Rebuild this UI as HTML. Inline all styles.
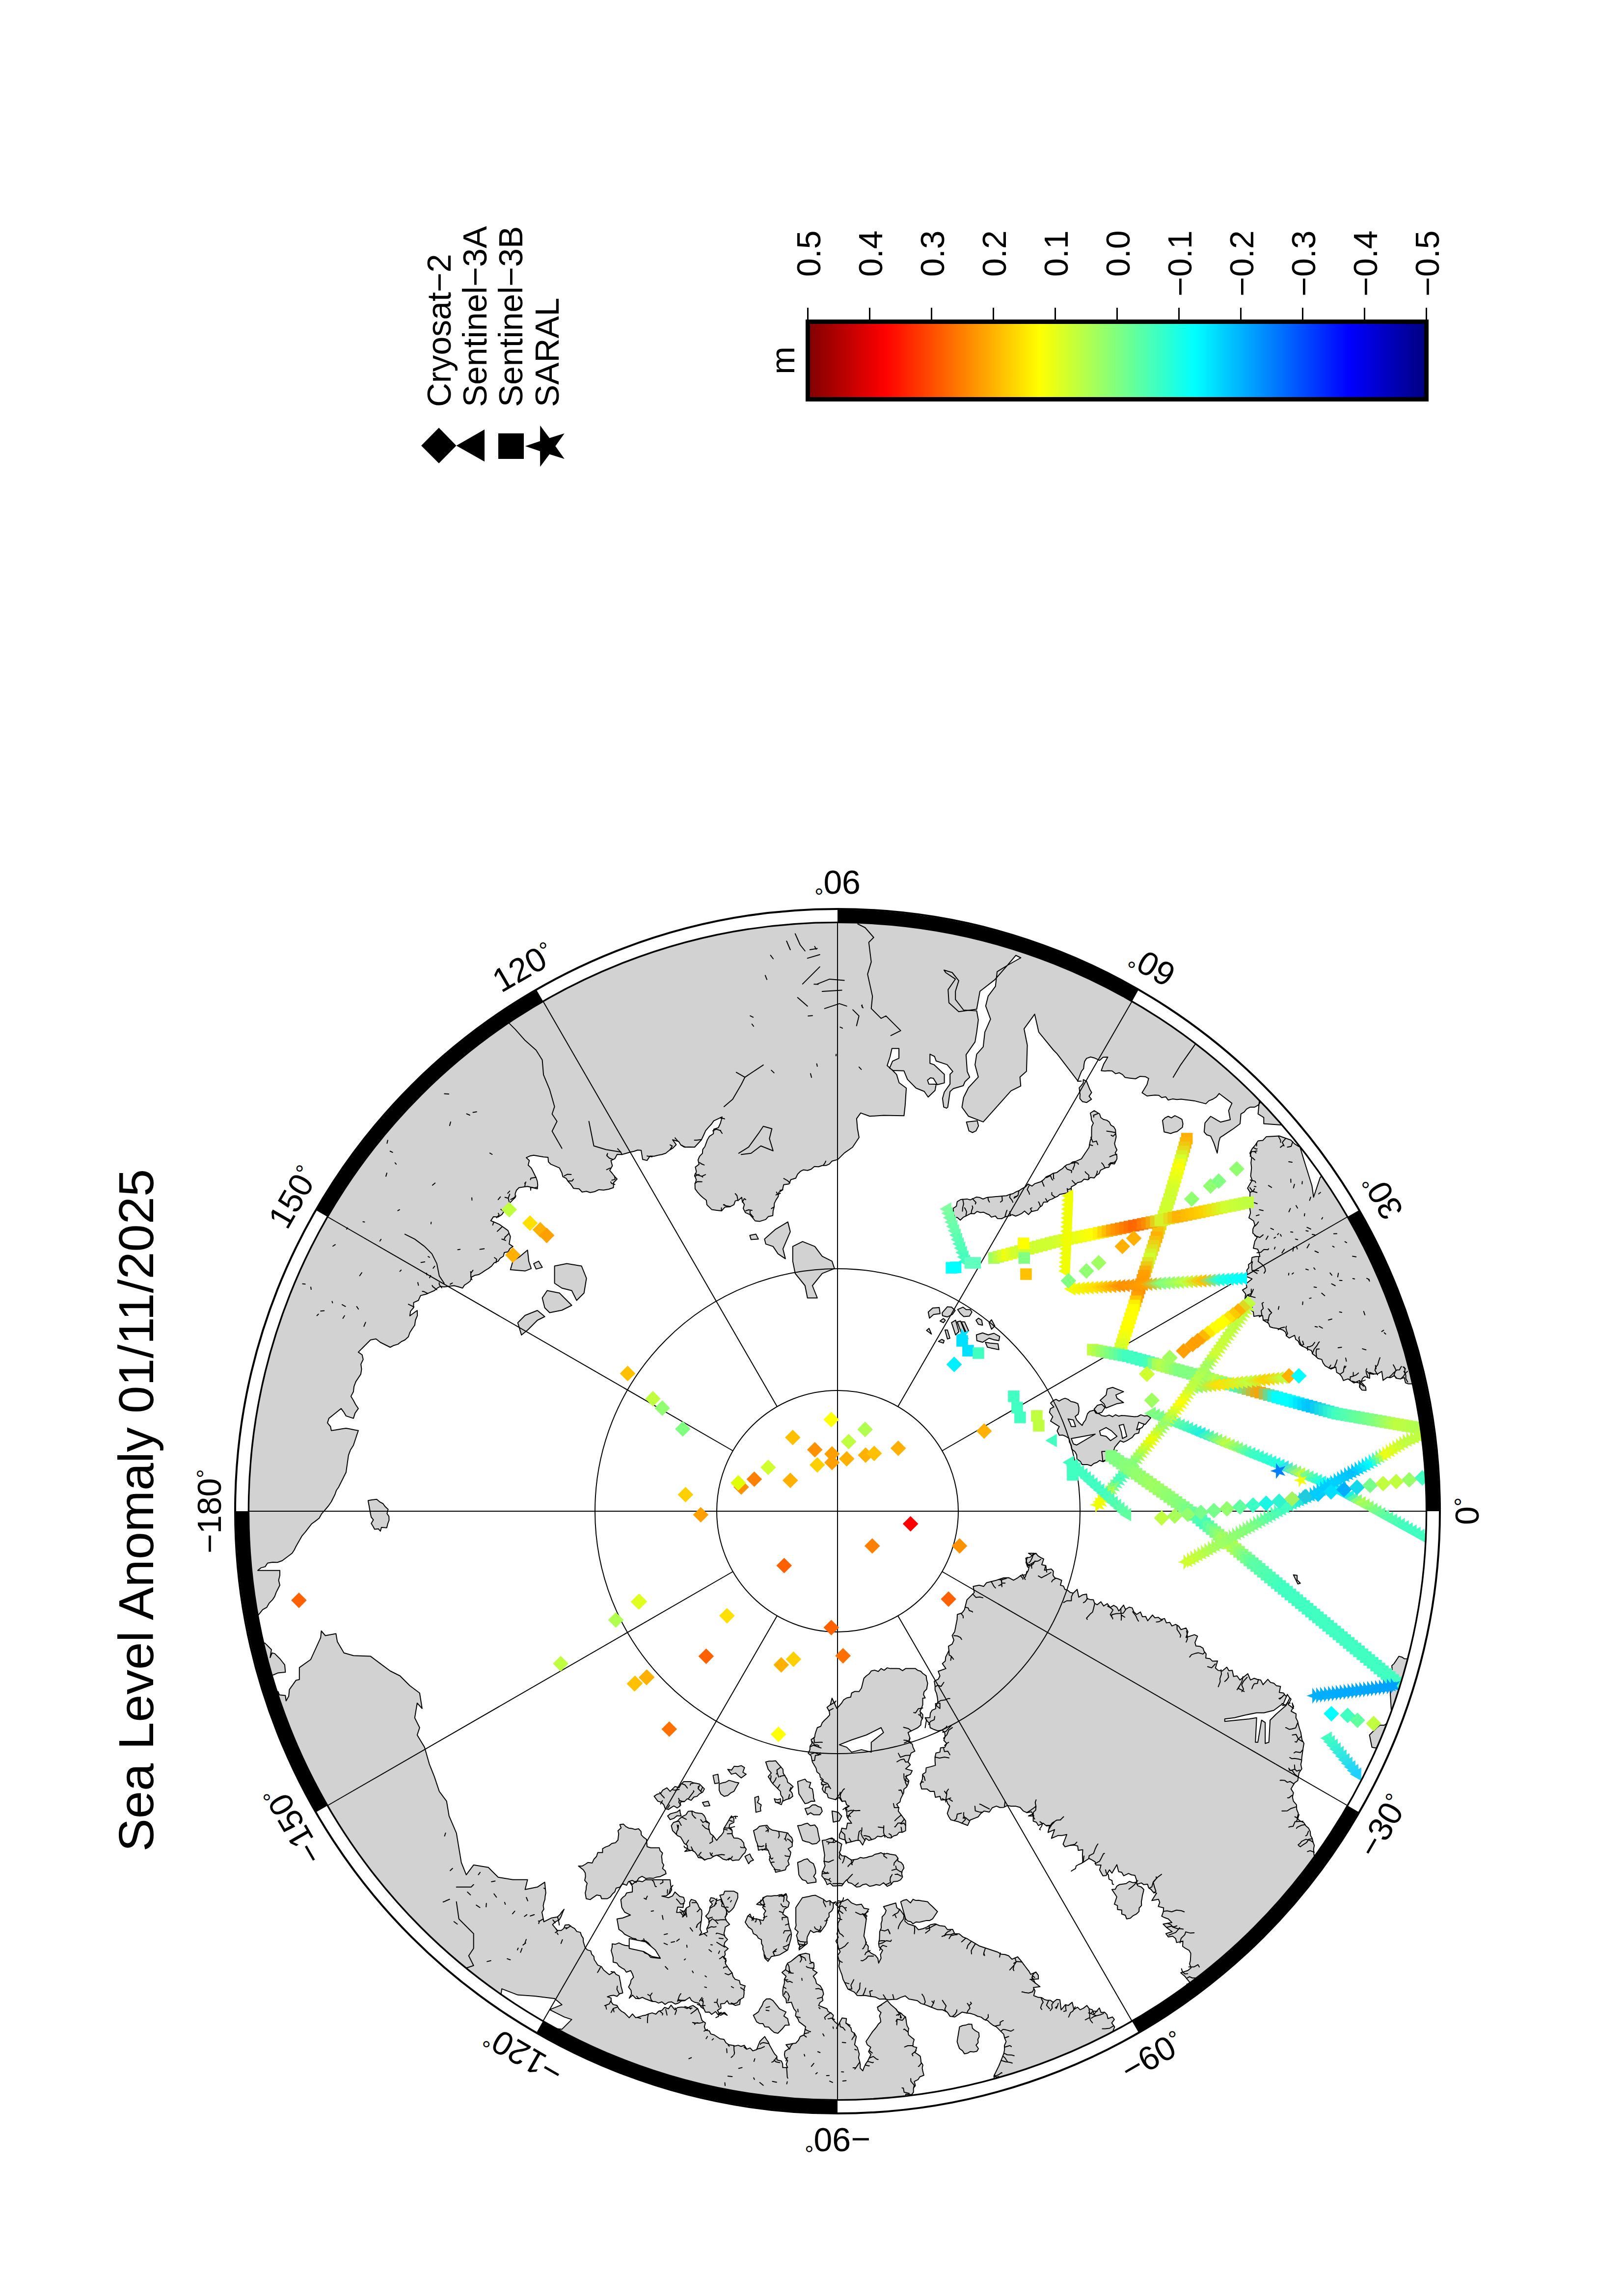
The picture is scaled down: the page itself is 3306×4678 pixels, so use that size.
<!DOCTYPE html>
<html><head><meta charset="utf-8"><style>html,body{margin:0;padding:0;background:#fff;width:3306px;height:4678px;overflow:hidden;position:relative}</style></head>
<body>
<svg width="3306" height="4678" viewBox="0 0 3306 4678" style="position:absolute;left:0;top:0"><rect width="100%" height="100%" fill="#fff"/><defs><clipPath id="mc"><circle cx="1706.0" cy="3079.0" r="1199.6"/></clipPath></defs><g clip-path="url(#mc)"><path d="M407.0,3313.4 L525.0,3292.1 L535.0,3279.6 L543.5,3274.8 L548.3,3266.3 L555.0,3259.6 L559.6,3252.6 L562.5,3244.6 L566.2,3237.2 L570.0,3229.7 L567.6,3219.7 L570.0,3209.7 L570.0,3199.7 L560.0,3199.7 L550.0,3199.7 L541.6,3199.7 L533.3,3199.7 L525.0,3199.7 L531.4,3194.4 L540.1,3192.1 L545.0,3184.7 L555.0,3183.1 L565.3,3183.3 L575.0,3179.7 L581.6,3174.7 L588.3,3169.7 L594.9,3164.7 L599.4,3158.0 L602.9,3150.7 L606.9,3143.7 L610.9,3136.7 L614.9,3129.7 L621.8,3121.6 L628.3,3113.1 L634.9,3104.7 L642.6,3099.1 L650.1,3093.3 L654.9,3084.7 L661.9,3076.6 L668.8,3068.5 L674.9,3059.8 L678.6,3052.3 L682.4,3044.8 L685.1,3036.7 L689.9,3029.8 L693.6,3022.3 L697.4,3014.8 L701.1,3007.3 L704.9,2999.8 L706.1,2991.1 L707.4,2982.3 L708.6,2973.6 L709.9,2964.8 L713.8,2954.3 L719.9,2944.8 L723.2,2934.8 L726.5,2924.8 L729.9,2914.8 L721.5,2913.2 L713.2,2911.5 L704.9,2909.9 L694.9,2911.4 L684.9,2913.2 L674.9,2914.8 L673.2,2906.5 L667.0,2899.1 L669.9,2889.9 L678.2,2883.2 L686.5,2876.5 L694.9,2869.9 L700.2,2877.1 L704.9,2884.9 L719.9,2889.9 L723.3,2879.1 L729.9,2869.9 L724.4,2861.8 L719.9,2853.2 L714.9,2844.9 L719.9,2835.5 L721.1,2824.8 L724.9,2814.9 L729.9,2807.4 L734.9,2799.9 L736.5,2789.9 L735.2,2779.4 L739.8,2769.9 L737.7,2760.5 L729.9,2754.9 L739.8,2745.0 L747.3,2737.5 L754.8,2730.0 L765.9,2728.0 L774.8,2735.0 L784.8,2740.0 L794.8,2745.0 L802.3,2741.2 L810.5,2738.9 L817.3,2733.7 L824.8,2730.0 L831.8,2723.8 L834.8,2715.0 L839.7,2707.4 L844.8,2700.0 L846.2,2690.0 L850.2,2680.3 L849.8,2670.0 L834.8,2681.0 L836.2,2671.7 L842.3,2664.5 L842.6,2653.9 L852.3,2649.5 L856.7,2639.6 L867.3,2637.0 L876.0,2633.3 L884.8,2629.5 L890.6,2624.7 L896.8,2621.0 L904.7,2622.0 L914.7,2620.8 L924.7,2619.5 L933.6,2621.8 L942.2,2624.5 L946.1,2618.4 L952.2,2614.5 L957.8,2610.2 L960.5,2602.0 L966.9,2598.6 L974.7,2597.1 L981.5,2593.1 L988.0,2588.7 L994.7,2584.6 L1001.4,2579.6 L1006.7,2572.9 L1014.7,2569.6 L1018.8,2563.7 L1025.3,2559.5 L1027.2,2552.1 L1034.8,2550.5 L1038.8,2543.8 L1044.7,2539.6 L1037.2,2534.6 L1038.4,2527.1 L1039.7,2519.6 L1034.7,2507.1 L1028.8,2502.9 L1023.0,2498.8 L1017.2,2494.6 L1008.5,2490.7 L999.7,2487.1 L1005.1,2479.1 L1014.7,2479.6 L1022.3,2474.7 L1027.2,2467.1 L1035.8,2462.1 L1037.2,2452.1 L1043.4,2445.9 L1049.7,2439.6 L1049.5,2432.0 L1051.9,2425.3 L1057.2,2419.7 L1065.9,2418.4 L1074.6,2417.2 L1084.6,2419.7 L1094.6,2422.2 L1095.3,2414.5 L1094.6,2407.0 L1092.1,2399.7 L1088.8,2393.0 L1085.5,2386.3 L1082.1,2379.7 L1075.9,2374.1 L1078.2,2364.4 L1072.1,2358.7 L1079.3,2355.3 L1087.1,2353.7 L1097.1,2355.5 L1107.1,2357.2 L1116.3,2358.0 L1117.1,2367.2 L1122.1,2372.2 L1130.9,2375.9 L1139.6,2379.7 L1144.6,2389.7 L1146.4,2397.3 L1153.3,2400.9 L1157.1,2407.0 L1162.1,2412.2 L1168.5,2421.3 L1179.6,2422.2 L1185.7,2428.8 L1194.6,2427.2 L1202.1,2429.7 L1211.2,2428.0 L1219.9,2423.9 L1229.5,2424.7 L1239.8,2423.0 L1249.5,2419.7 L1249.9,2409.5 L1257.0,2402.2 L1251.7,2396.6 L1247.0,2390.5 L1242.0,2384.7 L1247.4,2375.2 L1244.5,2364.7 L1252.2,2360.9 L1257.1,2351.9 L1267.0,2352.2 L1275.8,2349.7 L1284.5,2347.2 L1291.6,2345.8 L1298.6,2343.2 L1306.0,2343.7 L1309.0,2362.2 L1318.0,2364.4 L1324.0,2355.4 L1332.5,2355.7 L1340.3,2353.7 L1348.3,2352.3 L1356.0,2349.7 L1363.1,2343.9 L1371.0,2338.9 L1377.4,2332.2 L1370.0,2322.2 L1382.4,2325.7 L1386.8,2332.8 L1393.9,2337.2 L1404.4,2337.0 L1414.9,2337.2 L1421.9,2329.7 L1428.9,2322.2 L1433.2,2313.0 L1437.4,2303.7 L1442.9,2297.1 L1448.9,2290.8 L1453.9,2283.7 L1462.4,2279.7 L1470.9,2275.7 L1467.4,2288.7 L1463.2,2297.6 L1453.9,2300.7 L1453.1,2310.0 L1445.2,2315.1 L1440.9,2322.2 L1438.4,2329.1 L1435.9,2336.0 L1431.4,2342.1 L1430.9,2349.7 L1424.9,2356.1 L1421.9,2363.4 L1423.9,2372.2 L1416.4,2377.9 L1418.6,2387.4 L1414.9,2394.7 L1418.3,2403.7 L1415.6,2413.0 L1415.9,2422.2 L1420.5,2428.7 L1425.9,2434.7 L1432.0,2440.3 L1438.8,2445.5 L1439.9,2454.6 L1444.9,2459.6 L1449.9,2464.6 L1459.9,2465.9 L1469.9,2467.1 L1476.5,2459.6 L1486.5,2458.8 L1494.9,2454.6 L1497.7,2446.9 L1505.5,2444.6 L1510.9,2439.6 L1511.9,2447.1 L1516.3,2454.2 L1513.9,2462.1 L1518.4,2470.7 L1527.4,2474.6 L1532.9,2480.8 L1538.2,2487.5 L1547.3,2488.6 L1559.8,2484.6 L1564.8,2478.8 L1574.2,2476.7 L1574.8,2467.1 L1576.8,2459.6 L1577.3,2451.7 L1580.8,2444.6 L1585.2,2438.0 L1586.4,2429.3 L1593.8,2424.7 L1596.3,2413.8 L1607.3,2412.2 L1610.9,2403.5 L1620.9,2400.5 L1624.8,2392.2 L1630.3,2386.7 L1636.7,2383.4 L1644.8,2384.7 L1652.3,2382.2 L1658.8,2376.7 L1667.3,2377.2 L1674.8,2374.7 L1682.7,2374.6 L1689.5,2371.7 L1694.8,2365.7 L1706.7,2362.4 L1720.0,2349.1 L1736.6,2337.5 L1749.9,2317.5 L1746.6,2299.2 L1744.9,2279.2 L1753.2,2267.6 L1771.5,2274.3 L1799.8,2272.6 L1841.4,2273.3 L1843.7,2252.6 L1846.1,2217.0 L1831.4,2206.0 L1826.4,2189.4 L1819.1,2181.8 L1807.1,2171.1 L1813.1,2152.8 L1816.8,2136.2 L1831.1,2136.2 L1831.1,2156.1 L1818.1,2162.1 L1812.1,2176.1 L1819.1,2181.1 L1841.4,2181.8 L1848.4,2199.1 L1866.0,2217.0 L1882.7,2223.7 L1890.6,2235.3 L1904.6,2221.7 L1907.0,2209.0 L1892.0,2208.7 L1889.3,2200.7 L1895.3,2196.1 L1901.3,2197.1 L1909.3,2210.0 L1923.6,2206.4 L1923.6,2189.1 L1902.3,2169.1 L1894.3,2166.5 L1894.3,2147.8 L1903.6,2152.5 L1907.0,2161.8 L1929.2,2169.1 L1940.9,2183.1 L1935.2,2188.7 L1935.2,2208.7 L1923.6,2225.0 L1919.9,2238.0 L1922.3,2255.6 L1928.2,2257.9 L1930.6,2255.6 L1935.2,2224.0 L1941.9,2218.0 L1962.2,2212.0 L1965.5,2204.0 L1975.2,2194.7 L1970.2,2183.1 L1967.8,2149.1 L1986.1,2122.9 L1989.5,2102.9 L1992.8,2077.9 L1989.5,2059.6 L1962.8,2058.0 L1946.2,2036.4 L1946.2,2019.7 L1952.9,1998.1 L1939.6,1981.5 L1922.9,1976.5 L1926.2,1981.5 L1946.2,1994.8 L1931.2,2016.4 L1932.9,2043.0 L1952.9,2061.3 L1989.5,2056.3 L1996.1,2019.7 L2026.1,1996.4 L2049.4,1969.8 L2069.3,1946.5 L2079.3,1951.5 L2052.7,1966.5 L2031.1,1979.8 L2027.7,2009.7 L2012.8,2029.7 L2007.8,2049.7 L2017.7,2076.3 L2006.1,2102.9 L2002.8,2132.8 L1989.5,2147.8 L1986.1,2169.4 L1992.8,2194.4 L1972.8,2216.0 L1962.8,2236.0 L1959.5,2256.0 L1972.8,2274.3 L2002.8,2285.9 L2059.3,2222.7 L2079.3,2212.7 L2077.6,2194.4 L2090.9,2182.8 L2092.6,2129.5 L2086.0,2096.2 L2107.6,2066.3 L2115.9,2102.9 L2145.8,2139.5 L2152.5,2146.2 L2195.7,2202.7 L2202.4,2202.7 L2195.0,2203.0 L2197.6,2196.4 L2200.2,2189.7 L2202.8,2183.0 L2207.3,2177.1 L2208.0,2169.7 L2209.3,2162.6 L2213.3,2156.4 L2221.5,2153.5 L2229.9,2155.8 L2239.9,2160.4 L2247.0,2154.1 L2256.5,2153.8 L2252.4,2160.9 L2248.2,2168.1 L2245.7,2174.7 L2243.2,2181.4 L2250.5,2182.3 L2258.0,2181.6 L2265.4,2181.9 L2272.2,2187.6 L2279.8,2185.7 L2286.5,2189.3 L2291.8,2195.3 L2299.8,2196.4 L2313.1,2198.0 L2322.4,2192.9 L2333.0,2193.7 L2339.7,2197.4 L2336.4,2209.7 L2331.4,2218.0 L2326.4,2226.3 L2336.4,2233.0 L2344.7,2232.1 L2353.0,2231.3 L2360.5,2231.7 L2366.3,2236.3 L2374.5,2234.7 L2379.6,2241.3 L2388.4,2239.1 L2397.4,2240.2 L2406.2,2239.6 L2415.1,2240.7 L2424.0,2241.8 L2432.9,2242.9 L2440.6,2244.9 L2448.4,2246.9 L2456.2,2248.9 L2462.3,2242.9 L2470.6,2239.5 L2477.8,2234.8 L2483.4,2228.0 L2489.9,2233.0 L2496.4,2237.9 L2502.9,2242.9 L2509.4,2247.9 L2505.9,2255.4 L2502.7,2262.9 L2504.4,2272.1 L2506.1,2281.2 L2496.1,2283.7 L2486.1,2286.2 L2479.4,2282.3 L2472.8,2278.4 L2466.1,2274.5 L2460.3,2281.2 L2454.5,2287.9 L2453.7,2297.0 L2452.8,2306.2 L2457.8,2312.0 L2466.2,2314.9 L2469.6,2322.1 L2472.8,2329.4 L2475.0,2336.1 L2477.2,2342.8 L2479.4,2349.4 L2480.6,2341.6 L2481.7,2333.9 L2482.8,2326.1 L2485.4,2317.7 L2492.8,2312.8 L2499.4,2308.4 L2506.1,2303.9 L2512.7,2299.5 L2519.4,2294.5 L2526.0,2289.5 L2526.9,2279.5 L2527.7,2269.6 L2534.4,2265.6 L2539.3,2259.6 L2546.7,2255.7 L2555.3,2255.8 L2562.6,2251.9 L2567.6,2245.6 L2654.8,2161.3 L2654.8,2161.3 L2605.5,2112.9 L2553.7,2067.1 L2499.5,2024.2 L2443.2,1984.1 L2384.9,1947.0 L2324.8,1913.0 L2262.9,1882.2 L2199.5,1854.7 L2134.7,1830.6 L2068.8,1809.8 L2001.9,1792.6 L1934.2,1778.9 L1865.8,1768.7 L1797.0,1762.1 L1728.0,1759.2 L1658.9,1759.8 L1589.9,1764.1 L1521.2,1772.0 L1453.1,1783.5 L1385.6,1798.5 L1319.0,1817.0 L1253.5,1839.0 L1189.3,1864.4 L1126.4,1893.1 L1065.1,1925.0 L1005.6,1960.1 L948.0,1998.3 L892.5,2039.5 L839.2,2083.5 L788.3,2130.2 L739.9,2179.5 L694.1,2231.3 L651.2,2285.5 L611.1,2341.8 L574.0,2400.1 L540.0,2460.2 L509.2,2522.1 L481.7,2585.5 L457.6,2650.3 L436.8,2716.2 L419.6,2783.1 L405.9,2850.8 L395.7,2919.2 L389.1,2988.0 L386.2,3057.0 L386.8,3126.1 L391.1,3195.1 L399.0,3263.8 L407.0,3313.4ZM2741.5,2260.4 L2645.8,2336.1 L2636.8,2330.4 L2629.2,2322.8 L2621.4,2320.0 L2613.6,2317.2 L2605.9,2314.5 L2597.0,2315.0 L2588.1,2315.6 L2579.3,2316.1 L2572.5,2323.4 L2562.6,2324.5 L2557.1,2332.8 L2550.6,2340.5 L2546.0,2349.4 L2549.4,2359.1 L2548.2,2369.4 L2549.3,2379.4 L2548.5,2387.7 L2547.5,2396.0 L2550.6,2404.7 L2546.0,2412.6 L2541.2,2420.9 L2546.4,2429.3 L2546.0,2437.6 L2548.3,2445.9 L2546.0,2454.2 L2546.0,2462.5 L2547.2,2471.2 L2544.0,2481.2 L2553.5,2487.5 L2556.0,2495.8 L2552.1,2504.1 L2552.0,2512.4 L2560.9,2520.8 L2556.0,2529.1 L2553.0,2543.2 L2561.9,2545.2 L2564.5,2552.2 L2566.4,2559.9 L2557.9,2560.3 L2550.3,2561.9 L2548.9,2572.3 L2543.1,2576.5 L2543.6,2582.9 L2539.7,2588.1 L2540.5,2594.6 L2536.4,2599.8 L2550.4,2605.7 L2538.6,2615.3 L2539.7,2623.1 L2530.9,2628.4 L2537.2,2636.3 L2536.4,2643.0 L2535.0,2653.3 L2545.3,2651.9 L2549.7,2656.3 L2544.1,2666.1 L2553.0,2673.0 L2554.0,2682.0 L2563.6,2680.6 L2572.0,2680.7 L2573.0,2689.6 L2578.3,2692.9 L2583.9,2695.8 L2586.7,2703.2 L2592.8,2705.3 L2599.6,2706.2 L2606.8,2707.8 L2613.4,2710.0 L2618.6,2714.2 L2620.9,2722.2 L2626.2,2726.2 L2637.1,2720.7 L2639.3,2729.0 L2644.5,2732.5 L2647.5,2739.5 L2652.9,2742.8 L2659.1,2745.6 L2664.8,2749.1 L2671.2,2751.6 L2674.1,2758.9 L2679.5,2762.8 L2684.5,2767.8 L2692.4,2769.9 L2695.1,2777.1 L2699.4,2782.8 L2705.3,2786.1 L2711.1,2789.4 L2721.1,2785.4 L2722.7,2796.1 L2728.6,2799.4 L2733.1,2804.9 L2736.4,2812.7 L2746.0,2809.4 L2751.8,2813.5 L2757.7,2817.7 L2770.0,2812.7 L2769.3,2826.0 L2774.5,2832.3 L2782.6,2832.7 L2781.6,2825.8 L2777.2,2820.8 L2772.6,2816.0 L2775.4,2808.6 L2780.3,2804.6 L2789.9,2808.1 L2789.8,2796.2 L2799.3,2799.4 L2806.4,2799.1 L2814.7,2794.2 L2817.2,2812.4 L2825.9,2806.1 L2832.5,2806.9 L2839.8,2803.0 L2845.8,2808.6 L2852.5,2809.4 L2860.5,2806.8 L2862.9,2817.3 L2868.8,2819.6 L2875.8,2819.4 L2994.6,2793.0 L2994.6,2793.0 L2977.9,2725.9 L2957.7,2659.9 L2934.0,2594.9 L2907.0,2531.3 L2876.7,2469.2 L2843.2,2408.8 L2806.6,2350.2 L2766.9,2293.6 L2741.5,2260.4ZM2564.3,2252.3 L2562.6,2269.6 L2574.3,2276.9 L2574.3,2289.5 L2619.2,2292.8 L2619.2,2236.3 L2566.0,2236.3ZM2488.9,4141.8 L2417.3,4044.6 L2423.7,4039.1 L2418.3,4032.7 L2413.1,4026.2 L2405.2,4019.5 L2419.8,4014.7 L2426.2,4009.2 L2423.1,4001.3 L2424.8,3994.7 L2425.2,3987.3 L2425.6,3979.9 L2422.3,3973.9 L2414.8,3969.7 L2409.0,3965.5 L2409.6,3954.9 L2396.7,3957.9 L2394.8,3949.7 L2388.8,3945.0 L2379.8,3946.4 L2374.8,3939.7 L2387.6,3935.7 L2376.8,3927.7 L2369.3,3920.3 L2387.1,3917.1 L2379.8,3909.7 L2372.7,3907.3 L2366.4,3904.2 L2369.8,3894.7 L2370.2,3887.3 L2359.4,3884.4 L2362.3,3876.0 L2359.8,3869.8 L2346.2,3872.2 L2355.9,3857.1 L2348.6,3854.8 L2344.8,3849.8 L2339.8,3846.4 L2337.5,3839.1 L2329.9,3839.8 L2324.9,3836.4 L2315.7,3839.3 L2314.9,3829.8 L2311.8,3821.0 L2304.8,3820.0 L2298.7,3817.1 L2288.9,3821.8 L2284.9,3814.8 L2278.6,3813.5 L2275.0,3799.2 L2265.0,3816.5 L2259.9,3809.8 L2253.2,3821.2 L2246.6,3821.9 L2239.9,3809.8 L2242.7,3799.9 L2232.4,3799.8 L2230.7,3793.3 L2224.9,3789.8 L2218.3,3786.5 L2205.7,3794.9 L2204.9,3779.8 L2205.5,3768.8 L2196.4,3770.0 L2195.2,3761.2 L2188.5,3759.4 L2179.9,3759.8 L2169.4,3762.8 L2165.5,3757.4 L2173.0,3737.8 L2163.2,3739.8 L2155.0,3739.8 L2141.7,3745.6 L2148.2,3727.7 L2134.8,3733.6 L2138.2,3719.3 L2130.0,3719.0 L2125.0,3714.8 L2115.2,3719.4 L2111.1,3712.7 L2104.6,3710.6 L2104.7,3695.4 L2095.0,3699.9 L2106.0,3699.9 L2101.2,3691.4 L2091.7,3693.2 L2084.5,3689.9 L2077.8,3682.5 L2069.1,3680.1 L2059.5,3679.9 L2052.0,3678.7 L2044.5,3682.4 L2037.0,3682.8 L2029.5,3679.9 L2021.2,3683.2 L2015.1,3692.0 L2004.6,3689.9 L1997.9,3694.9 L1992.6,3701.7 L1984.6,3704.9 L1976.2,3708.2 L1971.0,3719.3 L1959.6,3714.8 L1952.3,3711.8 L1944.6,3709.9 L1936.7,3707.7 L1932.8,3701.7 L1929.6,3694.9 L1932.1,3687.4 L1934.6,3679.9 L1930.2,3674.3 L1927.7,3666.8 L1917.0,3667.4 L1914.6,3659.9 L1905.3,3661.9 L1903.0,3649.8 L1894.6,3649.9 L1888.0,3644.9 L1877.4,3645.1 L1874.6,3634.9 L1878.8,3625.3 L1879.6,3614.9 L1885.7,3611.0 L1886.6,3601.9 L1894.6,3599.9 L1905.3,3596.9 L1904.6,3588.2 L1904.6,3579.9 L1906.5,3571.8 L1914.6,3569.9 L1915.8,3561.2 L1924.6,3559.9 L1928.4,3552.3 L1922.6,3546.0 L1925.0,3538.5 L1924.7,3531.4 L1919.6,3525.0 L1910.6,3526.6 L1902.5,3523.8 L1894.6,3520.0 L1893.7,3512.1 L1888.6,3506.3 L1884.6,3500.0 L1894.2,3499.6 L1895.1,3490.4 L1898.9,3484.3 L1906.0,3481.3 L1905.6,3471.0 L1914.6,3470.0 L1914.6,3481.0 L1907.2,3475.2 L1910.4,3466.9 L1909.6,3459.5 L1908.0,3451.2 L1904.7,3443.2 L1904.6,3434.5 L1903.1,3425.4 L1911.3,3421.2 L1914.6,3414.5 L1911.1,3405.2 L1926.7,3399.6 L1919.6,3389.6 L1925.5,3384.2 L1926.3,3376.2 L1929.6,3369.6 L1932.9,3362.9 L1932.0,3354.1 L1939.6,3349.6 L1943.0,3341.6 L1939.5,3332.2 L1944.6,3324.6 L1946.3,3316.3 L1947.9,3307.9 L1949.6,3299.6 L1950.0,3289.5 L1959.6,3286.3 L1964.6,3279.6 L1967.1,3269.6 L1969.6,3259.6 L1974.6,3254.6 L1979.6,3249.6 L1984.6,3244.6 L1982.4,3232.3 L1994.6,3229.7 L2003.8,3232.2 L2009.6,3224.7 L2019.6,3222.2 L2029.5,3219.7 L2037.0,3217.2 L2044.5,3214.7 L2055.2,3214.6 L2064.5,3219.7 L2072.4,3215.2 L2079.5,3209.7 L2089.5,3208.4 L2094.5,3199.7 L2096.6,3190.6 L2091.2,3183.0 L2089.5,3174.7 L2099.4,3172.4 L2106.0,3164.7 L2095.0,3164.7 L2102.5,3169.5 L2110.0,3164.7 L2114.0,3169.7 L2119.7,3173.3 L2126.0,3176.5 L2122.0,3187.9 L2130.0,3189.7 L2127.5,3199.3 L2141.3,3196.8 L2145.7,3201.3 L2145.0,3209.7 L2148.6,3214.8 L2156.0,3217.0 L2162.6,3219.9 L2160.0,3229.7 L2166.3,3231.6 L2169.1,3238.3 L2175.3,3240.4 L2179.9,3244.6 L2186.2,3245.9 L2194.2,3238.3 L2197.5,3254.2 L2204.9,3249.6 L2213.3,3248.0 L2214.4,3257.1 L2220.4,3258.9 L2227.2,3259.6 L2229.6,3266.7 L2234.9,3269.6 L2242.5,3263.5 L2248.1,3272.1 L2255.5,3267.4 L2261.3,3275.2 L2268.6,3270.8 L2274.9,3274.6 L2279.0,3282.3 L2288.7,3270.4 L2292.5,3279.1 L2300.1,3274.5 L2306.1,3275.9 L2309.9,3284.6 L2315.2,3289.3 L2323.1,3284.3 L2327.0,3294.1 L2333.7,3293.5 L2337.8,3302.3 L2347.6,3290.5 L2352.6,3296.3 L2359.5,3295.3 L2364.8,3299.6 L2372.1,3297.7 L2375.9,3306.5 L2382.8,3305.6 L2387.1,3312.8 L2394.8,3309.6 L2401.1,3313.4 L2405.5,3320.2 L2415.9,3316.9 L2419.8,3324.6 L2415.9,3336.3 L2433.0,3330.6 L2439.3,3333.7 L2434.1,3346.6 L2436.0,3353.5 L2444.8,3354.6 L2450.5,3358.2 L2452.8,3364.6 L2456.8,3369.6 L2456.2,3378.2 L2464.8,3379.6 L2469.8,3384.6 L2480.1,3384.2 L2475.8,3398.5 L2481.1,3403.2 L2489.8,3404.5 L2499.0,3396.8 L2503.2,3404.1 L2510.2,3403.3 L2512.7,3415.8 L2519.7,3414.5 L2525.7,3422.9 L2533.7,3416.5 L2541.8,3410.1 L2547.1,3422.9 L2554.7,3419.5 L2561.2,3421.8 L2568.0,3422.9 L2572.7,3432.5 L2582.5,3421.6 L2588.0,3427.9 L2594.7,3429.5 L2599.8,3434.4 L2608.3,3436.0 L2605.9,3448.3 L2614.7,3449.5 L2618.0,3454.8 L2625.2,3457.6 L2629.9,3461.9 L2624.1,3473.0 L2629.6,3476.9 L2634.7,3481.0 L2632.2,3470.0 L2635.1,3477.2 L2629.9,3486.5 L2640.1,3491.9 L2639.7,3500.0 L2643.3,3507.1 L2645.0,3514.8 L2647.2,3522.5 L2649.7,3530.0 L2650.9,3537.5 L2652.2,3545.0 L2656.1,3552.0 L2654.7,3559.9 L2653.7,3566.9 L2652.7,3573.9 L2651.7,3580.9 L2651.3,3588.0 L2649.7,3594.9 L2651.7,3604.0 L2646.3,3611.6 L2644.7,3619.9 L2643.6,3627.7 L2637.2,3632.4 L2633.4,3638.6 L2629.7,3644.9 L2634.7,3652.5 L2632.7,3661.6 L2634.7,3669.9 L2640.9,3677.1 L2641.3,3686.5 L2644.7,3694.9 L2642.1,3704.9 L2648.0,3709.8 L2655.9,3713.6 L2659.7,3719.8 L2665.7,3725.1 L2668.9,3731.9 L2669.6,3739.8 L2673.1,3746.1 L2674.6,3753.2 L2677.1,3759.8 L2675.8,3767.3 L2676.1,3774.8 L2677.1,3782.3 L2775.1,3853.2 L2775.1,3853.2 L2733.1,3908.1 L2688.3,3960.8 L2640.8,4011.0 L2590.8,4058.6 L2538.3,4103.6 L2488.9,4141.8ZM2050.8,4353.2 L2029.5,4274.5 L2028.7,4267.0 L2027.9,4259.5 L2027.8,4251.9 L2023.5,4244.8 L2025.4,4237.0 L2024.6,4229.5 L2027.9,4222.9 L2031.2,4216.2 L2034.5,4209.5 L2037.9,4201.2 L2041.2,4192.9 L2044.5,4184.6 L2046.2,4176.2 L2046.0,4167.5 L2049.5,4159.6 L2046.3,4152.3 L2044.5,4144.6 L2039.5,4139.6 L2034.5,4134.6 L2029.5,4129.6 L2022.9,4126.5 L2017.1,4122.1 L2011.7,4116.8 L2004.6,4114.6 L1998.6,4109.9 L1991.2,4108.0 L1984.6,4104.6 L1976.4,4102.3 L1967.9,4101.3 L1959.6,4099.6 L1952.1,4104.6 L1944.6,4109.6 L1934.9,4107.9 L1929.6,4099.6 L1920.1,4095.0 L1909.6,4094.6 L1901.3,4091.3 L1893.0,4088.0 L1884.6,4084.6 L1876.0,4082.1 L1868.7,4076.2 L1859.7,4074.6 L1851.3,4073.0 L1843.9,4066.5 L1834.7,4069.6 L1826.8,4073.5 L1818.2,4073.8 L1809.7,4074.6 L1801.0,4072.8 L1791.9,4073.3 L1783.7,4069.1 L1776.0,4068.0 L1768.4,4066.8 L1760.7,4065.6 L1753.2,4066.1 L1746.0,4065.7 L1740.7,4059.1 L1734.0,4055.9 L1727.2,4052.6 L1723.9,4046.0 L1720.6,4039.3 L1717.2,4032.7 L1715.0,4023.6 L1711.6,4015.0 L1708.7,4006.2 L1710.0,3998.8 L1708.4,3991.5 L1706.2,3984.2 L1711.5,3976.7 L1708.0,3969.4 L1706.6,3962.1 L1702.7,3954.9 L1707.5,3947.4 L1704.8,3940.1 L1707.2,3932.7 L1706.5,3925.2 L1707.2,3917.7 L1711.5,3910.2 L1710.5,3902.7 L1707.2,3895.2 L1710.6,3887.7 L1702.4,3880.2 L1707.2,3872.8 L1716.4,3874.3 L1726.6,3869.5 L1734.7,3877.2 L1744.4,3881.2 L1754.7,3879.7 L1760.0,3888.1 L1769.7,3889.7 L1763.4,3898.8 L1764.7,3909.7 L1763.7,3916.7 L1762.7,3923.7 L1761.7,3930.7 L1760.7,3937.7 L1759.7,3944.7 L1762.7,3951.7 L1763.9,3959.5 L1768.7,3965.7 L1768.2,3974.2 L1774.7,3979.7 L1783.1,3983.8 L1788.2,3990.4 L1789.7,3999.7 L1794.7,3989.7 L1793.4,3982.2 L1797.9,3973.7 L1790.9,3967.2 L1789.7,3959.7 L1791.3,3951.8 L1791.7,3943.7 L1791.9,3935.6 L1795.1,3927.9 L1794.7,3919.7 L1796.8,3912.9 L1796.7,3905.7 L1802.5,3899.4 L1805.0,3892.6 L1799.7,3884.7 L1808.0,3882.2 L1816.3,3879.7 L1824.7,3877.2 L1826.7,3886.8 L1834.5,3892.4 L1839.7,3899.7 L1843.6,3906.1 L1843.4,3914.5 L1849.7,3919.7 L1857.2,3922.2 L1864.6,3924.8 L1870.6,3931.7 L1879.6,3929.7 L1888.0,3926.4 L1895.6,3921.4 L1904.6,3919.7 L1914.3,3923.5 L1924.6,3924.7 L1929.9,3931.5 L1940.6,3931.1 L1944.6,3939.7 L1954.1,3940.2 L1961.3,3946.4 L1969.6,3949.7 L1975.8,3953.5 L1982.1,3957.2 L1988.3,3960.9 L1994.6,3964.7 L2002.1,3967.2 L2009.6,3969.7 L2017.1,3972.2 L2024.6,3974.7 L2032.0,3977.2 L2039.0,3981.4 L2047.0,3982.2 L2054.5,3984.7 L2061.3,3991.9 L2072.9,3987.0 L2079.5,3994.7 L2084.5,4001.3 L2089.5,4008.0 L2094.5,4014.7 L2095.0,4014.7 L2099.4,4022.6 L2110.1,4017.9 L2115.0,4024.7 L2115.2,4032.0 L2099.7,4033.0 L2118.4,4047.8 L2105.0,4049.6 L2108.3,4056.3 L2105.7,4066.0 L2115.0,4069.6 L2121.6,4069.9 L2127.0,4073.6 L2133.0,4075.6 L2139.7,4075.5 L2145.0,4079.6 L2152.7,4073.7 L2159.0,4074.4 L2161.4,4095.1 L2170.0,4084.6 L2176.2,4085.9 L2184.0,4079.6 L2187.5,4094.2 L2194.9,4089.6 L2200.2,4094.9 L2206.9,4091.6 L2214.0,4086.1 L2219.0,4093.0 L2224.9,4094.6 L2228.6,4103.7 L2239.4,4091.2 L2242.9,4100.6 L2249.9,4099.7 L2254.9,4104.6 L2256.7,4112.7 L2266.1,4109.5 L2269.9,4114.6 L2264.6,4121.6 L2270.4,4129.8 L2267.4,4137.1 L2324.7,4245.0 L2324.7,4245.0 L2262.8,4275.8 L2199.4,4303.3 L2134.6,4327.5 L2068.7,4348.2 L2050.8,4353.2ZM449.7,3484.0 L566.4,3446.4 L569.1,3453.2 L581.3,3454.5 L582.7,3465.4 L588.1,3455.9 L589.5,3442.3 L603.0,3423.4 L609.8,3422.0 L609.8,3397.6 L632.8,3381.3 L653.2,3336.6 L654.5,3323.0 L662.7,3332.5 L684.3,3328.5 L687.1,3344.7 L700.6,3367.8 L720.0,3373.2 L754.8,3374.6 L774.8,3389.6 L794.8,3404.5 L814.8,3414.5 L834.8,3434.5 L854.8,3449.5 L859.8,3481.0 L849.8,3470.0 L844.8,3500.0 L854.8,3520.0 L849.8,3535.0 L864.8,3559.9 L874.8,3594.9 L884.8,3619.9 L894.8,3649.9 L909.7,3669.9 L914.7,3699.9 L929.7,3734.8 L934.7,3764.8 L939.7,3794.8 L949.7,3819.8 L964.7,3799.8 L994.7,3804.8 L1014.7,3824.8 L1044.7,3829.8 L1074.6,3829.8 L1069.6,3849.8 L1094.6,3844.8 L1109.6,3834.8 L1111.8,3856.8 L1110.5,3863.3 L1110.0,3870.0 L1107.8,3876.4 L1106.5,3882.9 L1107.8,3889.9 L1103.9,3896.0 L1105.2,3902.5 L1106.5,3909.0 L1107.8,3915.5 L1115.7,3911.6 L1123.5,3907.7 L1135.3,3905.7 L1140.5,3901.1 L1144.4,3895.3 L1149.0,3890.1 L1145.7,3897.3 L1143.0,3904.7 L1139.2,3911.6 L1131.5,3915.3 L1125.5,3921.4 L1130.4,3927.3 L1135.3,3933.2 L1143.1,3933.2 L1148.3,3929.3 L1151.2,3922.2 L1158.8,3921.4 L1164.3,3925.9 L1170.5,3929.3 L1174.9,3935.4 L1182.3,3937.1 L1184.3,3943.4 L1187.9,3949.1 L1188.2,3955.9 L1190.1,3962.2 L1192.1,3968.5 L1196.5,3972.9 L1203.3,3974.9 L1205.3,3981.7 L1209.7,3986.1 L1210.5,3992.8 L1214.2,3998.2 L1217.6,4003.7 L1225.0,4006.8 L1229.3,4013.5 L1235.2,4018.4 L1241.1,4023.3 L1250.9,4017.4 L1254.8,4022.7 L1261.4,4025.9 L1262.6,4033.1 L1264.1,4040.0 L1265.0,4047.0 L1267.0,4053.7 L1268.5,4060.5 L1262.3,4062.3 L1256.9,4067.5 L1249.7,4065.3 L1243.3,4066.3 L1237.2,4068.4 L1244.7,4070.9 L1245.0,4078.8 L1248.9,4084.1 L1256.7,4086.0 L1260.7,4092.9 L1266.1,4097.9 L1272.4,4101.7 L1281.7,4111.1 L1288.3,4103.4 L1295.0,4111.1 L1301.7,4109.1 L1308.3,4107.1 L1315.2,4105.7 L1321.6,4103.1 L1328.3,4101.1 L1336.0,4103.8 L1341.6,4097.8 L1348.2,4096.1 L1353.8,4090.0 L1361.5,4092.8 L1366.9,4085.4 L1374.5,4094.8 L1380.3,4090.3 L1386.5,4089.5 L1392.9,4089.6 L1399.6,4092.4 L1405.4,4088.4 L1411.5,4086.1 L1421.4,4092.8 L1423.7,4098.9 L1426.6,4104.7 L1428.1,4111.1 L1430.3,4117.2 L1436.9,4121.7 L1434.7,4129.4 L1437.2,4136.6 L1444.7,4137.7 L1447.9,4144.1 L1454.7,4146.0 L1460.7,4150.0 L1466.7,4154.0 L1474.6,4155.0 L1478.7,4162.0 L1484.6,4166.0 L1490.8,4166.9 L1496.9,4168.8 L1503.5,4167.1 L1509.4,4169.5 L1516.1,4167.2 L1521.2,4175.1 L1527.9,4172.6 L1533.5,4178.5 L1541.2,4176.0 L1544.5,4167.7 L1547.9,4159.3 L1552.9,4154.3 L1557.8,4149.4 L1561.2,4155.3 L1565.2,4160.9 L1567.8,4167.3 L1571.2,4173.3 L1574.5,4179.3 L1577.8,4184.8 L1582.5,4189.6 L1582.7,4197.0 L1591.6,4199.2 L1594.2,4205.2 L1594.4,4212.6 L1604.4,4212.6 L1601.4,4206.3 L1604.4,4198.4 L1599.3,4192.6 L1597.8,4186.0 L1598.9,4179.3 L1607.5,4173.9 L1601.1,4166.0 L1607.8,4164.9 L1614.4,4163.8 L1621.1,4162.7 L1626.4,4157.0 L1630.0,4149.5 L1637.7,4146.0 L1639.4,4137.7 L1641.0,4129.4 L1634.4,4124.4 L1627.7,4119.4 L1625.1,4112.8 L1620.4,4106.9 L1621.8,4098.6 L1617.1,4092.8 L1614.4,4086.1 L1612.1,4079.5 L1602.0,4080.8 L1601.1,4072.8 L1594.9,4065.7 L1594.4,4056.2 L1595.6,4048.4 L1597.8,4040.8 L1597.8,4032.9 L1601.3,4026.6 L1592.8,4018.8 L1600.3,4012.9 L1601.1,4006.3 L1604.5,3999.7 L1611.1,3996.3 L1616.6,3991.9 L1622.2,3987.4 L1627.7,3983.0 L1634.4,3981.3 L1641.0,3979.7 L1648.8,3981.6 L1649.3,3989.6 L1650.8,3996.9 L1657.7,3999.6 L1658.3,4006.3 L1655.6,4013.3 L1664.5,4019.1 L1656.6,4026.6 L1661.0,4032.9 L1663.3,4041.5 L1671.0,4046.2 L1675.5,4054.1 L1677.6,4062.8 L1674.9,4068.6 L1676.1,4076.0 L1670.1,4080.3 L1667.6,4086.1 L1676.0,4089.5 L1684.3,4092.8 L1687.2,4098.7 L1693.2,4101.7 L1697.6,4106.1 L1695.6,4113.7 L1700.8,4119.4 L1707.2,4124.9 L1704.2,4132.7 L1707.6,4126.1 L1710.9,4119.4 L1715.3,4111.5 L1724.2,4112.8 L1723.1,4121.3 L1728.1,4126.5 L1733.3,4131.5 L1734.7,4138.7 L1740.8,4143.3 L1744.2,4149.4 L1742.5,4157.7 L1740.8,4166.0 L1746.4,4171.6 L1748.2,4178.3 L1750.3,4184.9 L1748.8,4192.6 L1750.8,4199.3 L1752.3,4206.1 L1752.2,4213.6 L1757.5,4219.2 L1760.1,4212.2 L1763.2,4205.4 L1767.5,4199.3 L1770.8,4192.6 L1774.1,4186.0 L1769.2,4180.2 L1773.6,4171.0 L1766.6,4166.0 L1764.1,4159.3 L1768.6,4152.7 L1773.0,4146.0 L1777.4,4139.4 L1781.7,4134.5 L1785.8,4129.4 L1789.3,4123.9 L1794.1,4119.4 L1793.2,4113.3 L1791.5,4107.4 L1794.7,4100.4 L1788.8,4095.5 L1787.4,4089.5 L1794.1,4085.0 L1800.7,4080.6 L1807.4,4076.2 L1814.7,4084.6 L1819.7,4088.8 L1824.7,4092.9 L1828.6,4098.4 L1834.7,4101.3 L1839.3,4105.8 L1844.7,4109.6 L1845.7,4115.6 L1846.4,4121.6 L1847.7,4127.6 L1851.0,4133.2 L1849.7,4139.6 L1850.6,4145.9 L1856.3,4150.7 L1862.1,4155.4 L1860.0,4162.8 L1859.7,4169.6 L1867.3,4171.6 L1863.9,4182.0 L1869.5,4185.6 L1874.6,4189.6 L1875.6,4195.6 L1876.1,4201.6 L1879.9,4207.2 L1878.5,4213.6 L1879.6,4219.5 L1881.9,4228.2 L1873.6,4231.5 L1870.0,4237.2 L1862.4,4240.9 L1864.6,4249.5 L1860.7,4254.5 L1860.7,4262.8 L1856.8,4267.8 L1845.1,4266.7 L1844.7,4274.5 L1858.1,4390.2 L1858.1,4390.2 L1789.2,4396.4 L1720.2,4398.9 L1651.1,4397.9 L1582.1,4393.2 L1513.5,4384.9 L1445.5,4373.0 L1378.1,4357.6 L1311.6,4338.7 L1246.2,4316.3 L1182.1,4290.6 L1119.4,4261.5 L1058.3,4229.2 L999.0,4193.7 L941.6,4155.2 L886.4,4113.7 L833.3,4069.4 L782.7,4022.4 L734.6,3972.7 L689.2,3920.7 L646.5,3866.3 L606.7,3809.8 L570.0,3751.3 L536.4,3690.9 L506.0,3628.8 L478.8,3565.3 L455.1,3500.4 L449.7,3484.0ZM539.3,3347.4 L552.9,3361.0 L550.2,3377.3 L554.2,3367.8 L559.6,3369.1 L570.5,3380.0 L580.0,3392.2 L581.3,3407.1 L566.4,3408.4 L556.9,3412.5 L540.7,3415.2 L527.1,3354.2ZM2829.5,3404.5 L2835.9,3401.6 L2835.1,3393.8 L2839.5,3389.6 L2842.9,3384.6 L2846.2,3379.6 L2849.5,3374.6 L2855.4,3376.2 L2860.7,3379.7 L2867.0,3379.6 L2873.6,3378.3 L2880.6,3379.3 L2886.7,3375.8 L2894.1,3379.2 L2899.8,3373.3 L2906.4,3372.1 L2912.8,3370.2 L2919.5,3369.6 L2919.5,3375.8 L2919.5,3382.1 L2919.9,3388.3 L2919.5,3394.6 L2920.4,3400.8 L2920.9,3407.0 L2919.5,3413.3 L2920.2,3419.5 L2922.3,3425.8 L2922.8,3432.0 L2916.7,3438.3 L2919.5,3444.5 L2920.1,3450.8 L2923.1,3457.0 L2916.1,3463.3 L2915.5,3469.5 L2918.0,3475.8 L2918.7,3482.0 L2919.5,3488.2 L2919.5,3494.5 L2913.4,3494.5 L2907.4,3497.7 L2901.3,3494.0 L2895.2,3494.5 L2889.2,3494.5 L2883.1,3495.0 L2877.0,3494.5 L2871.0,3494.3 L2864.9,3495.9 L2858.8,3494.5 L2852.7,3497.6 L2846.7,3494.5 L2840.6,3494.5 L2834.5,3494.5ZM2789.6,3535.0 L2794.6,3530.0 L2799.6,3525.0 L2804.6,3520.0 L2811.2,3514.9 L2819.6,3515.0 L2824.6,3511.5 L2830.2,3508.7 L2836.8,3507.5 L2839.1,3500.1 L2846.0,3499.1 L2851.1,3495.8 L2854.5,3490.0 L2854.5,3496.4 L2854.5,3502.8 L2853.4,3509.3 L2854.5,3515.7 L2855.7,3522.1 L2851.2,3528.5 L2857.2,3535.0 L2854.5,3541.4 L2854.5,3547.8 L2854.5,3554.2 L2858.4,3560.7 L2852.8,3567.1 L2857.5,3573.5 L2854.5,3579.9 L2848.5,3577.9 L2842.2,3577.1 L2835.4,3577.3 L2831.7,3568.4 L2824.6,3569.9 L2817.4,3571.4 L2812.6,3565.9 L2807.6,3560.9 L2800.8,3561.2 L2794.6,3559.9ZM2634.7,3208.7 L2642.2,3209.7 L2642.1,3219.0 L2648.7,3225.7 L2643.7,3227.2ZM2198.3,2216.3 L2202.6,2211.6 L2206.5,2206.6 L2206.6,2199.7 L2213.3,2203.0 L2216.6,2211.3 L2219.9,2219.6 L2223.6,2225.9 L2218.4,2233.6 L2223.3,2239.6 L2213.3,2246.3 L2205.0,2244.6 L2199.5,2238.1 L2200.0,2229.6ZM2368.0,2282.9 L2373.1,2277.7 L2379.6,2274.5 L2386.1,2277.7 L2393.1,2273.2 L2399.6,2276.2 L2407.6,2280.6 L2409.6,2289.5 L2408.6,2296.7 L2402.9,2301.2 L2397.6,2305.6 L2390.9,2307.1 L2384.6,2309.5 L2378.0,2307.8 L2371.3,2306.2ZM2140.0,2858.8 L2144.8,2854.0 L2151.1,2851.1 L2157.2,2854.7 L2163.3,2851.1 L2169.4,2848.9 L2175.5,2851.1 L2181.4,2855.5 L2188.8,2857.0 L2195.4,2859.9 L2197.6,2867.5 L2197.6,2875.5 L2196.2,2881.4 L2190.1,2886.1 L2193.2,2893.2 L2198.5,2899.0 L2204.3,2904.3 L2207.2,2898.4 L2211.3,2893.0 L2213.2,2886.5 L2215.3,2880.3 L2219.8,2875.5 L2228.7,2873.2 L2232.2,2879.2 L2239.0,2880.6 L2244.2,2884.3 L2251.6,2885.6 L2259.3,2883.2 L2266.4,2886.5 L2272.2,2882.5 L2278.6,2885.4 L2284.6,2884.1 L2290.8,2884.3 L2297.4,2885.1 L2304.1,2885.8 L2310.8,2886.5 L2317.4,2886.0 L2323.8,2882.6 L2330.7,2884.9 L2337.4,2884.3 L2344.0,2888.8 L2338.5,2895.4 L2332.9,2902.1 L2324.1,2899.9 L2323.3,2906.7 L2321.1,2913.2 L2319.6,2919.8 L2311.4,2921.9 L2306.3,2928.7 L2300.8,2932.0 L2295.2,2935.3 L2288.6,2938.4 L2281.9,2935.3 L2276.4,2942.0 L2270.8,2948.7 L2268.6,2955.3 L2266.4,2962.0 L2266.1,2970.6 L2258.6,2971.9 L2253.1,2975.3 L2247.1,2978.2 L2239.9,2975.6 L2234.2,2979.7 L2228.1,2981.7 L2222.6,2986.5 L2215.4,2984.1 L2204.3,2984.1 L2200.6,2977.5 L2193.7,2972.6 L2193.2,2964.2 L2189.5,2957.5 L2182.9,2952.5 L2182.1,2944.2 L2178.4,2938.3 L2177.5,2930.6 L2171.0,2926.5 L2164.6,2923.8 L2157.7,2924.3 L2153.3,2915.4 L2157.7,2906.5 L2151.8,2902.8 L2145.9,2899.1 L2140.0,2895.4 L2144.4,2886.5 L2137.7,2877.7 L2139.6,2870.1 L2146.6,2866.6ZM2264.9,3849.8 L2271.8,3849.3 L2274.9,3843.1 L2279.9,3839.8 L2286.9,3838.8 L2293.9,3837.8 L2300.4,3833.2 L2307.9,3835.9 L2314.9,3834.8 L2317.5,3842.1 L2324.9,3844.8 L2329.9,3849.8 L2328.6,3856.0 L2327.0,3862.2 L2326.1,3868.5 L2324.9,3874.8 L2325.3,3882.2 L2320.5,3887.5 L2320.1,3894.6 L2314.9,3899.7 L2308.2,3903.1 L2302.5,3908.2 L2294.9,3909.7 L2292.3,3902.3 L2284.9,3899.7 L2285.1,3891.8 L2276.3,3890.5 L2276.3,3882.7 L2269.9,3879.7 L2272.4,3872.3 L2274.9,3864.8ZM749.8,3057.3 L758.5,3055.7 L767.3,3054.8 L773.2,3059.8 L780.1,3063.5 L784.8,3069.8 L790.6,3075.2 L788.3,3083.6 L792.3,3089.7 L792.5,3097.5 L789.8,3104.7 L787.8,3112.7 L777.0,3111.9 L774.8,3119.7 L770.8,3114.9 L763.1,3115.7 L759.8,3109.7 L756.2,3104.0 L760.6,3096.6 L756.1,3091.0 L754.8,3084.7ZM1968.6,2286.1 L1975.9,2285.2 L1983.2,2284.4 L1990.6,2283.5 L1993.2,2293.9 L1988.0,2304.2 L1980.9,2307.5 L1973.8,2304.2ZM1941.4,2462.1 L1948.2,2457.5 L1949.8,2448.4 L1956.9,2444.0 L1963.4,2443.4 L1969.9,2442.9 L1976.5,2444.7 L1982.8,2441.9 L1989.1,2438.9 L1995.7,2439.8 L2002.4,2443.0 L2008.7,2440.3 L2015.2,2439.3 L2021.6,2438.8 L2028.7,2438.1 L2035.9,2437.5 L2043.0,2436.8 L2050.1,2436.2 L2056.6,2433.6 L2063.4,2432.0 L2069.5,2428.4 L2076.0,2425.8 L2082.2,2421.6 L2088.9,2418.1 L2094.0,2412.5 L2102.2,2416.6 L2107.5,2411.9 L2113.8,2409.8 L2120.0,2407.7 L2126.0,2403.4 L2131.0,2397.7 L2138.1,2394.8 L2144.7,2390.8 L2152.5,2389.1 L2158.8,2384.4 L2164.0,2381.2 L2168.3,2376.6 L2173.3,2373.1 L2179.5,2371.5 L2184.7,2367.6 L2191.1,2366.3 L2197.0,2363.7 L2202.8,2361.1 L2206.7,2355.3 L2210.5,2349.5 L2214.4,2343.7 L2218.3,2337.9 L2219.6,2330.7 L2220.9,2323.6 L2223.6,2316.8 L2223.5,2309.4 L2223.6,2302.5 L2223.8,2295.5 L2227.1,2288.4 L2223.2,2281.7 L2222.6,2274.8 L2220.9,2268.0 L2228.7,2262.8 L2234.2,2266.2 L2239.8,2269.5 L2242.3,2277.0 L2247.6,2280.7 L2254.4,2282.4 L2259.7,2286.1 L2262.6,2292.1 L2268.9,2296.2 L2272.3,2301.9 L2272.6,2309.4 L2273.6,2316.1 L2272.0,2323.0 L2270.3,2329.9 L2272.1,2336.5 L2275.2,2343.0 L2271.6,2349.1 L2275.2,2355.1 L2275.2,2361.1 L2270.1,2371.5 L2262.6,2370.8 L2258.6,2378.2 L2251.9,2379.3 L2241.6,2384.4 L2239.0,2391.1 L2233.0,2394.8 L2228.7,2400.0 L2221.3,2398.9 L2215.7,2403.8 L2208.3,2402.6 L2202.8,2407.7 L2195.0,2409.4 L2189.0,2414.6 L2182.1,2418.1 L2182.1,2428.4 L2174.3,2430.2 L2166.5,2431.9 L2158.8,2433.6 L2154.1,2437.6 L2148.4,2439.8 L2143.3,2442.9 L2137.4,2444.9 L2132.9,2449.1 L2125.5,2449.6 L2122.6,2456.4 L2117.4,2460.0 L2113.6,2465.6 L2107.0,2467.2 L2100.6,2468.5 L2095.1,2474.7 L2086.9,2467.4 L2081.1,2472.4 L2075.0,2475.4 L2068.8,2477.8 L2061.4,2474.8 L2055.3,2477.6 L2047.5,2479.3 L2040.2,2483.0 L2032.0,2482.8 L2027.5,2477.5 L2019.5,2479.9 L2014.9,2475.0 L2009.1,2472.7 L2003.5,2469.8 L1997.0,2470.5 L1990.3,2468.2 L1984.2,2473.1 L1977.6,2472.4 L1969.9,2476.3 L1962.1,2480.2 L1956.1,2486.0 L1950.0,2480.4 L1944.0,2480.2ZM1834.7,3874.8 L1840.5,3871.7 L1846.7,3870.2 L1854.6,3877.1 L1859.7,3869.8 L1865.4,3872.1 L1871.6,3871.8 L1877.6,3873.0 L1883.6,3873.8 L1889.6,3874.8 L1894.3,3880.1 L1899.6,3884.7 L1904.6,3889.7 L1909.6,3894.7 L1906.3,3899.7 L1903.0,3904.7 L1899.6,3909.7 L1893.4,3913.1 L1886.3,3913.1 L1879.6,3914.7 L1873.0,3916.4 L1865.8,3916.0 L1859.7,3919.7 L1855.3,3915.5 L1849.0,3914.1 L1844.7,3909.7ZM1954.6,4129.6 L1960.6,4127.0 L1966.9,4126.1 L1973.0,4124.0 L1979.6,4124.6 L1980.8,4132.4 L1986.6,4137.4 L1993.8,4141.5 L1994.6,4149.6 L1991.8,4155.3 L1992.6,4161.6 L1988.2,4167.0 L1993.1,4174.0 L1989.6,4179.6 L1983.3,4180.8 L1976.6,4179.9 L1970.8,4183.3 L1964.6,4184.6 L1960.7,4178.4 L1954.4,4173.7 L1951.8,4166.8 L1949.6,4159.6ZM1559.8,3589.9 L1566.4,3588.3 L1573.2,3588.3 L1579.8,3587.4 L1584.8,3593.3 L1589.8,3599.1 L1594.8,3604.9 L1595.5,3613.0 L1599.8,3619.9 L1603.1,3624.9 L1604.4,3631.3 L1609.8,3634.9 L1615.6,3640.2 L1609.4,3648.0 L1613.6,3653.6 L1614.8,3659.9 L1608.8,3664.5 L1601.5,3666.5 L1594.8,3669.9 L1594.5,3662.9 L1590.4,3656.8 L1589.8,3649.9 L1584.8,3644.9 L1579.8,3639.9 L1574.8,3634.9 L1571.1,3630.2 L1568.2,3624.9 L1564.8,3619.9 L1571.1,3612.4 L1564.8,3604.9ZM1624.8,3629.9 L1632.3,3627.4 L1639.8,3624.9 L1643.5,3629.9 L1651.4,3631.8 L1648.3,3641.9 L1654.8,3644.9 L1656.0,3651.1 L1657.0,3657.4 L1657.3,3663.9 L1659.8,3669.9 L1652.6,3669.7 L1646.4,3673.2 L1639.8,3674.9 L1635.6,3668.2 L1631.5,3661.5 L1627.3,3654.9ZM1639.8,3684.9 L1648.3,3683.1 L1654.8,3677.4 L1661.1,3677.3 L1666.4,3680.7 L1672.3,3682.4 L1674.9,3690.5 L1669.8,3697.4 L1663.5,3697.4 L1657.3,3697.4 L1651.0,3693.4 L1644.8,3697.4ZM1694.8,3689.9 L1701.0,3691.1 L1707.2,3692.4 L1714.5,3700.3 L1709.7,3709.9 L1703.5,3711.1 L1697.3,3712.4ZM1482.4,3604.9 L1490.2,3606.4 L1495.4,3598.7 L1503.0,3599.3 L1509.9,3597.4 L1516.5,3601.4 L1513.2,3611.0 L1519.9,3614.9 L1514.9,3618.7 L1509.9,3622.4 L1504.0,3617.7 L1498.4,3612.6 L1489.9,3614.9ZM1464.9,3634.9 L1471.6,3632.4 L1478.6,3631.0 L1484.9,3627.4 L1491.5,3629.1 L1498.1,3631.2 L1504.9,3632.4 L1501.5,3638.2 L1498.2,3644.1 L1494.9,3649.9 L1488.2,3653.2 L1482.4,3658.3 L1474.9,3659.9 L1468.2,3655.0 L1464.9,3647.4ZM1452.4,3617.4 L1462.4,3614.9 L1463.6,3623.7 L1464.9,3632.4 L1455.9,3633.9ZM1537.4,3662.4 L1544.8,3659.9 L1545.8,3665.9 L1542.9,3672.5 L1550.6,3677.4 L1548.8,3683.9 L1549.8,3689.9 L1539.8,3692.4ZM1577.3,3664.9 L1583.6,3666.9 L1589.8,3664.9 L1589.8,3672.4 L1579.8,3672.4ZM1430.9,3672.4 L1442.4,3669.9 L1445.9,3678.9 L1434.9,3679.9ZM1360.0,3699.9 L1365.6,3695.5 L1372.5,3693.6 L1379.4,3691.8 L1384.9,3687.4 L1385.6,3693.7 L1387.4,3699.9 L1379.0,3699.4 L1372.5,3704.9 L1365.0,3707.4ZM1332.5,3659.9 L1338.3,3655.7 L1345.8,3653.9 L1350.0,3647.4 L1358.5,3642.6 L1365.0,3649.9 L1370.0,3644.9 L1375.0,3639.9 L1383.2,3642.3 L1387.4,3634.9 L1392.7,3629.9 L1399.9,3629.9 L1406.4,3629.9 L1412.4,3632.4 L1418.7,3633.6 L1424.9,3634.9 L1429.9,3639.9 L1434.9,3644.9 L1431.4,3651.4 L1424.9,3654.9 L1419.9,3659.9 L1413.3,3661.5 L1407.8,3668.1 L1399.9,3664.9 L1394.9,3669.9 L1386.5,3671.4 L1384.9,3679.9 L1379.4,3683.7 L1372.6,3679.5 L1367.0,3682.9 L1361.5,3686.9 L1355.0,3684.9 L1352.3,3677.5 L1347.6,3672.2 L1340.0,3669.9ZM1534.9,3729.8 L1541.5,3726.5 L1547.0,3720.9 L1554.8,3719.8 L1562.4,3719.0 L1567.2,3725.3 L1573.0,3728.7 L1579.8,3729.8 L1586.0,3731.5 L1592.3,3732.3 L1598.6,3733.6 L1604.8,3734.8 L1608.1,3739.8 L1612.7,3744.0 L1614.8,3749.8 L1613.8,3755.8 L1613.7,3762.0 L1605.5,3766.8 L1610.8,3773.8 L1609.8,3779.8 L1607.8,3785.8 L1605.0,3791.5 L1607.5,3799.0 L1601.8,3803.8 L1599.8,3809.8 L1593.1,3811.5 L1586.5,3813.1 L1579.8,3814.8 L1577.9,3807.4 L1573.2,3801.5 L1569.8,3794.8 L1567.1,3788.8 L1569.3,3781.9 L1566.8,3775.9 L1564.8,3769.8 L1558.2,3768.8 L1551.5,3768.1 L1544.8,3769.8 L1544.1,3762.9 L1542.5,3756.2 L1539.8,3749.8ZM1624.8,3719.8 L1631.7,3719.1 L1638.1,3716.5 L1644.8,3714.8 L1650.7,3719.8 L1659.7,3718.3 L1664.8,3724.8 L1666.0,3731.1 L1667.1,3737.4 L1668.5,3743.6 L1669.8,3749.8 L1663.4,3755.9 L1654.8,3757.3 L1648.5,3753.8 L1641.5,3752.3 L1634.8,3749.8ZM1624.8,3794.8 L1631.5,3792.3 L1637.8,3788.9 L1644.8,3787.3 L1649.8,3793.1 L1656.9,3797.2 L1659.8,3804.8 L1661.4,3810.7 L1661.4,3816.7 L1657.3,3823.1 L1661.9,3828.8 L1662.3,3834.8 L1653.5,3836.0 L1644.8,3837.3 L1641.4,3831.9 L1634.6,3830.0 L1630.6,3825.2 L1627.3,3819.8ZM1517.4,3782.3 L1527.4,3777.3 L1530.3,3784.0 L1534.9,3789.8 L1528.8,3792.2 L1524.9,3797.3ZM1367.5,3719.8 L1371.9,3713.3 L1379.8,3710.7 L1384.9,3704.9 L1390.9,3700.6 L1397.4,3697.4 L1401.8,3690.5 L1409.9,3689.9 L1416.2,3693.2 L1423.0,3694.3 L1429.9,3694.9 L1434.4,3699.3 L1437.4,3704.9 L1438.1,3712.1 L1444.9,3714.8 L1443.6,3722.3 L1444.9,3729.8 L1447.0,3736.1 L1452.4,3739.8 L1456.2,3744.8 L1459.9,3749.8 L1464.3,3744.0 L1469.7,3738.7 L1473.8,3732.7 L1474.9,3724.8 L1478.7,3718.6 L1482.4,3712.4 L1486.1,3706.1 L1489.9,3699.9 L1494.9,3704.9 L1494.8,3713.2 L1486.3,3717.2 L1484.9,3724.8 L1491.4,3729.9 L1491.5,3738.2 L1494.9,3744.8 L1503.0,3745.2 L1509.8,3748.3 L1514.9,3754.8 L1515.7,3761.5 L1520.1,3767.7 L1517.4,3774.8 L1512.7,3779.4 L1509.0,3784.8 L1504.9,3789.8 L1498.6,3789.8 L1492.4,3791.1 L1486.1,3785.9 L1479.9,3789.8 L1472.6,3787.8 L1466.6,3783.1 L1459.9,3779.8 L1453.6,3782.2 L1448.0,3786.3 L1441.2,3787.3 L1434.9,3789.8 L1429.9,3785.8 L1422.5,3784.8 L1419.3,3778.6 L1415.3,3773.3 L1409.9,3769.8 L1402.4,3771.1 L1394.9,3772.3 L1400.6,3767.3 L1399.9,3759.8 L1393.9,3755.9 L1390.3,3749.5 L1386.6,3743.2 L1379.9,3739.8 L1375.0,3734.8 L1370.0,3729.8ZM1178.4,3801.9 L1186.2,3801.9 L1192.1,3798.5 L1197.8,3794.7 L1206.3,3795.8 L1209.7,3788.2 L1215.2,3782.2 L1217.6,3774.5 L1227.4,3774.5 L1227.4,3766.6 L1233.6,3763.1 L1240.5,3760.6 L1246.2,3756.0 L1253.6,3754.6 L1258.7,3749.0 L1259.5,3742.7 L1260.3,3736.4 L1258.8,3729.9 L1265.2,3724.3 L1262.6,3717.6 L1269.8,3716.5 L1275.0,3721.6 L1280.7,3724.7 L1287.3,3725.5 L1293.4,3727.4 L1300.7,3726.0 L1305.7,3731.4 L1306.3,3738.4 L1311.0,3743.4 L1317.0,3747.7 L1317.5,3754.9 L1318.0,3762.5 L1325.3,3764.7 L1334.2,3764.7 L1343.0,3764.7 L1344.5,3770.5 L1349.6,3775.5 L1347.6,3782.3 L1348.5,3788.3 L1348.8,3794.5 L1352.1,3799.9 L1349.6,3806.9 L1355.2,3811.7 L1356.7,3817.6 L1350.8,3820.5 L1344.9,3823.4 L1337.6,3824.4 L1330.5,3827.1 L1322.9,3826.4 L1315.5,3827.4 L1307.9,3822.9 L1301.4,3826.4 L1295.7,3835.5 L1288.1,3831.3 L1280.2,3833.8 L1276.4,3841.1 L1268.0,3837.8 L1262.6,3845.0 L1255.0,3847.0 L1252.4,3854.4 L1247.4,3859.1 L1243.2,3864.8 L1237.2,3868.5 L1225.4,3868.5 L1223.4,3862.6 L1215.5,3861.1 L1208.8,3865.6 L1202.1,3870.4 L1194.1,3868.5 L1192.1,3856.8 L1193.8,3850.3 L1194.2,3843.6 L1196.0,3837.2 L1191.0,3831.2 L1192.7,3823.3 L1192.1,3816.0 L1188.2,3809.7ZM1466.3,3861.6 L1473.6,3860.1 L1476.3,3853.2 L1482.4,3853.2 L1488.5,3853.2 L1494.6,3853.2 L1502.6,3857.5 L1502.9,3866.5 L1500.2,3873.2 L1497.4,3879.9 L1494.6,3886.5 L1489.9,3891.8 L1484.6,3896.5 L1480.5,3891.5 L1476.3,3886.5ZM1517.9,3916.5 L1520.6,3910.5 L1522.8,3904.3 L1527.9,3899.8 L1531.6,3908.8 L1541.2,3909.8 L1547.9,3911.5 L1554.5,3913.1 L1557.5,3906.7 L1555.9,3899.8 L1559.7,3893.5 L1553.4,3886.1 L1557.8,3879.9 L1549.5,3881.5 L1541.2,3879.9 L1546.1,3875.9 L1551.7,3872.6 L1554.5,3866.5 L1562.4,3862.9 L1571.2,3863.2 L1577.1,3862.2 L1583.3,3862.2 L1589.1,3860.2 L1595.5,3861.7 L1601.1,3858.2 L1603.3,3864.3 L1602.2,3871.6 L1607.8,3876.5 L1605.4,3885.2 L1597.8,3889.8 L1594.4,3899.8 L1604.4,3906.5 L1605.5,3913.1 L1606.6,3919.8 L1607.8,3926.4 L1610.8,3933.9 L1612.2,3941.6 L1611.1,3949.7 L1609.4,3955.5 L1607.8,3961.4 L1606.1,3967.2 L1604.4,3973.0 L1598.9,3976.4 L1593.3,3979.7 L1587.8,3983.0 L1579.5,3984.7 L1571.2,3986.3 L1564.5,3996.3 L1557.8,3989.6 L1556.5,3983.7 L1556.2,3977.5 L1553.9,3971.7 L1554.2,3965.3 L1551.2,3959.7 L1551.1,3952.2 L1544.5,3948.6 L1541.2,3943.1 L1534.6,3939.7 L1531.7,3931.5 L1524.6,3926.4ZM1621.1,3886.5 L1625.5,3879.9 L1629.9,3873.2 L1634.4,3866.5 L1641.0,3865.3 L1647.7,3864.0 L1654.2,3862.3 L1661.0,3861.6 L1666.5,3864.3 L1672.1,3867.1 L1677.6,3869.9 L1683.1,3874.7 L1690.1,3872.4 L1695.6,3877.3 L1702.6,3874.9 L1697.3,3879.8 L1697.3,3887.2 L1694.3,3893.2 L1688.6,3897.8 L1688.9,3905.1 L1684.2,3910.2 L1683.6,3917.1 L1681.0,3923.1 L1676.0,3929.8 L1671.0,3936.4 L1664.3,3935.3 L1657.1,3937.5 L1651.0,3933.1 L1647.7,3939.7 L1644.4,3946.4 L1643.6,3953.0 L1644.4,3959.7 L1638.8,3964.1 L1633.4,3968.7 L1627.7,3973.0 L1629.1,3964.9 L1625.5,3957.5 L1624.4,3949.7 L1622.4,3943.2 L1625.8,3936.1 L1619.1,3930.1 L1621.7,3923.1 L1621.1,3916.5ZM1534.6,4106.1 L1539.9,4102.6 L1545.1,4098.9 L1547.9,4092.8 L1552.3,4086.1 L1555.2,4078.5 L1561.2,4072.8 L1568.4,4072.4 L1574.5,4076.2 L1578.9,4081.7 L1583.4,4087.2 L1587.8,4092.8 L1594.4,4096.1 L1601.1,4099.4 L1596.7,4107.6 L1604.4,4112.8 L1605.8,4119.5 L1607.8,4126.1 L1599.5,4126.2 L1594.4,4132.7 L1589.5,4137.7 L1584.5,4142.7 L1577.0,4141.1 L1571.2,4136.0 L1565.8,4130.1 L1557.8,4129.4 L1554.1,4123.1 L1546.8,4122.7 L1541.2,4119.4ZM1674.8,3749.8 L1681.7,3749.1 L1688.1,3746.5 L1694.8,3744.8 L1700.7,3750.1 L1708.0,3753.3 L1714.7,3757.3 L1713.1,3763.2 L1712.5,3769.3 L1709.7,3774.8 L1714.6,3780.9 L1722.5,3781.9 L1728.5,3786.1 L1734.7,3789.8 L1740.7,3788.8 L1746.7,3787.8 L1752.3,3784.6 L1758.7,3785.8 L1764.7,3784.8 L1770.7,3782.8 L1776.9,3781.5 L1782.4,3778.0 L1788.7,3776.8 L1794.7,3774.8 L1800.3,3777.9 L1806.8,3776.2 L1812.7,3777.8 L1818.7,3778.8 L1824.7,3779.8 L1828.4,3784.8 L1829.2,3792.0 L1835.9,3794.8 L1839.7,3799.8 L1841.3,3806.2 L1837.7,3811.8 L1836.7,3817.8 L1838.5,3824.3 L1834.7,3829.8 L1828.0,3833.1 L1820.0,3833.7 L1814.7,3839.8 L1807.2,3843.3 L1799.7,3836.0 L1792.2,3841.3 L1784.7,3839.8 L1778.2,3842.0 L1771.6,3843.3 L1764.3,3838.6 L1757.6,3839.9 L1751.4,3843.9 L1744.7,3844.8 L1739.7,3841.0 L1734.7,3837.3 L1728.1,3835.8 L1724.7,3829.8 L1719.4,3835.7 L1714.7,3842.3 L1708.7,3841.8 L1702.7,3842.4 L1696.6,3842.5 L1691.0,3836.8 L1684.8,3839.8 L1682.3,3833.5 L1678.7,3827.7 L1674.2,3822.3 L1674.8,3814.8 L1677.8,3808.1 L1680.7,3801.4 L1678.9,3794.0 L1678.8,3786.8 L1679.8,3779.8ZM1890.8,2673.2 L1899.9,2664.9 L1913.2,2664.1 L1914.9,2676.6 L1901.6,2678.2 L1893.3,2685.7ZM1919.1,2674.9 L1929.9,2662.4 L1938.2,2663.3 L1945.7,2669.9 L1939.9,2678.2 L1929.9,2683.2 L1919.9,2680.7ZM1950.7,2668.2 L1961.5,2663.3 L1968.1,2668.2 L1976.5,2668.2 L1979.8,2673.2 L1974.8,2681.6 L1963.1,2682.4 L1956.5,2676.6ZM1914.9,2691.5 L1921.6,2686.5 L1925.7,2689.9 L1921.6,2694.9ZM1938.2,2694.9 L1946.5,2689.9 L1953.2,2713.2 L1946.5,2719.8ZM1949.8,2693.2 L1956.5,2691.5 L1966.5,2716.5 L1959.8,2719.8ZM1958.2,2693.2 L1964.8,2693.2 L1973.1,2711.5 L1968.1,2714.8ZM1924.9,2709.8 L1929.9,2709.8 L1934.9,2726.5 L1929.9,2728.1ZM1988.1,2689.9 L1993.1,2685.7 L1999.7,2689.9 L2001.4,2699.9 L1993.1,2698.2ZM1988.9,2719.8 L2001.4,2715.7 L2013.0,2719.8 L2024.7,2716.5 L2036.3,2723.1 L2034.7,2731.5 L2024.7,2729.8 L2014.7,2726.5 L2001.4,2734.8 L1989.8,2731.5ZM2007.2,2734.8 L2016.4,2736.5 L2033.0,2738.1 L2034.7,2749.8 L2018.0,2746.4 L2011.4,2744.8ZM1887.4,2710.7 L1892.4,2706.5 L1897.4,2718.2ZM1911.6,2733.1 L1918.2,2729.0 L1923.2,2731.5 L1921.6,2736.5ZM2014.7,2694.9 L2019.7,2689.0 L2026.4,2701.5 L2019.7,2708.2ZM1129.6,2579.6 L1154.6,2574.6 L1184.6,2579.6 L1194.6,2604.5 L1189.6,2634.5 L1174.6,2649.5 L1164.6,2629.5 L1144.6,2624.5 L1129.6,2614.5ZM1104.6,2644.5 L1114.6,2629.5 L1139.6,2634.5 L1164.6,2659.5 L1144.6,2669.5 L1119.6,2674.5 L1109.6,2664.5ZM1054.7,2695.0 L1069.6,2680.0 L1094.6,2670.0 L1109.6,2682.5 L1094.6,2690.0 L1084.6,2700.0 L1074.6,2710.0 L1062.2,2720.0ZM1039.7,2587.1 L1044.7,2569.6 L1059.7,2559.6 L1074.6,2547.1 L1077.1,2569.6 L1082.1,2584.6 L1069.6,2589.6ZM1087.1,2574.6 L1097.1,2569.6 L1104.6,2582.1 L1092.1,2585.6ZM1557.3,2524.6 L1579.8,2504.6 L1604.8,2489.6 L1609.8,2509.6 L1594.8,2544.6 L1599.8,2564.6 L1584.8,2554.6 L1574.8,2539.6 L1559.8,2534.6ZM1614.8,2539.6 L1634.8,2529.6 L1659.8,2539.6 L1674.8,2559.6 L1694.8,2569.6 L1699.8,2584.6 L1674.8,2594.6 L1654.8,2619.5 L1664.8,2644.5 L1644.8,2644.5 L1639.8,2619.5 L1619.8,2594.6 L1614.8,2569.6ZM1527.4,2517.1 L1539.8,2514.6 L1544.8,2524.6 L1529.9,2525.6ZM2240.9,2853.3 L2253.1,2842.2 L2255.3,2830.0 L2266.4,2826.7 L2288.6,2835.5 L2273.0,2842.2 L2275.3,2848.8 L2288.6,2857.7 L2275.3,2859.9 L2253.1,2868.8 L2248.7,2859.9ZM2228.7,2871.0 L2235.3,2863.3 L2244.2,2861.0 L2250.9,2867.7 L2244.2,2877.7 L2235.3,2879.9ZM2244.2,2957.5 L2275.3,2955.3 L2264.2,2968.6 L2246.4,2977.5ZM1694.8,3460.0 L1693.1,3466.7 L1691.4,3473.3 L1684.6,3478.7 L1689.3,3487.0 L1690.1,3494.2 L1684.8,3500.0 L1679.6,3504.8 L1674.8,3510.0 L1672.0,3517.2 L1664.8,3520.0 L1662.6,3526.4 L1660.5,3532.8 L1659.4,3539.6 L1652.3,3544.4 L1654.1,3552.1 L1650.0,3557.9 L1649.8,3564.9 L1646.3,3572.1 L1652.3,3577.4 L1653.5,3583.7 L1654.8,3589.9 L1658.5,3596.2 L1662.3,3602.4 L1663.9,3609.9 L1669.8,3614.9 L1670.8,3620.9 L1676.9,3626.0 L1672.8,3632.9 L1677.2,3638.3 L1674.8,3644.9 L1678.3,3651.4 L1684.8,3654.9 L1687.0,3662.6 L1694.8,3664.9 L1701.4,3666.5 L1709.5,3662.4 L1714.7,3669.9 L1722.1,3669.6 L1724.4,3677.1 L1729.7,3679.9 L1722.0,3685.0 L1724.9,3692.8 L1724.7,3699.9 L1727.4,3705.3 L1731.4,3709.9 L1734.7,3714.8 L1726.2,3714.5 L1723.9,3726.6 L1714.7,3724.8 L1713.0,3731.5 L1709.9,3737.8 L1709.7,3744.8 L1715.4,3747.2 L1721.6,3748.8 L1724.7,3754.8 L1731.4,3753.2 L1738.1,3751.5 L1744.7,3749.8 L1751.0,3749.8 L1757.2,3759.2 L1763.5,3745.4 L1769.7,3749.8 L1776.0,3748.0 L1782.2,3746.1 L1787.6,3741.3 L1794.7,3742.3 L1801.9,3739.0 L1808.0,3744.0 L1814.7,3744.8 L1820.1,3740.8 L1826.7,3738.8 L1831.4,3733.3 L1838.7,3732.8 L1844.7,3729.8 L1844.7,3723.2 L1844.7,3716.5 L1844.7,3709.9 L1840.9,3704.9 L1837.2,3699.9 L1833.4,3694.9 L1829.7,3689.9 L1830.9,3683.6 L1826.6,3676.3 L1833.4,3671.1 L1834.7,3664.9 L1837.7,3658.9 L1840.7,3652.9 L1841.2,3645.6 L1846.7,3640.9 L1849.7,3634.9 L1851.3,3628.2 L1844.5,3619.5 L1854.7,3614.9 L1858.1,3607.7 L1844.7,3603.9 L1854.2,3595.5 L1849.7,3589.9 L1851.7,3583.9 L1853.7,3577.9 L1855.7,3571.9 L1863.5,3567.9 L1859.7,3559.9 L1858.4,3553.7 L1851.1,3549.5 L1853.7,3542.0 L1851.7,3536.0 L1849.7,3530.0 L1856.3,3526.6 L1863.0,3523.3 L1869.6,3520.0 L1875.5,3514.6 L1876.3,3506.6 L1879.6,3500.0 L1879.6,3493.3 L1873.8,3486.7 L1877.3,3480.0 L1879.6,3473.3 L1879.6,3466.7 L1879.6,3460.0 L1884.6,3459.5 L1881.1,3452.8 L1882.4,3446.8 L1887.6,3441.5 L1888.6,3435.5 L1889.6,3429.5 L1887.5,3422.2 L1886.6,3414.4 L1879.6,3409.5 L1875.5,3405.0 L1869.4,3403.2 L1864.6,3399.6 L1858.0,3399.6 L1851.3,3399.6 L1844.7,3399.6 L1838.4,3403.9 L1832.2,3399.8 L1825.9,3399.6 L1819.7,3399.6 L1813.4,3399.6 L1807.2,3398.1 L1800.9,3403.1 L1794.7,3399.6 L1789.1,3405.5 L1781.4,3402.9 L1774.7,3404.5 L1770.5,3410.3 L1764.7,3414.5 L1759.7,3419.5 L1758.0,3426.2 L1756.4,3432.9 L1754.7,3439.5 L1749.9,3446.5 L1741.4,3446.2 L1734.7,3449.5 L1732.9,3457.7 L1724.7,3459.5 L1718.5,3463.3 L1714.7,3469.5 L1709.7,3475.3 L1704.7,3481.0ZM1286.2,4062.5 L1285.5,4055.3 L1280.4,4048.5 L1284.2,4041.0 L1285.5,4034.4 L1290.5,4028.6 L1288.1,4021.4 L1284.6,4015.0 L1275.8,4018.2 L1271.9,4012.5 L1266.6,4009.6 L1260.7,4005.7 L1256.4,3999.4 L1248.9,3997.8 L1248.9,3988.0 L1247.0,3981.2 L1245.0,3974.3 L1246.9,3967.6 L1247.0,3960.6 L1253.6,3961.4 L1260.7,3958.6 L1267.1,3961.7 L1273.6,3963.7 L1280.3,3964.5 L1286.8,3969.0 L1295.4,3965.5 L1301.8,3970.4 L1308.3,3974.1 L1313.6,3979.2 L1320.6,3982.1 L1325.3,3988.0 L1331.9,3988.7 L1338.4,3989.4 L1344.9,3990.0 L1341.0,3986.1 L1337.1,3980.7 L1332.3,3975.9 L1329.3,3969.9 L1325.3,3964.5 L1321.0,3959.0 L1315.5,3954.7 L1308.7,3953.3 L1300.7,3957.1 L1295.0,3950.3 L1288.1,3948.9 L1280.3,3944.8 L1272.4,3941.0 L1267.1,3935.4 L1260.7,3931.2 L1259.4,3924.0 L1258.1,3916.9 L1256.8,3909.7 L1268.5,3907.7 L1276.4,3904.8 L1284.2,3901.8 L1278.3,3898.9 L1272.4,3896.0 L1266.6,3886.2 L1265.6,3878.3 L1264.6,3870.5 L1268.5,3865.9 L1273.5,3862.3 L1276.4,3856.8 L1288.1,3854.8 L1288.1,3843.0 L1281.7,3833.3 L1288.3,3839.3 L1295.0,3833.3 L1301.7,3832.6 L1308.5,3834.0 L1314.8,3829.8 L1321.6,3830.0 L1328.3,3829.9 L1334.4,3829.9 L1340.5,3829.9 L1346.6,3829.9 L1352.7,3829.9 L1358.8,3829.9 L1364.9,3829.9 L1365.7,3836.6 L1366.5,3843.3 L1368.2,3850.2 L1364.9,3856.6 L1357.6,3862.4 L1348.2,3863.2 L1354.9,3864.9 L1361.5,3866.5 L1370.0,3862.8 L1374.9,3854.9 L1379.8,3859.5 L1384.8,3864.0 L1392.5,3865.7 L1394.8,3873.2 L1391.9,3879.5 L1391.5,3886.5 L1380.4,3885.5 L1378.2,3896.5 L1386.8,3896.3 L1394.8,3893.2 L1398.1,3887.3 L1405.1,3883.6 L1404.8,3875.7 L1408.1,3869.9 L1416.5,3872.6 L1421.4,3879.9 L1424.2,3886.5 L1429.2,3892.2 L1429.8,3899.8 L1429.0,3906.0 L1428.9,3912.2 L1427.6,3918.4 L1426.9,3924.5 L1426.2,3930.7 L1429.3,3937.3 L1424.8,3943.1 L1433.1,3939.7 L1441.4,3936.4 L1439.6,3929.8 L1442.6,3923.7 L1444.8,3917.5 L1443.8,3911.0 L1437.5,3904.0 L1442.8,3898.1 L1445.6,3891.9 L1446.2,3885.6 L1451.1,3879.7 L1445.5,3872.7 L1448.0,3866.5 L1454.7,3867.7 L1460.8,3872.4 L1468.0,3869.9 L1471.3,3875.4 L1470.1,3883.7 L1478.0,3886.5 L1479.7,3893.2 L1481.3,3899.8 L1476.8,3905.9 L1479.3,3913.1 L1486.1,3920.9 L1477.3,3926.4 L1476.3,3933.1 L1474.7,3939.3 L1476.3,3945.4 L1482.0,3951.6 L1476.3,3957.8 L1474.8,3964.0 L1483.3,3970.2 L1476.3,3976.3 L1477.3,3982.3 L1473.8,3989.1 L1479.3,3994.3 L1477.5,4000.8 L1481.3,4006.3 L1486.0,4013.2 L1491.3,4019.6 L1493.1,4027.1 L1497.5,4032.8 L1506.1,4035.4 L1507.9,4042.9 L1517.9,4046.2 L1515.4,4053.8 L1515.7,4061.7 L1514.6,4069.5 L1507.9,4073.9 L1506.8,4083.9 L1498.0,4086.1 L1492.2,4083.2 L1484.9,4082.8 L1481.3,4076.2 L1475.9,4081.9 L1468.0,4082.8 L1468.6,4091.4 L1461.4,4096.1 L1466.1,4103.4 L1475.9,4100.3 L1481.3,4106.1 L1474.7,4102.4 L1468.0,4106.1 L1462.2,4104.4 L1457.6,4098.5 L1449.6,4104.3 L1444.7,4099.4 L1437.0,4099.7 L1433.6,4092.8 L1428.1,4089.5 L1423.7,4081.5 L1414.8,4079.5 L1408.5,4075.8 L1404.8,4069.5 L1394.8,4076.2 L1388.2,4076.8 L1381.9,4081.3 L1375.4,4083.2 L1368.2,4078.8 L1361.5,4079.5 L1354.7,4083.9 L1348.2,4078.8 L1341.4,4081.1 L1334.9,4078.2 L1328.3,4077.8 L1321.6,4075.3 L1315.0,4072.8 L1308.5,4069.5 L1301.7,4072.2 L1295.0,4071.8 L1288.7,4065.1 L1281.7,4071.2Z" fill="#d2d2d2" stroke="#000" stroke-width="2" stroke-linejoin="round"/><path d="M2175.5,2891.0 L2186.5,2893.2 L2191.0,2906.5 L2182.1,2906.5 L2179.9,2899.9ZM2182.1,2930.9 L2230.9,2922.0 L2193.2,2944.2 L2186.5,2942.0ZM2239.8,2915.4 L2253.1,2908.7 L2264.2,2915.4 L2275.3,2926.5 L2262.0,2935.3 L2253.1,2926.5 L2242.0,2924.3ZM2279.7,2904.3 L2288.6,2902.1 L2295.2,2926.5 L2286.4,2930.9 L2284.1,2917.6ZM2319.6,2897.6 L2330.7,2902.1 L2326.3,2908.7 L2315.2,2913.2ZM2645.8,2329.4 L2655.8,2362.7 L2664.1,2389.3 L2672.4,2416.0 L2675.7,2439.2 L2689.1,2399.3 L2705.7,2382.7 L2739.0,2389.3 L2679.1,2316.1ZM1709.7,3554.9 L1734.7,3545.0 L1764.7,3535.0 L1794.7,3520.0 L1799.7,3530.0 L1774.7,3550.0 L1774.7,3569.9 L1754.7,3564.9 L1734.7,3569.9 L1724.7,3559.9ZM1281.7,3949.7 L1315.0,3956.4 L1334.9,3973.0 L1344.9,3989.6 L1328.3,3986.3 L1311.6,3976.3 L1281.7,3969.7ZM1022.2,4052.1 L1054.7,4064.6 L1089.6,4067.1 L1129.6,4072.1 L1144.6,4084.6 L1119.6,4094.6 L1149.6,4109.6 L1164.6,4114.6 L1144.6,4134.6 L1094.6,4129.6 L1044.7,4104.6 L1019.7,4069.6ZM2622.2,3452.3 L2614.7,3469.8 L2594.7,3484.7 L2574.7,3489.7 L2559.7,3489.7 L2534.7,3494.7 L2514.7,3499.7 L2494.8,3502.2 L2494.8,3507.2 L2519.7,3504.7 L2544.7,3502.2 L2559.7,3499.7 L2557.2,3549.7 L2562.2,3549.7 L2569.7,3504.7 L2577.2,3509.7 L2577.2,3552.2 L2584.7,3549.7 L2587.2,3504.7 L2599.7,3492.2 L2619.7,3474.8 L2627.2,3459.8Z" fill="#fff" stroke="#000" stroke-width="2" stroke-linejoin="round"/><path d="M2560.5,2552.6 L2568.3,2551.4 L2574.6,2545.7 L2582.6,2546.3 L2584.1,2544.4M2564.2,2561.4 L2562.9,2570.2 L2567.7,2573.8 L2573.8,2579.1 L2576.9,2584.4 L2577.6,2589.6 L2574.9,2593.9M2551.2,2570.7 L2549.7,2577.2 L2550.3,2588.2 L2558.1,2593.1 L2560.7,2594.6M2550.3,2588.2 L2563.7,2589.0M2537.9,2644.5 L2540.3,2638.4 L2546.8,2641.0 L2550.8,2632.3 L2553.0,2627.0M2546.8,2641.0 L2556.8,2643.6M2547.1,2653.7 L2544.0,2645.4 L2542.7,2637.9 L2548.9,2635.5 L2548.8,2626.5M2551.1,2663.5 L2547.5,2659.2 L2541.8,2662.0 L2532.7,2665.2 L2528.0,2670.1 L2522.5,2669.4 L2520.7,2669.1M2565.2,2683.1 L2570.4,2680.2 L2569.0,2670.4 L2573.2,2665.8 L2570.7,2655.5 L2573.6,2653.7M2573.3,2689.8 L2579.7,2689.2 L2584.4,2689.8M2582.2,2695.4 L2583.2,2689.1 L2585.7,2679.3 L2590.4,2674.6 L2585.8,2670.4 L2585.7,2668.2M2590.4,2674.6 L2583.3,2666.6M2603.6,2709.2 L2609.5,2705.4 L2616.5,2704.1M2619.9,2721.4 L2622.8,2717.1 L2620.9,2712.0 L2619.3,2705.4 L2620.3,2702.3M2650.6,2741.4 L2655.6,2739.3 L2653.4,2732.6M2653.1,2743.0 L2649.7,2738.8 L2647.6,2733.5 L2645.7,2726.2 L2646.8,2723.7M2663.7,2750.9 L2663.1,2744.1 L2668.2,2743.7 L2673.4,2741.4 L2678.1,2735.1M2673.0,2758.0 L2676.6,2749.1 L2683.1,2740.8 L2686.2,2735.1 L2687.6,2734.0M2681.6,2764.9 L2680.8,2754.4 L2681.9,2748.7 L2681.8,2748.6M2681.9,2748.7 L2687.2,2748.6M2708.8,2788.1 L2717.8,2786.0 L2721.3,2777.9 L2723.7,2770.8M2729.6,2800.0 L2736.5,2795.2 L2737.5,2787.8 L2738.8,2783.2M2750.2,2812.4 L2750.4,2805.2 L2756.5,2803.9 L2762.5,2801.4 L2767.1,2797.4M2756.5,2803.9 L2756.6,2796.2M2769.8,2826.2 L2770.5,2815.8 L2780.4,2812.1 L2780.9,2811.6M2777.7,2824.4 L2770.3,2818.0 L2762.6,2816.6 L2756.7,2814.7 L2753.5,2814.1M2786.7,2807.3 L2783.3,2797.7 L2782.4,2792.3 L2784.0,2788.6M2798.1,2800.1 L2788.5,2798.5 L2784.9,2794.4M2805.9,2801.1 L2800.7,2791.7 L2802.4,2785.6 L2806.5,2780.3 L2808.9,2771.8 L2810.9,2766.3M2829.2,2806.5 L2835.2,2800.9 L2839.4,2796.4 L2845.6,2791.2 L2850.7,2791.0 L2854.6,2784.1M2843.9,2808.3 L2839.6,2801.3 L2843.4,2791.3 L2840.6,2785.3 L2838.0,2780.8M2853.0,2809.6 L2859.3,2803.5 L2862.2,2798.6 L2859.7,2794.2M2862.2,2798.6 L2867.1,2794.1M2867.4,2815.8 L2863.6,2808.7 L2863.6,2802.5 L2861.6,2795.2 L2861.6,2787.7 L2860.2,2785.5M2633.3,2326.1 L2630.0,2335.7 L2622.4,2337.3M2619.1,2319.2 L2612.0,2327.6 L2614.6,2332.8 L2615.5,2334.7M2614.6,2332.8 L2608.1,2337.6M2603.9,2314.6 L2608.5,2323.4 L2608.5,2327.4M2560.0,2328.4 L2559.6,2334.7M2553.4,2338.3 L2559.3,2341.4 L2560.8,2340.7M2548.1,2346.3 L2555.2,2346.1 L2558.4,2349.1M2555.2,2346.1 L2560.4,2345.0M2546.7,2356.1 L2548.2,2348.1 L2548.9,2348.2M2546.8,2404.2 L2556.4,2406.6 L2557.8,2409.5M2546.0,2419.8 L2551.4,2427.2 L2560.4,2429.8M2546.0,2429.2 L2552.7,2426.9 L2555.3,2422.1M2546.0,2451.1 L2554.1,2450.1 L2560.8,2452.5M2556.0,2498.3 L2560.4,2494.0 L2563.4,2489.5M2556.0,2517.7 L2566.3,2521.3 L2573.0,2515.9M2107.5,3706.1 L2103.5,3699.4 L2105.5,3691.7 L2109.6,3688.2 L2110.3,3680.7 L2108.7,3672.3 L2110.5,3667.1M2118.4,3711.6 L2123.6,3715.4 L2121.7,3721.0 L2117.5,3727.0 L2119.2,3728.2M2131.5,3720.3 L2139.3,3719.4 L2143.2,3714.3 L2152.2,3708.6 L2160.0,3707.9 L2166.5,3701.5M2152.2,3708.6 L2160.5,3707.9M2137.6,3725.4 L2142.3,3717.7 L2146.9,3713.0 L2147.3,3712.7M2179.8,3759.7 L2189.3,3757.8 L2193.4,3753.3M2208.0,3781.4 L2206.7,3791.5 L2203.9,3796.1 L2196.9,3799.0 L2192.0,3801.8 L2190.8,3807.1 L2183.0,3811.6 L2182.3,3812.4M2217.7,3786.2 L2218.7,3780.8 L2227.5,3776.3 L2230.8,3767.3 L2234.0,3760.5 L2236.4,3757.1M2230.4,3797.1 L2239.7,3792.2 L2243.2,3785.9 L2247.8,3776.7 L2249.8,3776.3M2252.0,3809.8 L2253.4,3815.9 L2257.6,3819.5 L2259.0,3828.7 L2265.2,3831.5 L2265.9,3838.6 L2268.3,3839.5M2317.5,3831.5 L2311.1,3839.7 L2305.7,3844.4 L2300.0,3848.7 L2299.7,3849.1M2340.8,3847.1 L2346.3,3844.5 L2349.0,3834.6 L2352.3,3830.6 L2358.1,3824.7 L2366.0,3818.9M2350.3,3857.1 L2354.5,3853.4 L2351.2,3843.6 L2349.3,3835.0 L2355.4,3827.7 L2355.1,3823.9M2369.6,3894.2 L2377.5,3893.3 L2386.7,3895.2 L2396.6,3891.7 L2406.4,3893.0 L2412.2,3895.3M2378.3,3918.8 L2385.3,3921.6 L2388.7,3926.4 L2399.1,3929.7 L2405.1,3929.7 L2410.1,3930.5M2377.0,3926.8 L2386.4,3924.5 L2391.6,3926.0 L2391.9,3926.6M2391.6,3926.0 L2397.2,3923.7M2380.9,3942.8 L2388.0,3939.9 L2394.9,3937.3 L2401.8,3929.2 L2402.8,3927.6M2403.6,3958.5 L2405.9,3949.2 L2413.2,3942.1 L2415.2,3936.1 L2424.7,3938.6 L2432.3,3937.9M2421.6,4007.6 L2431.8,4007.6 L2440.3,4003.0 L2440.5,4003.2M2440.3,4003.0 L2442.9,4007.6M2419.2,4021.3 L2413.4,4021.8 L2408.4,4016.8 L2406.7,4011.3M2418.5,4029.8 L2423.1,4027.5 L2428.7,4030.0 L2438.4,4029.8 L2443.6,4029.5 L2446.0,4032.4M2417.5,4042.5 L2426.4,4041.6 L2431.9,4041.8 L2436.8,4049.4 L2439.3,4055.8M2431.9,4041.8 L2434.4,4050.3M2110.6,3165.5 L2105.6,3164.7 L2102.6,3174.0 L2098.6,3181.7 L2096.0,3183.8M2120.0,3177.2 L2114.7,3180.5 L2107.8,3181.6 L2100.8,3186.1 L2094.3,3188.7 L2094.3,3190.1M2100.8,3186.1 L2101.7,3195.1M2130.6,3190.5 L2131.0,3196.4 L2132.2,3203.1M2140.7,3204.0 L2132.1,3209.0 L2125.9,3212.2 L2121.5,3214.7 L2115.1,3210.9M2149.8,3216.1 L2143.9,3219.9 L2142.2,3223.0M2185.9,3245.8 L2182.5,3253.4 L2182.3,3261.4 L2173.0,3261.5 L2166.5,3265.1M2215.4,3256.6 L2210.4,3263.4 L2206.9,3265.4M2230.1,3266.4 L2227.7,3276.6 L2225.6,3284.6 L2220.5,3288.8 L2213.2,3297.0 L2214.7,3299.5M2256.3,3272.3 L2263.3,3276.7 L2267.2,3280.2 L2261.6,3289.6 L2266.6,3297.0 L2266.4,3298.5M2283.2,3277.0 L2283.3,3284.3 L2284.0,3290.3 L2284.2,3296.9 L2283.8,3301.0M2284.0,3290.3 L2291.1,3295.0M2292.9,3279.8 L2288.1,3286.7 L2281.5,3287.3 L2273.7,3287.8 L2264.8,3289.8 L2264.4,3294.6M2307.2,3283.9 L2313.6,3292.1 L2317.1,3300.1 L2319.1,3302.9M2367.6,3300.5 L2360.2,3304.3 L2355.4,3304.7M2397.6,3311.3 L2397.7,3320.2 L2401.1,3324.8 L2405.2,3331.8 L2404.0,3335.8M2417.1,3323.0 L2418.4,3331.0 L2418.5,3340.2 L2416.2,3345.6M2454.2,3366.4 L2450.4,3370.1 L2440.6,3367.4 L2435.7,3368.4 L2427.0,3371.4 L2423.3,3376.2M2475.5,3390.3 L2468.1,3398.1 L2460.8,3396.0 L2460.0,3395.7M2487.2,3402.0 L2488.0,3411.1 L2485.0,3420.0 L2485.5,3426.7 L2481.9,3435.9 L2481.6,3436.6M2501.0,3408.3 L2502.6,3417.1 L2499.4,3421.5 L2498.1,3423.4M2499.4,3421.5 L2494.8,3426.0M2531.8,3416.3 L2530.7,3422.2 L2529.2,3427.2 L2526.4,3432.4 L2522.1,3440.0 L2529.8,3443.7 L2534.3,3446.4M2526.4,3432.4 L2519.9,3442.7M2540.4,3417.5 L2533.0,3425.5 L2529.3,3432.8 L2533.0,3441.7 L2529.5,3446.7M2563.3,3421.7 L2561.3,3430.1 L2555.1,3430.4 L2552.2,3434.9 L2550.1,3440.7M2616.5,3452.4 L2610.4,3458.8 L2607.0,3461.8M2610.4,3458.8 L2605.2,3460.6M2627.7,3470.1 L2622.2,3469.4 L2618.5,3474.1 L2612.6,3474.8 L2612.1,3474.8M2618.5,3474.1 L2611.4,3471.0M2643.2,3510.5 L2639.1,3520.6 L2631.9,3522.5 L2626.4,3523.6 L2619.5,3519.9 L2618.9,3519.9M2650.9,3537.4 L2643.6,3544.4 L2641.2,3549.4 L2638.0,3548.8M2652.7,3548.2 L2644.7,3543.3 L2640.1,3533.8 L2632.5,3535.0M2653.9,3565.0 L2649.0,3570.7 L2639.4,3569.2 L2635.9,3571.5M2651.0,3585.6 L2645.1,3584.0 L2637.0,3582.8 L2631.7,3583.3 L2627.3,3580.8M2647.4,3606.5 L2641.4,3608.5 L2637.6,3604.8 L2628.3,3607.4 L2625.2,3602.6M2637.6,3604.8 L2636.8,3596.0M2644.5,3620.2 L2637.3,3614.8 L2632.4,3607.6 L2632.4,3607.6M2632.4,3607.6 L2625.9,3606.3M2635.8,3634.6 L2627.9,3629.7 L2622.2,3631.4 L2616.8,3627.4 L2609.4,3627.0 L2607.6,3627.5M2632.2,3657.8 L2625.3,3663.1 L2622.8,3662.9M2639.3,3681.6 L2629.6,3684.7 L2622.2,3689.5 L2614.7,3689.7 L2611.3,3689.8M2646.1,3697.2 L2643.7,3704.7 L2640.7,3710.9M2643.7,3704.7 L2637.6,3701.5M2654.2,3710.7 L2643.7,3711.2 L2638.0,3711.4 L2634.0,3721.0 L2626.8,3722.1 L2625.3,3722.7M2658.4,3717.8 L2651.7,3718.7 L2642.4,3723.0 L2640.9,3725.2M2665.3,3731.1 L2662.1,3739.2 L2659.7,3740.4M2672.2,3746.6 L2665.6,3747.6 L2661.4,3754.2 L2654.1,3758.8 L2648.8,3762.7 L2645.2,3760.1M2674.7,3753.3 L2670.0,3750.4 L2660.2,3747.4 L2651.4,3751.7 L2647.9,3756.2 L2644.3,3758.5M2677.1,3773.7 L2668.6,3770.6 L2663.2,3772.6M2091.5,3693.1 L2099.4,3688.3 L2107.0,3682.8 L2109.7,3680.4M2046.1,3679.9 L2047.0,3672.4 L2046.9,3671.0M2015.2,3685.6 L2007.1,3681.5 L1998.2,3676.7 L1995.6,3675.7M2001.0,3692.6 L1995.0,3691.9 L1986.6,3689.5 L1986.0,3680.6 L1985.7,3680.1M1973.9,3709.1 L1966.9,3703.4 L1962.1,3702.2M1966.9,3703.4 L1961.7,3704.6M1959.0,3714.7 L1966.5,3707.4 L1962.7,3698.0 L1963.2,3693.0M1944.0,3709.3 L1948.3,3705.3 L1949.8,3696.3 L1956.3,3694.8 L1958.5,3694.1M1926.3,3671.5 L1927.1,3663.2 L1928.5,3655.9 L1928.4,3650.4 L1931.9,3645.4M1928.5,3655.9 L1924.0,3649.6M1919.4,3664.7 L1925.0,3667.5 L1932.4,3664.9 L1936.6,3663.2M1932.4,3664.9 L1940.0,3669.8M1874.7,3634.7 L1878.2,3630.2 L1880.9,3631.0M1879.2,3616.6 L1882.6,3620.3 L1884.4,3627.7M1904.7,3579.9 L1913.7,3581.9 L1923.9,3579.9 L1932.3,3581.4 L1933.0,3581.7M1922.2,3562.3 L1923.8,3568.8 L1930.7,3568.0 L1934.2,3574.0 L1934.9,3575.3M1924.1,3556.2 L1929.5,3551.6 L1932.3,3549.9M1922.0,3541.7 L1929.0,3534.1 L1932.5,3525.3 L1939.9,3519.9M1920.2,3529.2 L1926.7,3527.8 L1933.8,3519.8 L1938.1,3515.5 L1938.1,3515.4M1919.2,3524.9 L1927.7,3519.1 L1928.5,3516.9M1891.5,3513.7 L1895.2,3507.4 L1903.0,3503.8 L1904.1,3497.2M1885.1,3499.5 L1887.0,3505.1 L1885.2,3516.0 L1884.5,3520.1M2092.3,3173.0 L2089.9,3183.3 L2093.2,3192.6 L2094.9,3193.3M2092.0,3187.2 L2099.6,3190.4 L2104.5,3186.7 L2108.3,3180.4M2091.8,3201.5 L2089.2,3211.3 L2088.3,3213.0M2082.5,3207.7 L2085.8,3213.9 L2088.4,3213.2M2085.8,3213.9 L2088.3,3218.1M2078.5,3210.3 L2084.0,3216.4 L2083.5,3217.6M2049.8,3216.0 L2040.1,3218.8 L2040.5,3227.7 L2038.1,3229.4M2040.5,3227.7 L2034.5,3230.7M2034.5,3218.0 L2039.4,3219.2 L2040.4,3225.4 L2040.9,3232.7M2040.4,3225.4 L2047.2,3225.6M2019.1,3222.3 L2024.3,3231.6 L2027.7,3235.4M1981.5,3247.7 L1987.8,3254.7 L1995.5,3253.7 L2002.0,3255.4M1965.9,3274.4 L1972.1,3276.2 L1974.4,3281.5 L1980.6,3283.5 L1981.1,3284.4M1958.2,3288.1 L1961.8,3292.3 L1962.0,3296.5M1943.0,3332.6 L1950.1,3333.2 L1956.3,3336.4 L1958.8,3340.3M1933.1,3362.7 L1933.3,3371.9 L1937.9,3374.8 L1942.3,3380.7 L1942.3,3380.8M1937.9,3374.8 L1936.5,3382.8M1905.0,3436.6 L1910.2,3433.7 L1917.0,3436.0 L1922.5,3427.7M1911.6,3467.9 L1916.0,3464.8 L1924.9,3463.6 L1931.1,3460.8 L1934.9,3460.8M2106.6,4020.5 L2102.8,4024.9 L2102.9,4033.3M2102.8,4024.9 L2107.6,4029.0M2108.6,4040.6 L2104.7,4032.0 L2101.7,4028.8M2104.7,4032.0 L2098.0,4032.9M2106.2,4052.1 L2103.2,4058.2 L2095.4,4060.7 L2087.9,4059.8 L2082.0,4058.1 L2081.7,4058.7M2121.1,4071.7 L2124.9,4079.4 L2121.9,4084.0 L2119.7,4091.0 L2122.2,4094.3M2135.7,4076.5 L2131.7,4085.6 L2137.9,4092.5 L2137.6,4092.7M2145.7,4079.8 L2142.4,4084.3 L2143.4,4091.3 L2139.4,4096.5M2155.6,4081.7 L2154.0,4087.2 L2151.5,4092.3M2154.0,4087.2 L2149.6,4090.7M2171.2,4084.9 L2170.7,4090.4 L2171.7,4096.7 L2171.8,4097.0M2171.7,4096.7 L2166.9,4098.2M2190.3,4088.7 L2185.1,4097.9 L2180.7,4100.5 L2176.9,4109.2 L2176.7,4109.6M2218.4,4093.5 L2219.6,4103.0 L2219.8,4110.7 L2221.1,4116.2 L2225.3,4121.4M2219.8,4110.7 L2210.6,4115.4M2234.8,4097.9 L2226.5,4097.5 L2222.4,4102.2 L2219.3,4102.5M2222.4,4102.2 L2217.3,4101.3M2247.9,4102.3 L2240.6,4105.3 L2233.4,4107.0 L2228.1,4108.7 L2223.1,4112.0M2233.4,4107.0 L2223.6,4103.4M2268.5,4127.3 L2260.4,4132.5 L2251.2,4133.6 L2245.7,4133.4 L2245.4,4133.4M2027.8,4258.6 L2031.2,4248.7 L2033.6,4247.1M2026.0,4242.7 L2035.1,4243.0 L2036.9,4245.4M2024.8,4231.4 L2034.6,4226.9 L2040.1,4222.9 L2041.0,4223.6M2025.8,4227.1 L2029.1,4232.1 L2034.5,4230.8M2029.1,4232.1 L2031.9,4237.0M2039.2,4198.0 L2049.1,4201.0 L2054.6,4201.5M2042.7,4189.1 L2047.2,4193.0 L2052.6,4201.3 L2058.3,4202.3 L2062.0,4203.5M2044.8,4183.1 L2051.6,4186.5 L2060.5,4186.9 L2065.8,4188.5M2047.3,4170.8 L2057.1,4167.8 L2060.1,4169.9M2047.0,4152.0 L2054.6,4149.2M2038.7,4138.8 L2043.0,4134.8 L2048.8,4135.6 L2059.3,4138.5 L2064.8,4135.4M2027.0,4128.0 L2037.3,4125.8 L2037.4,4120.2 L2042.7,4117.0 L2043.6,4116.9M2007.1,4116.1 L2013.0,4110.3 L2012.9,4104.6M1969.3,4101.6 L1972.0,4096.2 L1975.9,4091.7 L1973.8,4086.5 L1978.9,4082.0 L1976.9,4079.3M1973.8,4086.5 L1970.5,4081.9M1941.2,4107.4 L1945.2,4104.2 L1948.7,4098.6 L1949.1,4094.9M1927.7,4099.1 L1924.4,4094.2 L1927.2,4086.9 L1923.2,4081.1 L1919.6,4075.6M1897.2,4089.6 L1901.6,4081.4 L1902.9,4076.3M1901.6,4081.4 L1898.3,4077.4M1882.3,4083.7 L1884.8,4078.8 L1881.7,4068.3 L1878.1,4063.1M1820.8,4072.4 L1818.8,4065.1 L1818.5,4064.0M1805.1,4073.7 L1800.0,4065.3 L1799.2,4064.4M1773.7,4067.6 L1771.5,4057.3 L1776.8,4055.8M1758.0,4064.8 L1760.9,4058.8 L1763.5,4050.8M1745.2,4060.6 L1751.1,4051.9 L1751.7,4041.3 L1752.3,4040.2M1728.3,4053.1 L1735.3,4052.4 L1733.3,4044.7 L1736.1,4039.6 L1739.1,4033.5M1720.6,4039.4 L1729.3,4041.6M1708.5,3993.5 L1713.3,3997.1 L1715.6,3998.1M1708.0,3971.2 L1713.7,3969.6 L1721.1,3965.1 L1726.6,3958.6 L1727.8,3958.1M1707.2,3929.5 L1710.0,3938.7 L1715.6,3942.6 L1718.1,3945.6M1707.2,3908.2 L1712.4,3910.5 L1714.8,3911.1M1707.2,3886.4 L1715.1,3883.3 L1720.5,3887.6 L1724.0,3886.8M1720.5,3887.6 L1723.6,3893.0M1707.2,3877.4 L1713.1,3875.5 L1717.0,3871.4 L1718.2,3866.6M1714.4,3873.9 L1710.0,3883.5 L1709.4,3892.6 L1708.0,3895.3M1709.4,3892.6 L1716.9,3898.4M1768.4,3894.8 L1761.8,3899.4 L1752.2,3900.7 L1742.8,3896.2M1766.2,3903.9 L1757.1,3899.1 L1757.0,3899.0M1764.6,3910.4 L1762.1,3905.6 L1758.8,3901.3M1765.0,3956.9 L1763.0,3961.7 L1758.3,3970.3 L1756.8,3970.4M1772.3,3974.1 L1764.3,3978.0 L1761.9,3982.5M1779.1,3985.5 L1768.3,3985.6 L1763.9,3991.0 L1756.9,3995.1 L1753.9,3994.6M1792.0,3973.6 L1794.2,3967.0 L1798.2,3963.4 L1805.9,3966.1 L1806.1,3965.9M1789.9,3960.9 L1797.2,3958.8 L1805.5,3954.0 L1814.2,3955.5 L1815.7,3952.8M1790.3,3955.0 L1795.5,3954.1 L1802.3,3954.3M1793.1,3932.1 L1802.2,3934.2 L1809.1,3931.1 L1812.5,3938.2 L1812.7,3938.1M1809.1,3931.1 L1812.8,3940.0M1833.0,3889.7 L1828.9,3897.1 L1822.4,3900.3 L1818.7,3903.3M1822.4,3900.3 L1825.6,3907.2M1841.4,3903.3 L1840.4,3910.0 L1834.1,3918.0 L1830.7,3924.7 L1829.6,3929.7M1862.6,3924.0 L1863.2,3931.7 L1862.5,3940.0M1892.6,3924.5 L1893.8,3932.2 L1885.4,3938.3 L1885.5,3938.6M1907.6,3920.5 L1899.7,3924.6 L1893.1,3928.3 L1887.0,3930.2 L1886.0,3930.1M1936.2,3933.4 L1930.2,3936.0 L1925.7,3940.5 L1924.0,3944.4M1943.6,3939.0 L1936.7,3941.6 L1927.5,3942.0 L1918.7,3945.5M1949.7,3941.8 L1943.9,3942.3 L1937.1,3943.7 L1933.3,3949.8M1967.4,3948.8 L1959.7,3955.8 L1958.6,3956.5M1978.7,3955.2 L1971.6,3963.5 L1969.4,3970.4M1986.9,3960.1 L1981.6,3968.6 L1978.4,3974.4 L1979.0,3980.9M2007.3,3969.0 L2004.0,3979.0 L2003.7,3983.3M2004.0,3979.0 L2005.6,3984.5M2037.7,3979.1 L2036.1,3987.5M2067.8,3990.0 L2070.0,3997.5 L2065.7,4003.8 L2063.7,4012.0 L2065.2,4015.0M2065.7,4003.8 L2056.8,4013.7M2081.5,3997.4 L2071.1,3996.6 L2065.8,3999.6 L2065.1,4000.3M1328.3,2356.9 L1319.1,2355.4 L1318.0,2355.2M1364.8,2342.5 L1369.3,2335.2 L1368.1,2334.1M1369.3,2335.2 L1365.0,2332.6M1380.7,2325.2 L1375.1,2318.3M1395.9,2337.2 L1390.5,2334.6 L1388.8,2333.4M1429.1,2321.8 L1419.3,2323.0 L1414.6,2322.9M1466.8,2277.7 L1475.5,2279.2 L1475.9,2279.8M1451.9,2304.1 L1459.1,2300.7 L1467.1,2303.4 L1467.9,2303.0M1467.1,2303.4 L1471.0,2309.2M1425.0,2368.7 L1429.7,2371.8 L1434.4,2373.6M1416.3,2391.3 L1421.8,2394.2 L1429.7,2396.7 L1431.3,2398.3M1429.7,2396.7 L1437.1,2393.2M1415.0,2396.5 L1424.0,2392.9M1415.5,2411.3 L1420.3,2407.6 L1429.7,2407.8 L1429.9,2407.8M1469.5,2467.1 L1469.5,2461.0M1487.5,2458.3 L1478.7,2456.8 L1474.6,2454.1M1478.7,2456.8 L1473.7,2454.9M1503.4,2446.6 L1501.2,2436.0 L1497.7,2432.0M1512.2,2449.4 L1516.0,2442.1 L1519.1,2444.2M1519.1,2467.0 L1524.8,2465.0 L1531.8,2466.1M1534.5,2479.6 L1527.7,2472.1 L1527.9,2467.6M1576.9,2459.2 L1571.3,2462.4M1589.5,2431.3 L1584.1,2433.2 L1580.6,2434.6M1584.1,2433.2 L1581.7,2428.9M1594.6,2423.9 L1588.7,2425.5M1609.1,2410.2 L1604.2,2405.5 L1596.6,2401.1M1677.6,2373.4 L1680.8,2368.8 L1682.1,2365.7M843.3,2662.9 L836.6,2659.6 L832.0,2657.3M871.3,2635.3 L863.7,2631.6 L860.4,2631.1M889.7,2627.7 L881.3,2621.1 L880.4,2619.0M899.8,2623.9 L894.8,2617.3 L894.6,2613.5M961.3,2607.5 L959.1,2601.8 L959.2,2594.0 L958.6,2590.9M959.2,2594.0 L963.4,2588.1M1010.3,2572.9 L1011.7,2565.5 L1007.1,2562.3M1037.0,2512.8 L1029.3,2520.3 L1028.5,2520.3M1029.3,2520.3 L1027.0,2524.8M1023.4,2499.1 L1015.7,2506.2 L1012.9,2508.9M1005.8,2489.8 L1003.6,2496.0M1011.6,2481.2 L1016.7,2475.1 L1015.1,2472.1M1026.4,2467.9 L1020.3,2464.1M1037.8,2451.5 L1035.3,2441.2 L1028.6,2439.5M1035.3,2441.2 L1038.3,2433.2M1050.8,2436.7 L1046.1,2441.0 L1040.4,2443.9M1069.0,2418.0 L1069.7,2412.3 L1068.9,2410.5M1069.7,2412.3 L1071.1,2408.3M1094.2,2418.6 L1089.3,2420.2 L1081.5,2419.1 L1080.5,2421.1M1081.5,2419.1 L1080.9,2424.8M1091.7,2398.8 L1081.3,2400.6 L1080.5,2403.6M1149.4,2395.9 L1155.6,2392.6 L1163.5,2393.0M1157.5,2406.2 L1165.4,2406.1 L1165.5,2406.1M1165.4,2406.1 L1168.0,2402.6M1252.3,2413.2 L1245.5,2411.0 L1244.1,2408.1M1251.8,2396.1 L1252.9,2402.9 L1246.3,2404.6M1242.7,2379.8 L1235.7,2383.2M1248.7,2362.4 L1241.4,2359.7 L1236.4,2355.1 L1235.9,2353.2M1236.4,2355.1 L1237.5,2350.1M1267.0,2352.2 L1263.9,2346.6 L1258.4,2340.9 L1258.1,2340.3M1691.4,3473.6 L1698.9,3469.2 L1700.9,3469.3M1698.9,3469.2 L1702.8,3465.8M1688.4,3485.6 L1693.0,3483.2 L1697.0,3481.1M1658.0,3540.3 L1659.2,3550.4 L1668.9,3549.7 L1674.7,3549.8 L1674.9,3550.0M1655.2,3548.7 L1658.9,3555.0 L1665.1,3555.3 L1668.1,3557.4M1651.9,3558.5 L1656.4,3555.8 L1663.8,3558.2 L1671.8,3561.2 L1672.6,3561.4M1651.6,3573.9 L1660.0,3571.0 L1668.4,3574.9 L1672.0,3574.7M1654.2,3587.3 L1659.3,3586.9 L1660.8,3576.6 L1667.5,3576.1 L1670.8,3571.3M1671.5,3625.3 L1680.2,3631.8 L1685.8,3633.7 L1689.9,3641.0 L1691.9,3644.2M1673.3,3636.2 L1679.0,3636.3 L1683.1,3635.6M1680.5,3650.6 L1682.0,3641.1 L1687.9,3640.8M1682.0,3641.1 L1689.1,3640.7M1702.4,3666.8 L1706.8,3660.3 L1710.7,3655.0 L1711.5,3651.6M1715.8,3670.6 L1711.5,3661.7 L1712.3,3655.0 L1717.6,3646.4 L1720.1,3644.6M1729.3,3679.6 L1722.5,3682.8 L1717.1,3686.9M1722.5,3682.8 L1725.5,3688.3M1727.0,3690.8 L1733.2,3688.4 L1743.7,3689.3 L1750.9,3688.8 L1751.6,3688.9M1724.9,3699.2 L1730.8,3699.7 L1732.5,3701.2M1727.3,3703.7 L1730.2,3696.8 L1737.8,3690.2 L1738.6,3688.1M1713.2,3730.9 L1720.6,3737.7 L1721.5,3748.6 L1723.6,3756.5M1734.1,3752.5 L1729.7,3745.6M1747.8,3749.8 L1748.3,3742.3 L1750.0,3732.0 L1753.1,3729.5M1762.2,3749.8 L1756.6,3742.5 L1754.0,3735.3 L1755.5,3729.5 L1755.7,3723.9M1775.5,3748.1 L1771.1,3742.3 L1763.2,3740.3 L1759.6,3740.2M1802.6,3743.3 L1799.8,3733.2 L1800.2,3724.0 L1800.3,3720.1M1800.2,3724.0 L1788.9,3722.4M1816.3,3744.0 L1815.0,3738.7 L1810.9,3736.2M1837.3,3733.5 L1835.6,3723.2 L1835.4,3722.9M1844.7,3719.5 L1841.3,3714.5 L1835.8,3716.2 L1834.1,3715.4M1842.1,3706.4 L1836.3,3713.9 L1829.0,3714.6 L1823.3,3722.3 L1822.3,3722.1M1835.7,3697.9 L1827.4,3704.9 L1822.7,3709.7M1831.1,3682.7 L1821.8,3683.0 L1819.9,3674.8M1839.1,3656.1 L1835.8,3647.7 L1834.1,3646.8M1835.8,3647.7 L1830.8,3647.5M1847.6,3639.0 L1843.9,3630.8 L1846.0,3621.2 L1847.1,3617.2M1850.7,3630.7 L1842.8,3627.0 L1841.4,3622.2 L1841.2,3613.9M1849.7,3589.7 L1844.7,3590.3 L1841.4,3584.0 L1834.2,3585.5 L1827.1,3589.6M1854.2,3576.2 L1844.4,3576.8 L1834.1,3580.2 L1833.6,3580.3M1834.1,3580.2 L1829.9,3572.4M1856.3,3549.8 L1846.7,3546.0 L1841.2,3545.4M1853.3,3540.9 L1851.1,3547.0 L1842.3,3551.2M1856.0,3526.8 L1850.5,3522.0 L1840.5,3519.2M1878.6,3502.0 L1874.8,3495.5 L1871.1,3493.4M1874.8,3495.5 L1874.7,3490.2M1879.6,3479.9 L1870.5,3481.5 L1865.0,3489.9 L1861.2,3489.3M1690.3,3745.9 L1699.1,3747.3 L1696.6,3753.6M1704.4,3750.9 L1699.6,3754.0 L1689.6,3753.5 L1687.1,3757.2M1689.6,3753.5 L1683.8,3752.2M1711.1,3775.7 L1709.3,3784.1 L1710.0,3786.1M1709.3,3784.1 L1712.3,3788.5M1720.9,3781.5 L1718.3,3791.4 L1716.2,3795.7M1734.1,3789.4 L1734.6,3795.1 L1727.4,3802.3 L1727.5,3803.2M1739.2,3789.1 L1734.8,3798.0 L1736.0,3799.2M1801.1,3775.9 L1800.3,3781.4 L1806.4,3785.7M1829.5,3786.3 L1825.5,3791.3 L1821.5,3795.6 L1820.9,3800.5M1837.2,3814.7 L1832.4,3812.5 L1825.9,3808.1 L1816.7,3810.7M1825.9,3808.1 L1824.6,3801.9M1835.8,3822.7 L1828.2,3818.7 L1827.7,3818.1M1828.2,3818.7 L1823.3,3819.1M1815.7,3839.2 L1813.0,3831.6 L1813.7,3825.7 L1813.9,3824.1M1813.7,3825.7 L1817.3,3819.3M1804.3,3839.8 L1811.6,3836.9 L1811.8,3835.8M1741.4,3842.3 L1748.3,3836.4M1725.6,3830.4 L1730.5,3824.7 L1736.3,3818.8M1717.8,3838.5 L1710.4,3837.6 L1702.6,3837.8 L1696.9,3837.8 L1696.4,3837.7M1679.9,3827.7 L1688.1,3830.1 L1691.0,3827.1M1688.1,3830.1 L1692.7,3833.9M1675.9,3817.6 L1682.9,3816.9 L1685.5,3814.4M1682.9,3816.9 L1688.2,3816.4M1675.1,3812.7 L1680.9,3815.4 L1682.3,3816.5M1678.0,3792.3 L1688.0,3794.0 L1697.5,3789.7 L1697.8,3789.7M1297.6,4110.3 L1305.1,4112.3M1320.7,4103.4 L1319.2,4110.4 L1318.8,4120.4 L1319.1,4121.2M1343.7,4097.2 L1350.0,4102.8 L1349.3,4105.5M1356.1,4094.2 L1358.4,4104.0 L1358.7,4105.7M1375.1,4091.0 L1378.1,4095.9 L1375.0,4104.4M1394.9,4088.3 L1404.1,4091.3 L1406.9,4093.4M1404.1,4091.3 L1409.4,4091.6M1420.9,4092.4 L1413.3,4098.5 L1408.5,4101.9 L1407.4,4102.7M1431.5,4120.6 L1424.9,4122.1 L1416.9,4122.0 L1415.0,4124.7M1416.9,4122.0 L1410.7,4120.7M1441.2,4134.7 L1434.1,4138.3M1494.9,4167.6 L1495.3,4177.7 L1496.2,4183.0 L1494.9,4186.8M1515.6,4170.7 L1520.4,4175.1M1541.6,4175.1 L1549.6,4173.3 L1557.0,4169.9M1565.9,4163.8 L1555.2,4161.7 L1550.4,4162.9 L1548.8,4165.1M1582.0,4191.8 L1575.5,4200.1 L1572.2,4201.7M1588.4,4202.4 L1580.7,4201.1 L1577.8,4198.6M1580.7,4201.1 L1576.7,4197.5M1602.3,4212.6 L1603.0,4221.3 L1603.7,4232.2 L1604.7,4234.1M1601.1,4199.1 L1603.0,4192.3 L1604.3,4192.4M1615.1,4163.7 L1610.5,4168.9 L1608.3,4174.9M1637.3,4146.5 L1642.5,4150.4M1638.2,4143.7 L1647.4,4141.4 L1647.5,4141.4M1640.0,4134.7 L1644.4,4137.1 L1650.5,4139.7 L1651.0,4139.2M1623.6,4109.1 L1629.9,4110.7M1605.2,4077.0 L1608.0,4067.9 L1604.6,4060.7M1597.3,4063.4 L1600.2,4057.5 L1602.8,4059.1M1595.6,4048.0 L1600.9,4051.3M1597.7,4033.4 L1604.8,4033.7M1597.9,4032.2 L1604.0,4038.1 L1609.0,4036.8 L1614.0,4039.3M1600.2,4013.5 L1607.4,4018.2 L1614.7,4020.4 L1615.9,4020.2M1605.3,4002.1 L1607.4,4007.5 L1607.9,4014.3 L1611.2,4020.4M1607.9,4014.3 L1607.0,4020.4M1627.2,3983.4 L1634.5,3987.0 L1639.4,3989.4 L1641.3,3994.3M1630.1,3982.4 L1633.0,3992.0 L1629.9,3997.5M1656.5,3998.3 L1650.3,4000.2 L1649.2,4000.5M1658.7,4010.3 L1651.8,4010.1 L1644.3,4008.3 L1642.6,4006.5M1674.2,4054.3 L1667.8,4051.6 L1661.6,4052.2M1675.0,4069.1 L1664.9,4071.9M1692.4,4100.9 L1686.5,4104.3 L1679.7,4110.2 L1681.0,4114.3M1699.7,4114.5 L1693.6,4111.7 L1688.0,4113.4 L1686.7,4113.1M1710.2,4120.9 L1711.6,4129.2 L1717.3,4131.3 L1721.3,4136.4M1731.6,4126.4 L1723.7,4122.5 L1723.3,4122.8M1740.1,4141.9 L1740.3,4148.4 L1737.0,4152.4 L1735.4,4155.6M1751.5,4201.3 L1747.3,4207.2 L1743.4,4213.0 L1741.3,4215.7M1743.4,4213.0 L1737.7,4212.9M1763.3,4207.5 L1769.7,4209.2 L1770.8,4209.0M1767.2,4199.9 L1777.6,4202.8 L1778.9,4201.9M1770.5,4193.2 L1779.0,4189.9 L1785.5,4195.3 L1788.7,4196.3M1771.4,4178.6 L1776.8,4182.9M1787.5,4089.6 L1795.3,4084.9 L1795.9,4085.0M1106.7,3909.7 L1098.8,3914.3 L1096.7,3913.9M1098.8,3914.3 L1097.3,3919.1M1135.7,3905.3 L1138.3,3916.0 L1139.2,3922.1M1131.0,3917.5 L1126.3,3911.8M1132.7,3930.1 L1135.5,3934.6 L1131.1,3937.7M1162.5,3923.9 L1156.3,3928.0 L1153.1,3930.0M1156.3,3928.0 L1151.1,3927.7M1223.1,4008.3 L1218.6,4016.7 L1217.0,4018.8M1251.6,4018.3 L1244.7,4017.1M1261.3,4062.4 L1256.6,4053.0 L1257.5,4046.8M1243.9,4077.3 L1241.1,4082.9 L1233.7,4085.8 L1231.6,4086.4M1233.7,4085.8 L1235.4,4093.6M1256.6,4089.8 L1249.1,4092.1 L1244.8,4100.4M1249.1,4092.1 L1250.7,4099.1M1328.0,3830.0 L1331.5,3833.9 L1334.8,3843.5 L1337.1,3844.0M1350.0,3829.9 L1350.4,3835.1 L1345.3,3838.2M1363.2,3857.2 L1365.8,3847.6 L1370.6,3841.4M1393.5,3878.5 L1386.5,3879.5 L1381.2,3872.7 L1378.0,3869.3M1385.3,3891.1 L1391.0,3893.9 L1393.1,3900.7 L1395.8,3902.3M1393.1,3900.7 L1398.2,3899.6M1385.1,3895.1 L1389.0,3899.9 L1391.7,3903.6M1389.0,3899.9 L1392.4,3903.9M1394.7,3893.2 L1395.7,3899.7 L1390.0,3905.7M1395.7,3899.7 L1391.6,3905.1M1397.8,3887.9 L1397.4,3896.0 L1399.0,3905.5M1417.2,3876.6 L1409.8,3876.6 L1409.7,3876.7M1425.5,3889.7 L1421.0,3894.7 L1420.0,3894.9M1428.1,3914.4 L1420.4,3921.5 L1418.3,3927.0M1420.4,3921.5 L1419.1,3926.9M1433.6,3939.5 L1438.6,3943.3 L1439.7,3944.5M1442.1,3928.9 L1448.8,3925.6 L1454.1,3926.6 L1458.7,3925.5M1443.3,3916.4 L1451.4,3909.5 L1457.8,3913.9 L1457.9,3914.0M1457.8,3913.9 L1462.3,3919.3M1444.1,3908.2 L1450.9,3906.3M1446.0,3888.1 L1454.6,3883.0 L1458.8,3878.6 L1459.2,3877.5M1447.2,3875.6 L1453.4,3872.0M1460.2,3868.6 L1459.2,3873.6 L1455.2,3883.0 L1455.4,3883.3M1480.4,3896.0 L1479.2,3901.3 L1478.1,3905.4M1479.5,3911.7 L1474.5,3911.3 L1467.4,3911.6 L1462.0,3912.5 L1458.3,3911.7M1476.3,3943.5 L1467.3,3940.4 L1460.4,3938.6 L1458.8,3940.1M1476.3,3967.1 L1467.3,3961.8 L1460.1,3957.4M1478.8,3991.3 L1472.5,3986.0 L1467.1,3990.2 L1465.7,3990.9M1481.8,4006.9 L1474.5,4008.2 L1473.8,4010.0M1491.4,4019.7 L1483.7,4023.7 L1477.0,4020.9M1516.6,4055.1 L1508.8,4049.9M1489.4,4081.0 L1494.7,4082.8 L1501.1,4080.7 L1506.1,4074.4M1464.6,4089.7 L1460.3,4079.8 L1455.0,4079.7M1460.3,4079.8 L1461.6,4073.1M1469.2,4100.0 L1463.7,4103.0 L1463.6,4108.2 L1463.2,4108.8M1463.6,4108.2 L1458.3,4110.9M1433.6,4092.8 L1431.2,4086.8 L1432.6,4078.7 L1430.7,4073.6 L1431.8,4072.1M1432.6,4078.7 L1427.2,4074.2M1420.5,4083.7 L1428.7,4086.9 L1434.3,4085.9 L1436.1,4086.4M1395.8,4075.5 L1387.5,4075.6 L1382.9,4074.5M1387.5,4075.6 L1382.2,4076.5M1380.1,4077.6 L1383.5,4067.2 L1386.3,4062.5 L1387.1,4062.2M1329.8,4077.9 L1326.2,4074.2 L1324.3,4066.5 L1319.6,4063.6M1324.3,4066.5 L1328.2,4060.8M1301.2,4072.1 L1296.9,4067.3M1825.4,4093.6 L1831.4,4102.3 L1834.4,4106.6 L1834.0,4111.7M1834.4,4106.6 L1836.0,4111.4M1835.5,4102.0 L1830.2,4104.1 L1829.7,4106.4M1830.2,4104.1 L1825.9,4105.9M1844.0,4109.0 L1838.0,4116.3 L1827.4,4113.9 L1825.3,4118.1M1827.4,4113.9 L1826.7,4125.4M1849.8,4140.1 L1842.1,4134.1 L1840.7,4135.2M1859.1,4167.9 L1849.1,4168.0 L1842.7,4170.7M1866.2,4178.3 L1857.8,4185.1 L1859.5,4188.6M1876.9,4203.4 L1871.8,4210.1 L1870.7,4210.3M1860.9,4254.3 L1862.3,4248.7 L1855.4,4240.4 L1855.2,4235.1M1852.1,4265.2 L1841.7,4262.7 L1840.1,4254.5 L1837.4,4254.0M1961.1,2443.6 L1962.9,2452.8 L1961.0,2460.3 L1960.9,2460.6M1961.0,2460.3 L1960.5,2467.7M1980.7,2442.1 L1988.0,2450.0 L1986.7,2453.0M2012.4,2439.5 L2013.1,2444.7 L2013.9,2446.7M2013.1,2444.7 L2015.4,2449.1M2041.0,2437.0 L2041.7,2446.3 L2041.5,2446.6M2041.7,2446.3 L2037.9,2449.2M2058.1,2433.0 L2056.6,2439.3 L2061.6,2445.8 L2063.2,2449.6M2075.6,2426.0 L2073.5,2435.8 L2065.5,2441.2M2073.5,2435.8 L2066.3,2438.8M2096.2,2415.6 L2092.4,2423.6 L2096.0,2429.7 L2097.0,2433.3M2122.4,2406.0 L2124.9,2412.8 L2125.8,2414.2M2124.9,2412.8 L2126.7,2416.9M2131.6,2399.4 L2139.8,2395.3 L2142.9,2402.8 L2144.5,2404.3M2145.9,2390.9 L2146.0,2400.9 L2147.0,2401.5M2170.3,2377.3 L2173.8,2382.3 L2183.0,2385.2 L2182.5,2389.2M2182.4,2370.2 L2190.4,2368.6 L2195.4,2369.4 L2196.7,2372.0M2188.8,2367.4 L2188.6,2374.7 L2185.4,2382.2 L2185.7,2383.0M2219.3,2332.3 L2225.6,2334.0M2222.1,2316.9 L2226.0,2326.9 L2233.4,2325.0 L2233.5,2324.9M2233.4,2325.0 L2236.1,2332.1M2236.6,2268.8 L2227.5,2272.3 L2228.1,2276.0M2271.6,2307.6 L2262.5,2305.7 L2255.3,2304.7 L2254.5,2304.6M2272.7,2309.8 L2267.3,2315.1 L2263.4,2313.0M2275.2,2351.7 L2268.1,2353.6 L2260.7,2356.9M2273.2,2365.3 L2269.1,2368.5 L2262.1,2369.2 L2261.9,2369.2M2262.1,2369.2 L2258.0,2373.5M2250.8,2379.9 L2247.3,2372.9 L2244.1,2369.3M2232.5,2395.4 L2235.0,2388.5 L2235.0,2386.0M2217.6,2403.3 L2218.0,2394.5 L2211.3,2388.8 L2210.6,2387.2M2191.6,2413.3 L2184.1,2405.6 L2184.1,2405.2M2182.1,2421.4 L2176.9,2423.2 L2174.6,2423.7M2175.2,2430.0 L2173.9,2422.0 L2173.8,2421.6M2149.2,2439.3 L2142.5,2434.1 L2142.5,2429.7M2133.6,2448.7 L2130.7,2443.3 L2129.8,2442.2M2119.5,2458.5 L2116.4,2450.2 L2115.4,2448.9M2101.7,2468.3 L2098.9,2462.6 L2101.9,2460.9M2058.3,2477.0 L2056.9,2468.8M2046.9,2479.5 L2049.8,2469.4 L2051.3,2465.9M1978.4,2472.3 L1979.1,2466.8 L1981.5,2460.6 L1980.5,2456.9M1967.4,2477.6 L1968.9,2468.8 L1965.9,2462.1 L1964.5,2460.9M1343.9,3651.7 L1347.3,3656.7 L1352.9,3662.8 L1353.1,3663.1M1368.7,3646.1 L1374.1,3647.4 L1383.0,3646.0 L1383.4,3646.0M1388.9,3634.3 L1395.5,3636.8 L1400.2,3643.1M1414.1,3632.7 L1406.7,3634.4 L1405.9,3637.2M1431.1,3641.1 L1427.9,3648.6 L1427.1,3649.8M1428.8,3651.0 L1422.1,3644.3 L1422.6,3639.7M1422.1,3644.3 L1424.8,3638.0M1402.7,3664.2 L1407.3,3657.8 L1413.5,3649.9 L1412.6,3648.5M1393.7,3671.1 L1383.9,3668.5 L1383.5,3667.4M1386.8,3678.0 L1382.7,3672.2 L1383.7,3667.2 L1382.3,3664.1M1360.0,3684.0 L1363.3,3678.8 L1363.4,3677.6M1345.6,3675.5 L1349.3,3668.8M1560.1,3721.9 L1565.2,3727.9 L1564.6,3732.4M1565.2,3727.9 L1560.3,3731.1M1586.4,3731.2 L1587.5,3740.8 L1585.5,3744.6M1603.6,3734.6 L1601.5,3739.2 L1599.5,3745.8 L1597.9,3746.9M1599.5,3745.8 L1601.5,3750.5M1613.9,3755.0 L1608.1,3749.0 L1603.9,3746.8M1608.9,3782.5 L1600.1,3781.4 L1599.1,3780.5M1576.9,3808.8 L1585.2,3809.9 L1588.9,3809.9M1570.1,3795.3 L1575.0,3793.7 L1576.9,3793.9M1567.4,3782.7 L1572.0,3787.8 L1574.5,3785.6M1564.0,3769.8 L1559.7,3763.1 L1560.3,3756.1M1552.4,3769.8 L1559.4,3766.3 L1561.1,3760.5M1542.7,3761.2 L1551.3,3762.3 L1555.8,3760.7M1590.8,3600.2 L1582.6,3606.4 L1583.3,3612.2 L1581.6,3614.4M1583.3,3612.2 L1586.1,3620.6M1598.9,3617.1 L1588.7,3619.3 L1588.9,3620.3M1611.2,3641.8 L1608.3,3648.8M1606.3,3664.1 L1608.0,3657.2 L1608.3,3656.3M1594.5,3668.7 L1591.6,3676.9 L1582.4,3672.7M1583.8,3643.8 L1588.5,3636.1M1574.1,3633.8 L1579.3,3626.5 L1581.0,3622.1M1569.4,3626.7 L1570.7,3619.3 L1570.2,3617.9M1378.1,3710.7 L1383.2,3710.9 L1387.4,3718.9 L1387.8,3719.0M1389.2,3702.3 L1398.0,3706.8M1409.4,3690.2 L1410.1,3697.3 L1416.0,3704.0 L1417.2,3704.4M1444.9,3715.1 L1438.9,3709.8 L1431.8,3713.2 L1431.4,3712.9M1431.8,3713.2 L1427.2,3707.5M1444.9,3728.0 L1437.0,3724.9 L1430.6,3718.3M1452.9,3740.4 L1450.8,3746.0 L1451.7,3752.0 L1445.8,3755.6M1473.8,3726.6 L1481.3,3728.5M1475.5,3723.9 L1480.7,3724.7 L1487.9,3723.9 L1490.7,3728.4M1487.9,3723.9 L1496.3,3721.6M1487.6,3703.7 L1497.4,3700.4 L1502.2,3701.0M1497.4,3700.4 L1498.8,3705.2M1491.8,3711.0 L1485.4,3708.6M1490.5,3736.1 L1481.5,3736.2M1516.1,3764.6 L1509.4,3764.2 L1508.5,3763.0M1483.5,3789.8 L1490.6,3784.9 L1491.7,3782.3M1460.2,3780.0 L1470.3,3778.4 L1473.6,3779.2M1470.3,3778.4 L1475.8,3779.2M1453.5,3782.4 L1448.6,3780.1 L1446.4,3774.8M1448.6,3780.1 L1451.0,3775.6M1435.8,3789.5 L1431.1,3785.7 L1424.8,3781.3M1422.9,3780.2 L1427.8,3774.5 L1427.9,3774.0M1412.2,3771.7 L1408.1,3763.0M1406.0,3770.5 L1399.5,3766.1 L1394.6,3764.0 L1393.5,3761.4M1397.6,3757.5 L1402.6,3749.3M1377.8,3737.7 L1378.7,3731.7 L1381.3,3726.9 L1382.0,3719.1M1381.3,3726.9 L1379.4,3718.3M1525.1,3904.4 L1532.4,3907.6 L1535.2,3908.0M1532.4,3907.6 L1534.9,3912.1M1534.8,3905.0 L1531.7,3912.8M1540.9,3909.5 L1539.6,3915.3 L1538.2,3915.9M1547.0,3911.2 L1550.0,3919.1 L1549.2,3920.4M1555.1,3906.9 L1562.1,3904.4M1557.0,3879.9 L1553.9,3869.4 L1554.2,3866.3M1553.9,3869.4 L1556.8,3865.3M1549.8,3871.2 L1548.2,3876.7 L1551.6,3880.5 L1556.6,3884.2 L1558.5,3884.9M1592.4,3859.7 L1597.3,3865.7 L1596.0,3874.5M1601.8,3860.1 L1595.6,3863.7 L1589.1,3862.7 L1586.7,3864.0M1601.4,3885.0 L1594.9,3884.9 L1591.0,3880.2 L1590.9,3878.9M1595.3,3897.3 L1587.9,3894.5 L1587.6,3894.7M1603.9,3906.1 L1593.2,3907.1 L1593.5,3911.5M1606.6,3919.7 L1600.0,3922.1M1608.8,3933.5 L1598.1,3934.1 L1596.0,3938.7M1609.8,3940.9 L1605.9,3945.8 L1602.2,3955.8M1607.9,3960.9 L1602.0,3964.6 L1595.5,3967.0M1603.2,3973.7 L1596.1,3969.5M1578.0,3985.0 L1574.7,3977.3 L1581.8,3970.9M1574.7,3977.3 L1580.7,3975.5M1567.2,3992.2 L1560.4,3989.4 L1557.6,3982.8M1677.9,3869.9 L1677.5,3875.9 L1681.6,3884.2 L1681.6,3885.1M1690.7,3872.5 L1690.8,3881.8M1686.0,3911.8 L1681.1,3913.9 L1680.1,3913.6M1673.0,3933.8 L1667.1,3932.7 L1660.6,3929.3 L1659.2,3926.0M1667.6,3935.9 L1672.6,3926.7 L1671.4,3924.5M1644.4,3956.7 L1637.7,3956.6 L1629.7,3955.7 L1627.3,3953.7M1629.7,3955.7 L1624.8,3952.4M1627.2,3969.4 L1630.8,3965.9 L1636.9,3963.0 L1642.1,3961.7M1626.0,3961.1 L1631.1,3961.6 L1638.2,3962.7 L1638.4,3962.6M1638.2,3962.7 L1639.6,3957.9" fill="none" stroke="#000" stroke-width="2" stroke-linejoin="round" stroke-linecap="round"/><path d="M1037.2,2084.9 L1049.7,2097.4 L1069.6,2119.8 L1092.1,2139.8 L1104.6,2159.8 L1107.1,2189.8 L1119.6,2219.8 L1129.6,2254.8 L1124.6,2269.8 L1134.6,2284.7 L1124.6,2304.7 L1144.6,2339.7M1199.6,2284.7 L1204.6,2309.7 L1209.6,2334.7 L1234.5,2342.2 L1264.5,2347.2M824.8,2514.6 L844.8,2524.6 L864.8,2539.6 L879.8,2554.6 L889.8,2574.6 L894.8,2599.6 L904.7,2614.5M1747.2,1882.5 L1762.2,1890.0 L1779.7,1910.0 L1769.7,1920.0 L1774.7,1959.9 L1767.2,1984.9 L1777.2,2029.9 L1774.7,2054.9 L1794.7,2074.9 L1804.7,2069.9 L1819.7,2084.9 L1834.7,2099.9 L1814.7,2109.9M1474.9,2254.8 L1492.4,2239.8 L1509.9,2209.8 L1517.4,2194.8 L1554.8,2169.8M1499.9,2184.8 L1517.4,2194.8M1602.3,1917.5 L1609.8,1935.0M1619.8,1902.5 L1629.8,1925.0 L1639.8,1937.5M1649.8,1935.0 L1664.8,1932.5M1644.8,1952.4 L1669.8,1945.0M1634.8,2004.9 L1654.8,1984.9 L1669.8,1969.9M1664.8,2004.9 L1689.8,1994.9 L1719.7,1997.4M1674.8,2019.9 L1714.7,2017.4M1679.8,2054.9 L1709.7,2044.9 L1724.7,2049.9M1624.8,2032.4 L1644.8,2049.9M1737.2,2057.4 L1749.7,2069.9 L1744.7,2089.9M1504.9,2349.7 L1524.9,2337.2 L1544.8,2309.7 L1554.8,2294.7 L1572.3,2299.7 L1567.3,2319.7 L1574.8,2344.7 L1549.8,2334.7 L1529.9,2349.7 L1509.9,2352.2M2434.8,2127.3 L2404.8,2169.8 L2389.8,2194.8M929.7,3844.8 L959.7,3844.8 L964.7,3839.8M929.7,3874.8 L934.7,3909.7 L964.7,3939.7 L964.7,3969.7 L954.7,3984.7 L964.7,4004.7 L949.7,4009.7M865.2,2570.9 L857.6,2572.3M1022.2,2524.5 L1030.1,2527.4M789.8,2323.3 L788.4,2329.4M696.9,2658.2 L703.6,2661.8M950.6,2269.4 L956.8,2272.0M701.8,2680.7 L698.5,2686.0M660.3,2670.5 L653.2,2671.2M997.9,2349.4 L1002.4,2352.0M707.7,2501.6 L706.1,2504.1M961.1,2440.4 L961.4,2445.3M905.3,2228.5 L914.1,2229.1M739.4,2489.3 L742.5,2489.7M648.7,2677.6 L645.6,2680.5M817.1,2587.8 L814.5,2590.4M726.6,2662.1 L730.1,2667.3M851.0,2613.1 L852.4,2618.7M970.8,2265.3 L963.5,2266.4M868.9,2594.0 L869.6,2597.6M633.1,2622.4 L633.8,2627.1M1038.2,2426.8 L1034.3,2431.2M794.7,2345.5 L799.6,2347.9M744.7,2694.2 L741.3,2702.3M804.7,2369.2 L807.0,2371.9M737.0,2593.0 L732.7,2599.3M885.4,2579.8 L882.3,2584.0M937.2,2545.4 L932.5,2546.3M878.3,2490.3 L877.9,2493.4M682.8,2535.8 L678.0,2539.0M877.2,2598.8 L875.0,2603.4M921.5,2614.1 L917.0,2616.5M986.3,2544.2 L977.5,2545.4M813.9,2464.7 L810.4,2466.6M1019.3,2438.6 L1014.8,2444.1M917.9,2285.9 L915.9,2293.3M886.1,2410.4 L881.0,2414.8M872.1,2560.2 L874.8,2561.7M776.1,2525.1 L773.7,2528.7M788.0,2390.1 L786.1,2396.6M676.5,2651.6 L677.4,2654.5M616.4,2615.7 L621.6,2616.3M1659.5,1928.4 L1662.6,1933.9M1651.0,2187.5 L1653.0,2195.1M1711.4,2092.7 L1716.1,2094.9M1654.9,2069.2 L1646.2,2070.0M1658.2,2005.3 L1666.6,2005.4M1528.1,2069.7 L1534.1,2072.6M1663.7,2167.4 L1664.8,2172.5M1558.8,1987.4 L1562.1,1995.7M1749.9,2174.1 L1754.4,2178.9M1755.1,2048.9 L1758.0,2053.5M1755.9,2047.5 L1756.3,2052.2M1531.7,2086.5 L1535.1,2091.0M1703.2,2148.0 L1702.9,2151.1M1571.2,2180.6 L1576.7,2185.9M1569.6,1946.4 L1575.0,1953.5M2669.8,2439.2 L2667.6,2445.7M2652.7,2407.3 L2652.3,2412.1M2636.8,2413.0 L2634.7,2420.2M2634.8,2540.8 L2633.6,2549.1M2628.4,2462.4 L2625.5,2469.0M2640.8,2539.7 L2642.6,2544.7M2598.2,2520.9 L2595.2,2522.6M2689.8,2429.5 L2686.1,2432.5M2640.0,2456.3 L2643.1,2461.5M2565.3,2464.7 L2573.0,2466.4M2582.9,2518.5 L2579.1,2525.3M2755.1,2559.6 L2762.2,2560.7M2678.5,2549.0 L2685.2,2552.0M2597.3,2541.1 L2595.9,2544.8M2625.2,2367.1 L2631.9,2368.0M2554.9,2417.2 L2558.3,2417.8M2662.3,2500.7 L2669.9,2504.1M2629.3,2402.4 L2629.5,2408.9M2564.8,2475.2 L2559.0,2476.9M2657.6,2472.8 L2656.9,2477.3M2588.5,2502.6 L2594.0,2505.1M2583.9,2415.4 L2590.2,2419.3M2694.1,2480.7 L2692.3,2483.7M2551.0,2358.7 L2555.8,2363.2M2604.4,2513.2 L2602.3,2515.6M2616.1,2545.2 L2611.4,2552.6M2666.9,2534.8 L2662.5,2542.5M2787.4,2606.3 L2789.6,2610.1M2784.1,2604.6 L2789.0,2606.8M2777.8,2672.0 L2780.2,2679.0M2629.1,2509.9 L2633.3,2510.5M2741.1,2766.9 L2742.5,2773.5M2739.7,2529.9 L2743.1,2531.8M2712.4,2615.7 L2719.7,2619.5M2676.2,2583.2 L2678.7,2586.3M2670.6,2644.6 L2667.4,2645.4M2710.7,2781.4 L2707.0,2787.5M2741.5,2783.6 L2739.6,2786.8M2687.3,2702.3 L2693.8,2706.0M2660.3,2507.5 L2664.6,2508.5M2709.3,2593.6 L2712.9,2598.1M2819.7,2715.4 L2822.6,2718.1M2801.7,2782.1 L2803.1,2788.9M2723.1,2513.5 L2716.8,2513.7M2755.7,2605.0 L2759.2,2605.8M2673.0,2515.1 L2678.3,2516.1M2676.6,2622.2 L2681.4,2623.0M2653.8,2652.6 L2653.3,2658.0M2625.3,2594.2 L2624.8,2597.8M2605.2,2661.9 L2603.9,2667.7M2713.0,2687.5 L2705.9,2689.5M2692.3,2634.7 L2698.4,2639.9M2634.7,2593.5 L2632.0,2595.8M2638.9,2524.6 L2643.3,2525.8M2728.6,2673.1 L2733.0,2674.0M2660.0,2585.8 L2664.9,2587.4M2726.2,2594.2 L2724.9,2601.6M2732.7,2745.0 L2725.8,2746.0M2818.4,2710.4 L2814.6,2712.9M2714.7,2539.1 L2717.6,2540.8M2678.8,2702.8 L2683.4,2703.7M2608.2,2515.2 L2609.9,2518.6M2857.9,2784.8 L2862.9,2789.2M2728.7,2608.7 L2733.6,2608.9M2775.3,2748.1 L2782.4,2750.2M1134.6,3938.4 L1136.7,3941.5M1008.5,3832.4 L1001.1,3833.9M1033.2,3990.9 L1039.4,3993.0M908.2,3873.1 L902.7,3875.2M1145.6,3952.1 L1142.7,3959.6M1107.9,3847.0 L1110.7,3848.7M924.7,3915.3 L931.5,3920.2M1070.7,3958.9 L1065.3,3962.9M1027.9,3876.0 L1029.3,3879.9M978.0,3814.9 L974.5,3819.6M999.8,3994.7 L992.1,3996.6M1073.2,3901.1 L1068.2,3904.7M990.7,3878.1 L990.2,3885.1M921.8,3806.8 L917.1,3811.2M1088.3,3901.0 L1080.1,3903.8M1071.9,3951.5 L1069.4,3958.5M952.2,3855.0 L958.3,3860.7M1063.3,3969.9 L1060.3,3977.8M1072.2,3866.0 L1075.0,3872.8M1055.5,3969.2 L1053.9,3972.8M915.7,3869.8 L908.3,3872.7M1006.3,3858.6 L1011.3,3865.5M970.2,3881.6 L977.5,3886.5M907.6,3734.7 L905.6,3740.7M1048.6,3893.9 L1043.9,3899.3M1421.5,4121.2 L1413.6,4122.2M1511.5,4212.6 L1504.8,4214.2M1480.2,4174.2 L1480.8,4182.2M1435.3,4048.4 L1439.1,4049.5M1453.2,4153.9 L1450.6,4156.4M1657.7,4204.1 L1652.8,4210.2M1723.4,4239.2 L1716.7,4240.0M1436.2,4025.7 L1438.9,4027.8M1638.2,4185.7 L1639.2,4189.1M1441.1,4149.3 L1438.3,4153.7M1573.4,4240.7 L1581.9,4242.6M1665.9,4180.3 L1670.4,4182.0M1567.7,4088.5 L1560.5,4090.4M1676.2,4143.9 L1678.5,4148.1M1696.8,4129.8 L1697.6,4133.0M1483.2,4166.5 L1485.5,4169.1M1535.2,4233.5 L1536.8,4236.7M1668.1,4090.3 L1670.3,4092.5M1560.4,4095.7 L1566.4,4096.7M1476.5,4243.6 L1477.0,4249.2M1429.9,4069.8 L1425.0,4077.1M1537.5,4194.6 L1535.8,4200.0M1715.8,4161.3 L1722.6,4162.1M1408.3,4192.4 L1403.3,4194.5M1689.0,4228.8 L1683.7,4228.9M1664.7,4222.9 L1661.7,4225.4M1547.7,4243.0 L1554.7,4248.7M1633.3,4030.8 L1633.8,4034.8M1714.1,4221.3 L1718.3,4221.6M1689.9,4240.2 L1695.9,4242.9M1482.8,4230.0 L1491.4,4230.9M1493.3,4188.5 L1489.4,4191.9M1741.2,4175.5 L1744.6,4176.7M1625.2,4093.7 L1625.6,4098.9M1603.6,4241.5 L1602.6,4245.8M1352.6,3959.1 L1359.4,3962.1M1396.2,3991.2 L1393.9,3993.2M1383.8,3950.8 L1378.5,3954.9M1311.2,3950.1 L1312.3,3953.1M1359.5,3940.0 L1352.8,3941.6M1374.1,3956.0 L1367.0,3957.4M1489.9,4047.6 L1494.1,4050.0M1486.4,3865.5 L1482.5,3869.7M1405.7,3927.7 L1410.8,3934.7M1410.3,4015.9 L1412.1,4019.3M1398.9,3963.2 L1399.5,3967.4M1312.0,3867.6 L1316.5,3869.8M1355.1,4006.7 L1360.2,4012.2M1465.8,3975.1 L1463.7,3980.0M1349.1,3902.7 L1350.7,3910.8M1479.5,3885.4 L1483.2,3886.0M1447.9,3962.2 L1451.0,3962.7M1464.8,3948.9 L1473.0,3949.9M1444.2,3972.3 L1449.3,3976.5M1489.8,3872.2 L1488.0,3875.0M1318.6,3863.4 L1316.0,3868.5M1478.4,3994.2 L1476.9,3997.2M1468.7,3874.1 L1473.9,3879.6M1359.7,3850.3 L1359.4,3857.8M1331.1,3893.3 L1326.6,3894.0" fill="none" stroke="#000" stroke-width="2" stroke-linejoin="round" stroke-linecap="round"/><g fill="none" stroke="#000" stroke-width="2"><circle cx="1706.0" cy="3079.0" r="246"/><circle cx="1706.0" cy="3079.0" r="494"/><line x1="1706.0" y1="3079.0" x2="2906.0" y2="3079.0"/><line x1="1919.0" y1="2956.0" x2="2745.2" y2="2479.0"/><line x1="1829.0" y1="2866.0" x2="2306.0" y2="2039.8"/><line x1="1706.0" y1="3079.0" x2="1706.0" y2="1879.0"/><line x1="1583.0" y1="2866.0" x2="1106.0" y2="2039.8"/><line x1="1493.0" y1="2956.0" x2="666.8" y2="2479.0"/><line x1="1706.0" y1="3079.0" x2="506.0" y2="3079.0"/><line x1="1493.0" y1="3202.0" x2="666.8" y2="3679.0"/><line x1="1583.0" y1="3292.0" x2="1106.0" y2="4118.2"/><line x1="1706.0" y1="3079.0" x2="1706.0" y2="4279.0"/><line x1="1829.0" y1="3292.0" x2="2306.0" y2="4118.2"/><line x1="1919.0" y1="3202.0" x2="2745.2" y2="3679.0"/></g><g><rect x="2405.9" y="2308.2" width="23.5" height="23.5" fill="#ffb000"/><rect x="2403.3" y="2317.0" width="23.5" height="23.5" fill="#fcb603"/><rect x="2400.8" y="2325.7" width="23.5" height="23.5" fill="#f0c80f"/><rect x="2398.2" y="2334.5" width="23.5" height="23.5" fill="#e5db1a"/><rect x="2395.7" y="2343.3" width="23.5" height="23.5" fill="#daee26"/><rect x="2393.1" y="2352.1" width="23.5" height="23.5" fill="#d3ff2d"/><rect x="2390.5" y="2360.9" width="23.5" height="23.5" fill="#f0ff0f"/><rect x="2388.0" y="2369.6" width="23.5" height="23.5" fill="#fbff04"/><rect x="2385.4" y="2378.4" width="23.5" height="23.5" fill="#f3ff0c"/><rect x="2382.9" y="2387.2" width="23.5" height="23.5" fill="#ecff14"/><rect x="2380.3" y="2396.0" width="23.5" height="23.5" fill="#e4ff1c"/><rect x="2377.7" y="2404.7" width="23.5" height="23.5" fill="#dcff23"/><rect x="2375.2" y="2413.5" width="23.5" height="23.5" fill="#d5ff2b"/><rect x="2372.6" y="2422.3" width="23.5" height="23.5" fill="#d0ff30"/><rect x="2369.9" y="2431.1" width="23.5" height="23.5" fill="#d0ff30"/><rect x="2367.0" y="2439.7" width="23.5" height="23.5" fill="#d0ff30"/><rect x="2364.2" y="2448.4" width="23.5" height="23.5" fill="#d0ff30"/><rect x="2361.3" y="2457.1" width="23.5" height="23.5" fill="#d0ff30"/><rect x="2358.4" y="2465.8" width="23.5" height="23.5" fill="#d0ff30"/><rect x="2355.5" y="2474.4" width="23.5" height="23.5" fill="#d5f62a"/><rect x="2352.6" y="2483.1" width="23.5" height="23.5" fill="#e0e420"/><rect x="2349.7" y="2491.8" width="23.5" height="23.5" fill="#ead315"/><rect x="2346.8" y="2500.5" width="23.5" height="23.5" fill="#f5c10a"/><rect x="2343.9" y="2509.1" width="23.5" height="23.5" fill="#ffb100"/><rect x="2341.0" y="2517.8" width="23.5" height="23.5" fill="#f5c10a"/><rect x="2338.1" y="2526.5" width="23.5" height="23.5" fill="#ecd114"/><rect x="2335.2" y="2535.2" width="23.5" height="23.5" fill="#e2e11d"/><rect x="2332.3" y="2543.8" width="23.5" height="23.5" fill="#d9f027"/><rect x="2329.4" y="2552.5" width="23.5" height="23.5" fill="#d1fd2f"/><rect x="2326.6" y="2561.2" width="23.5" height="23.5" fill="#dee422"/><rect x="2323.7" y="2569.9" width="23.5" height="23.5" fill="#eacb16"/><rect x="2320.9" y="2578.6" width="23.5" height="23.5" fill="#f6b209"/><rect x="2318.1" y="2587.3" width="23.5" height="23.5" fill="#ff9f00"/><rect x="2315.3" y="2596.0" width="23.5" height="23.5" fill="#ff9c00"/><rect x="2312.5" y="2604.7" width="23.5" height="23.5" fill="#ff9900"/><rect x="2309.7" y="2613.4" width="23.5" height="23.5" fill="#ff9500"/><rect x="2306.9" y="2622.1" width="23.5" height="23.5" fill="#ff9200"/><rect x="2304.1" y="2630.8" width="23.5" height="23.5" fill="#ff9e00"/><rect x="2301.3" y="2639.5" width="23.5" height="23.5" fill="#ffc600"/><rect x="2298.5" y="2648.2" width="23.5" height="23.5" fill="#ffee00"/><rect x="2295.8" y="2657.0" width="23.5" height="23.5" fill="#ffff00"/><rect x="2293.0" y="2665.7" width="23.5" height="23.5" fill="#ffff00"/><rect x="2290.2" y="2674.4" width="23.5" height="23.5" fill="#ffff00"/><rect x="2287.4" y="2683.1" width="23.5" height="23.5" fill="#ffff00"/><rect x="2284.6" y="2691.8" width="23.5" height="23.5" fill="#ffff00"/><rect x="2281.8" y="2700.5" width="23.5" height="23.5" fill="#ffff00"/><rect x="2279.0" y="2709.2" width="23.5" height="23.5" fill="#f6ff09"/><rect x="2276.2" y="2717.9" width="23.5" height="23.5" fill="#ecff14"/><rect x="2273.4" y="2726.6" width="23.5" height="23.5" fill="#e1ff1e"/><rect x="2270.6" y="2735.3" width="23.5" height="23.5" fill="#d7ff29"/><rect x="2267.8" y="2744.0" width="23.5" height="23.5" fill="#d0ff30"/><rect x="2013.0" y="2551.3" width="23.5" height="23.5" fill="#a0ff60"/><rect x="2021.8" y="2549.0" width="23.5" height="23.5" fill="#baff46"/><rect x="2030.6" y="2546.6" width="23.5" height="23.5" fill="#d4ff2c"/><rect x="2039.5" y="2544.3" width="23.5" height="23.5" fill="#efff11"/><rect x="2048.3" y="2541.9" width="23.5" height="23.5" fill="#e3ff1d"/><rect x="2057.2" y="2539.6" width="23.5" height="23.5" fill="#d5ff2b"/><rect x="2066.0" y="2537.2" width="23.5" height="23.5" fill="#d0ff30"/><rect x="2074.8" y="2534.9" width="23.5" height="23.5" fill="#d0ff30"/><rect x="2083.7" y="2532.5" width="23.5" height="23.5" fill="#d0ff30"/><rect x="2092.5" y="2530.2" width="23.5" height="23.5" fill="#d0ff30"/><rect x="2101.3" y="2527.9" width="23.5" height="23.5" fill="#d0ff30"/><rect x="2110.2" y="2525.5" width="23.5" height="23.5" fill="#d0ff30"/><rect x="2119.0" y="2523.2" width="23.5" height="23.5" fill="#d0ff30"/><rect x="2127.8" y="2520.8" width="23.5" height="23.5" fill="#d0ff30"/><rect x="2136.7" y="2518.5" width="23.5" height="23.5" fill="#d0ff30"/><rect x="2145.6" y="2516.6" width="23.5" height="23.5" fill="#d4ff2c"/><rect x="2154.5" y="2514.7" width="23.5" height="23.5" fill="#d9ff27"/><rect x="2163.5" y="2512.9" width="23.5" height="23.5" fill="#deff22"/><rect x="2172.5" y="2511.1" width="23.5" height="23.5" fill="#e3ff1c"/><rect x="2181.4" y="2509.3" width="23.5" height="23.5" fill="#e8ff17"/><rect x="2190.4" y="2507.4" width="23.5" height="23.5" fill="#edff12"/><rect x="2199.3" y="2505.6" width="23.5" height="23.5" fill="#f3ff0d"/><rect x="2208.3" y="2503.8" width="23.5" height="23.5" fill="#f8ff08"/><rect x="2217.2" y="2502.0" width="23.5" height="23.5" fill="#fdff02"/><rect x="2226.2" y="2500.1" width="23.5" height="23.5" fill="#fff100"/><rect x="2235.2" y="2498.3" width="23.5" height="23.5" fill="#ffd700"/><rect x="2244.1" y="2496.5" width="23.5" height="23.5" fill="#ffbe00"/><rect x="2253.1" y="2494.7" width="23.5" height="23.5" fill="#ffa400"/><rect x="2262.0" y="2492.8" width="23.5" height="23.5" fill="#ff9600"/><rect x="2271.0" y="2491.0" width="23.5" height="23.5" fill="#ff8900"/><rect x="2279.9" y="2489.2" width="23.5" height="23.5" fill="#ff7d00"/><rect x="2288.9" y="2487.3" width="23.5" height="23.5" fill="#ff7100"/><rect x="2297.8" y="2485.5" width="23.5" height="23.5" fill="#ff6500"/><rect x="2306.8" y="2483.7" width="23.5" height="23.5" fill="#ff6a00"/><rect x="2315.7" y="2481.8" width="23.5" height="23.5" fill="#ff7b00"/><rect x="2324.7" y="2480.0" width="23.5" height="23.5" fill="#ff8b00"/><rect x="2333.7" y="2478.2" width="23.5" height="23.5" fill="#f4a90b"/><rect x="2342.6" y="2476.4" width="23.5" height="23.5" fill="#e5ce1b"/><rect x="2351.6" y="2474.5" width="23.5" height="23.5" fill="#d6f22a"/><rect x="2360.5" y="2472.7" width="23.5" height="23.5" fill="#d8f228"/><rect x="2369.5" y="2470.9" width="23.5" height="23.5" fill="#e5dc1b"/><rect x="2378.4" y="2469.0" width="23.5" height="23.5" fill="#f1c70e"/><rect x="2387.4" y="2467.2" width="23.5" height="23.5" fill="#feb201"/><rect x="2396.3" y="2465.4" width="23.5" height="23.5" fill="#ffb500"/><rect x="2405.3" y="2463.5" width="23.5" height="23.5" fill="#ffbb00"/><rect x="2414.3" y="2461.7" width="23.5" height="23.5" fill="#ffc100"/><rect x="2423.2" y="2459.9" width="23.5" height="23.5" fill="#ffc600"/><rect x="2432.2" y="2458.1" width="23.5" height="23.5" fill="#ffcc00"/><rect x="2441.1" y="2456.2" width="23.5" height="23.5" fill="#fdd202"/><rect x="2450.1" y="2454.4" width="23.5" height="23.5" fill="#f4db0b"/><rect x="2459.0" y="2452.6" width="23.5" height="23.5" fill="#ece314"/><rect x="2468.0" y="2450.7" width="23.5" height="23.5" fill="#e3ec1d"/><rect x="2476.9" y="2448.9" width="23.5" height="23.5" fill="#daf525"/><rect x="2485.9" y="2447.1" width="23.5" height="23.5" fill="#d2fd2e"/><rect x="2494.9" y="2445.3" width="23.5" height="23.5" fill="#cdff33"/><rect x="2503.8" y="2443.4" width="23.5" height="23.5" fill="#caff36"/><rect x="2512.8" y="2441.6" width="23.5" height="23.5" fill="#c7ff39"/><rect x="2521.7" y="2439.8" width="23.5" height="23.5" fill="#c3ff3d"/><rect x="2530.7" y="2437.9" width="23.5" height="23.5" fill="#c0ff40"/><path d="M2162.5,2436.4L2185.9,2422.9L2185.9,2449.9Z" fill="#f0ff00"/><path d="M2162.1,2445.4L2185.5,2431.9L2185.5,2458.9Z" fill="#f0ff00"/><path d="M2161.7,2454.4L2185.1,2440.9L2185.1,2467.9Z" fill="#f0ff00"/><path d="M2161.3,2463.4L2184.7,2449.9L2184.7,2476.9Z" fill="#f0ff00"/><path d="M2161.0,2472.4L2184.3,2458.9L2184.3,2485.9Z" fill="#f0ff00"/><path d="M2160.6,2481.4L2183.9,2467.9L2183.9,2494.9Z" fill="#f0ff00"/><path d="M2160.2,2490.4L2183.6,2476.9L2183.6,2503.9Z" fill="#f0ff00"/><path d="M2159.8,2499.4L2183.2,2485.9L2183.2,2512.9Z" fill="#f0ff00"/><path d="M2159.4,2508.4L2182.8,2494.9L2182.8,2521.9Z" fill="#f0ff00"/><path d="M2159.0,2517.4L2182.4,2503.9L2182.4,2530.9Z" fill="#f0ff00"/><path d="M2158.6,2526.4L2182.0,2512.9L2182.0,2539.9Z" fill="#f0ff00"/><path d="M2158.2,2535.4L2181.6,2521.9L2181.6,2548.9Z" fill="#f0ff00"/><path d="M2157.8,2544.4L2181.2,2530.9L2181.2,2557.9Z" fill="#f0ff00"/><path d="M2157.4,2553.4L2180.8,2539.9L2180.8,2566.9Z" fill="#f0ff00"/><path d="M2157.0,2562.4L2180.4,2548.9L2180.4,2575.9Z" fill="#f0ff00"/><path d="M2156.6,2571.4L2180.0,2557.9L2180.0,2584.9Z" fill="#f0ff00"/><path d="M2156.3,2580.4L2179.6,2566.9L2179.6,2593.9Z" fill="#f0ff00"/><path d="M2155.9,2589.4L2179.2,2575.9L2179.2,2602.9Z" fill="#f0ff00"/><path d="M2167.5,2626.0L2190.9,2612.5L2190.9,2639.5Z" fill="#f0ff00"/><path d="M2176.7,2625.5L2200.1,2612.0L2200.1,2639.0Z" fill="#f3f900"/><path d="M2185.9,2624.9L2209.3,2611.4L2209.3,2638.4Z" fill="#f6f400"/><path d="M2195.1,2624.3L2218.5,2610.8L2218.5,2637.8Z" fill="#f8ee00"/><path d="M2204.3,2623.7L2227.7,2610.2L2227.7,2637.2Z" fill="#fbe800"/><path d="M2213.5,2623.2L2236.9,2609.7L2236.9,2636.7Z" fill="#fee200"/><path d="M2222.7,2622.6L2246.1,2609.1L2246.1,2636.1Z" fill="#ffd700"/><path d="M2231.9,2622.0L2255.2,2608.5L2255.2,2635.5Z" fill="#ffc900"/><path d="M2241.1,2621.5L2264.4,2608.0L2264.4,2635.0Z" fill="#ffba00"/><path d="M2250.2,2620.9L2273.6,2607.4L2273.6,2634.4Z" fill="#ffab00"/><path d="M2259.4,2620.3L2282.8,2606.8L2282.8,2633.8Z" fill="#ff9c00"/><path d="M2268.6,2619.8L2292.0,2606.3L2292.0,2633.3Z" fill="#ff9000"/><path d="M2277.8,2619.2L2301.2,2605.7L2301.2,2632.7Z" fill="#ff9300"/><path d="M2287.0,2618.6L2310.4,2605.1L2310.4,2632.1Z" fill="#ff9600"/><path d="M2296.2,2618.1L2319.6,2604.6L2319.6,2631.6Z" fill="#ff9900"/><path d="M2305.4,2617.5L2328.8,2604.0L2328.8,2631.0Z" fill="#ff9c00"/><path d="M2314.6,2616.9L2338.0,2603.4L2338.0,2630.4Z" fill="#ff9f00"/><path d="M2323.8,2616.4L2347.2,2602.9L2347.2,2629.9Z" fill="#e5b31a"/><path d="M2333.0,2615.8L2356.4,2602.3L2356.4,2629.3Z" fill="#c2cd3d"/><path d="M2342.2,2615.2L2365.6,2601.7L2365.6,2628.7Z" fill="#9fe860"/><path d="M2351.4,2614.6L2374.8,2601.1L2374.8,2628.1Z" fill="#81ff7f"/><path d="M2360.6,2614.1L2384.0,2600.6L2384.0,2627.6Z" fill="#8dff73"/><path d="M2369.8,2613.5L2393.1,2600.0L2393.1,2627.0Z" fill="#99ff67"/><path d="M2379.0,2612.9L2402.3,2599.4L2402.3,2626.4Z" fill="#a5ff5b"/><path d="M2388.2,2612.4L2411.5,2598.9L2411.5,2625.9Z" fill="#b0ff50"/><path d="M2397.3,2611.8L2420.7,2598.3L2420.7,2625.3Z" fill="#bcff44"/><path d="M2406.5,2611.2L2429.9,2597.7L2429.9,2624.7Z" fill="#ccf334"/><path d="M2415.7,2610.7L2439.1,2597.2L2439.1,2624.2Z" fill="#dde222"/><path d="M2424.9,2610.1L2448.3,2596.6L2448.3,2623.6Z" fill="#efd011"/><path d="M2434.1,2609.5L2457.5,2596.0L2457.5,2623.0Z" fill="#fbc104"/><path d="M2443.3,2609.0L2466.7,2595.5L2466.7,2622.5Z" fill="#bdd342"/><path d="M2452.5,2608.4L2475.9,2594.9L2475.9,2621.9Z" fill="#80e480"/><path d="M2461.7,2607.8L2485.1,2594.3L2485.1,2621.3Z" fill="#42f5be"/><path d="M2470.9,2607.2L2494.3,2593.7L2494.3,2620.7Z" fill="#1dffe3"/><path d="M2480.1,2606.7L2503.5,2593.2L2503.5,2620.2Z" fill="#18ffe8"/><path d="M2489.3,2606.1L2512.7,2592.6L2512.7,2619.6Z" fill="#12ffee"/><path d="M2498.5,2605.5L2521.9,2592.0L2521.9,2619.0Z" fill="#0cfff4"/><path d="M2507.7,2605.0L2531.0,2591.5L2531.0,2618.5Z" fill="#06fff9"/><path d="M2516.9,2604.4L2540.2,2590.9L2540.2,2617.9Z" fill="#00ffff"/><rect x="2214.2" y="2738.2" width="23.5" height="23.5" fill="#c0ff40"/><rect x="2223.1" y="2739.9" width="23.5" height="23.5" fill="#b0ff50"/><rect x="2232.0" y="2741.5" width="23.5" height="23.5" fill="#a0ff60"/><rect x="2240.9" y="2743.2" width="23.5" height="23.5" fill="#8fff71"/><rect x="2249.8" y="2744.8" width="23.5" height="23.5" fill="#7fff81"/><rect x="2258.7" y="2746.5" width="23.5" height="23.5" fill="#6fff91"/><rect x="2267.5" y="2748.1" width="23.5" height="23.5" fill="#5fffa1"/><rect x="2276.4" y="2749.8" width="23.5" height="23.5" fill="#4effb2"/><rect x="2285.3" y="2751.5" width="23.5" height="23.5" fill="#40ffc0"/><rect x="2294.0" y="2753.9" width="23.5" height="23.5" fill="#40ffc0"/><rect x="2302.7" y="2756.3" width="23.5" height="23.5" fill="#40ffc0"/><rect x="2311.4" y="2758.7" width="23.5" height="23.5" fill="#40ffc0"/><rect x="2320.1" y="2761.1" width="23.5" height="23.5" fill="#40ffc0"/><rect x="2328.8" y="2763.5" width="23.5" height="23.5" fill="#48ffb8"/><rect x="2337.6" y="2765.9" width="23.5" height="23.5" fill="#77ff89"/><rect x="2346.3" y="2768.3" width="23.5" height="23.5" fill="#a7ff59"/><rect x="2355.0" y="2770.7" width="23.5" height="23.5" fill="#b9ff47"/><rect x="2363.7" y="2773.1" width="23.5" height="23.5" fill="#abff55"/><rect x="2372.4" y="2775.5" width="23.5" height="23.5" fill="#9dff63"/><rect x="2381.1" y="2777.9" width="23.5" height="23.5" fill="#8fff71"/><rect x="2389.8" y="2780.2" width="23.5" height="23.5" fill="#81ff7f"/><rect x="2398.5" y="2782.6" width="23.5" height="23.5" fill="#80ff80"/><rect x="2407.2" y="2785.0" width="23.5" height="23.5" fill="#80ff80"/><rect x="2416.0" y="2787.4" width="23.5" height="23.5" fill="#80ff80"/><rect x="2424.7" y="2789.8" width="23.5" height="23.5" fill="#80ff80"/><rect x="2433.4" y="2792.2" width="23.5" height="23.5" fill="#80ff80"/><rect x="2442.1" y="2794.6" width="23.5" height="23.5" fill="#89ff77"/><rect x="2450.8" y="2797.0" width="23.5" height="23.5" fill="#9aff66"/><rect x="2459.5" y="2799.4" width="23.5" height="23.5" fill="#abff55"/><rect x="2468.2" y="2801.8" width="23.5" height="23.5" fill="#bcff44"/><rect x="2476.9" y="2804.2" width="23.5" height="23.5" fill="#a6ff5a"/><rect x="2485.6" y="2806.6" width="23.5" height="23.5" fill="#85ff7b"/><rect x="2494.4" y="2809.0" width="23.5" height="23.5" fill="#64ff9c"/><rect x="2503.1" y="2811.3" width="23.5" height="23.5" fill="#43ffbd"/><rect x="2511.8" y="2813.7" width="23.5" height="23.5" fill="#5ef0a2"/><rect x="2520.5" y="2816.1" width="23.5" height="23.5" fill="#80df80"/><rect x="2529.2" y="2818.5" width="23.5" height="23.5" fill="#a1cf5e"/><rect x="2537.9" y="2820.9" width="23.5" height="23.5" fill="#c2be3d"/><rect x="2546.6" y="2823.3" width="23.5" height="23.5" fill="#e4ad1b"/><rect x="2555.3" y="2825.7" width="23.5" height="23.5" fill="#f3a50c"/><rect x="2564.1" y="2828.1" width="23.5" height="23.5" fill="#b1bd4e"/><rect x="2572.8" y="2830.5" width="23.5" height="23.5" fill="#6fd690"/><rect x="2581.5" y="2832.9" width="23.5" height="23.5" fill="#2deed2"/><rect x="2590.2" y="2835.3" width="23.5" height="23.5" fill="#00ffff"/><rect x="2598.9" y="2837.7" width="23.5" height="23.5" fill="#00ffff"/><rect x="2607.6" y="2840.1" width="23.5" height="23.5" fill="#00ffff"/><rect x="2616.3" y="2842.5" width="23.5" height="23.5" fill="#00ffff"/><rect x="2625.0" y="2844.8" width="23.5" height="23.5" fill="#00f7ff"/><rect x="2633.7" y="2847.2" width="23.5" height="23.5" fill="#00e8ff"/><rect x="2642.5" y="2849.6" width="23.5" height="23.5" fill="#00d9ff"/><rect x="2651.2" y="2852.0" width="23.5" height="23.5" fill="#00caff"/><rect x="2659.9" y="2854.4" width="23.5" height="23.5" fill="#03c3fc"/><rect x="2668.6" y="2856.8" width="23.5" height="23.5" fill="#0ecdf2"/><rect x="2677.3" y="2859.2" width="23.5" height="23.5" fill="#18d8e7"/><rect x="2686.0" y="2861.6" width="23.5" height="23.5" fill="#23e2dd"/><rect x="2694.7" y="2864.0" width="23.5" height="23.5" fill="#2dedd2"/><rect x="2703.4" y="2866.4" width="23.5" height="23.5" fill="#38f7c8"/><rect x="2712.2" y="2868.6" width="23.5" height="23.5" fill="#42ffbe"/><rect x="2721.1" y="2870.2" width="23.5" height="23.5" fill="#49ffb7"/><rect x="2730.0" y="2871.7" width="23.5" height="23.5" fill="#50ffb0"/><rect x="2738.9" y="2873.3" width="23.5" height="23.5" fill="#57ffa9"/><rect x="2747.8" y="2874.8" width="23.5" height="23.5" fill="#5fffa1"/><rect x="2756.7" y="2876.4" width="23.5" height="23.5" fill="#66ff9a"/><rect x="2765.6" y="2878.0" width="23.5" height="23.5" fill="#6dff93"/><rect x="2774.5" y="2879.5" width="23.5" height="23.5" fill="#75ff8b"/><rect x="2783.4" y="2881.1" width="23.5" height="23.5" fill="#7cff84"/><rect x="2792.3" y="2882.6" width="23.5" height="23.5" fill="#85ff7b"/><rect x="2801.2" y="2884.2" width="23.5" height="23.5" fill="#90ff70"/><rect x="2810.1" y="2885.8" width="23.5" height="23.5" fill="#9cff64"/><rect x="2819.0" y="2887.3" width="23.5" height="23.5" fill="#a8ff58"/><rect x="2827.9" y="2888.9" width="23.5" height="23.5" fill="#b3ff4d"/><rect x="2836.8" y="2890.4" width="23.5" height="23.5" fill="#bfff41"/><rect x="2845.7" y="2892.0" width="23.5" height="23.5" fill="#bdff43"/><rect x="2854.6" y="2893.6" width="23.5" height="23.5" fill="#baff46"/><rect x="2863.5" y="2895.1" width="23.5" height="23.5" fill="#b7ff49"/><rect x="2872.4" y="2896.7" width="23.5" height="23.5" fill="#b3ff4d"/><rect x="2881.2" y="2898.2" width="23.5" height="23.5" fill="#b0ff50"/><path d="M2417.2,2826.5L2440.6,2813.0L2440.6,2840.0Z" fill="#80ff80"/><path d="M2426.4,2825.5L2449.8,2812.0L2449.8,2839.0Z" fill="#97f968"/><path d="M2435.5,2824.5L2458.9,2811.0L2458.9,2838.0Z" fill="#aff451"/><path d="M2444.7,2823.5L2468.1,2810.0L2468.1,2837.0Z" fill="#c6ee39"/><path d="M2453.8,2822.5L2477.2,2809.0L2477.2,2836.0Z" fill="#dee822"/><path d="M2463.0,2821.5L2486.4,2808.0L2486.4,2835.0Z" fill="#f5e20a"/><path d="M2472.1,2820.5L2495.5,2807.0L2495.5,2834.0Z" fill="#fae306"/><path d="M2481.3,2819.5L2504.7,2806.0L2504.7,2833.0Z" fill="#f0e70f"/><path d="M2490.4,2818.5L2513.8,2805.0L2513.8,2832.0Z" fill="#e7ec19"/><path d="M2499.6,2817.5L2523.0,2804.0L2523.0,2831.0Z" fill="#ddf122"/><path d="M2508.7,2816.5L2532.1,2803.0L2532.1,2830.0Z" fill="#d4f52c"/><path d="M2517.9,2815.5L2541.3,2802.0L2541.3,2829.0Z" fill="#cafa36"/><path d="M2527.0,2814.5L2550.4,2801.0L2550.4,2828.0Z" fill="#c1ff3f"/><path d="M2536.2,2813.5L2559.6,2800.0L2559.6,2827.0Z" fill="#d0f32f"/><path d="M2545.3,2812.6L2568.7,2799.1L2568.7,2826.1Z" fill="#e2e61e"/><path d="M2554.5,2811.6L2577.9,2798.1L2577.9,2825.1Z" fill="#f3d90c"/><path d="M2563.6,2810.6L2587.0,2797.1L2587.0,2824.1Z" fill="#fad305"/><path d="M2572.8,2809.6L2596.2,2796.1L2596.2,2823.1Z" fill="#ecde13"/><path d="M2581.9,2808.6L2605.3,2795.1L2605.3,2822.1Z" fill="#dde922"/><path d="M2591.1,2807.6L2614.5,2794.1L2614.5,2821.1Z" fill="#cff431"/><path d="M2600.2,2806.6L2623.6,2793.1L2623.6,2820.1Z" fill="#c0ff40"/><path d="M2330.7,2879.8L2354.1,2866.3L2354.1,2893.3Z" fill="#80ff80"/><path d="M2339.2,2883.2L2362.6,2869.7L2362.6,2896.7Z" fill="#7dff83"/><path d="M2347.6,2886.6L2371.0,2873.1L2371.0,2900.1Z" fill="#77ff89"/><path d="M2356.1,2890.0L2379.5,2876.5L2379.5,2903.5Z" fill="#72ff8e"/><path d="M2364.6,2893.4L2388.0,2879.9L2388.0,2906.9Z" fill="#6cff94"/><path d="M2373.0,2896.8L2396.4,2883.3L2396.4,2910.3Z" fill="#66ff9a"/><path d="M2381.5,2900.3L2404.9,2886.8L2404.9,2913.8Z" fill="#61ff9f"/><path d="M2390.0,2903.7L2413.3,2890.2L2413.3,2917.2Z" fill="#56fdaa"/><path d="M2398.4,2907.1L2421.8,2893.6L2421.8,2920.6Z" fill="#4bfab5"/><path d="M2406.9,2910.5L2430.3,2897.0L2430.3,2924.0Z" fill="#40f8c0"/><path d="M2415.3,2913.9L2438.7,2900.4L2438.7,2927.4Z" fill="#36f5ca"/><path d="M2423.8,2917.4L2447.2,2903.9L2447.2,2930.9Z" fill="#2bf2d5"/><path d="M2432.3,2920.8L2455.6,2907.3L2455.6,2934.3Z" fill="#21f0df"/><path d="M2440.7,2924.2L2464.1,2910.7L2464.1,2937.7Z" fill="#3cf3c4"/><path d="M2449.2,2927.6L2472.6,2914.1L2472.6,2941.1Z" fill="#57f5a9"/><path d="M2457.7,2931.0L2481.0,2917.5L2481.0,2944.5Z" fill="#72f88e"/><path d="M2466.1,2934.4L2489.5,2920.9L2489.5,2947.9Z" fill="#8dfa73"/><path d="M2474.6,2937.9L2498.0,2924.4L2498.0,2951.4Z" fill="#a8fd58"/><path d="M2483.0,2941.3L2506.4,2927.8L2506.4,2954.8Z" fill="#bdff43"/><path d="M2491.5,2944.7L2514.9,2931.2L2514.9,2958.2Z" fill="#a8ff58"/><path d="M2500.0,2948.1L2523.3,2934.6L2523.3,2961.6Z" fill="#93ff6d"/><path d="M2508.4,2951.5L2531.8,2938.0L2531.8,2965.0Z" fill="#7eff82"/><path d="M2516.9,2955.0L2540.3,2941.5L2540.3,2968.5Z" fill="#68ff98"/><path d="M2525.3,2958.4L2548.7,2944.9L2548.7,2971.9Z" fill="#53ffad"/><path d="M2533.8,2961.8L2557.2,2948.3L2557.2,2975.3Z" fill="#40ffc0"/><path d="M2542.3,2965.2L2565.7,2951.7L2565.7,2978.7Z" fill="#3bffc5"/><path d="M2550.7,2968.6L2574.1,2955.1L2574.1,2982.1Z" fill="#37ffc9"/><path d="M2559.2,2972.0L2582.6,2958.5L2582.6,2985.5Z" fill="#32ffce"/><path d="M2567.7,2975.5L2591.0,2962.0L2591.0,2989.0Z" fill="#2effd2"/><path d="M2576.1,2978.9L2599.5,2965.4L2599.5,2992.4Z" fill="#29ffd7"/><path d="M2584.6,2982.3L2608.0,2968.8L2608.0,2995.8Z" fill="#25ffdb"/><path d="M2593.0,2985.7L2616.4,2972.2L2616.4,2999.2Z" fill="#20ffe0"/><path d="M2601.5,2989.1L2624.9,2975.6L2624.9,3002.6Z" fill="#31e3ea"/><path d="M2610.0,2992.6L2633.3,2979.1L2633.3,3006.1Z" fill="#53eac2"/><path d="M2618.4,2996.0L2641.8,2982.5L2641.8,3009.5Z" fill="#75f09a"/><path d="M2626.9,2999.4L2650.3,2985.9L2650.3,3012.9Z" fill="#97f771"/><path d="M2635.4,3002.8L2658.7,2989.3L2658.7,3016.3Z" fill="#b8fe49"/><path d="M2643.8,3006.2L2667.2,2992.7L2667.2,3019.7Z" fill="#77ff89"/><path d="M2652.3,3009.6L2675.7,2996.1L2675.7,3023.1Z" fill="#5fffa1"/><path d="M2660.7,3013.1L2684.1,2999.6L2684.1,3026.6Z" fill="#47ffb8"/><path d="M2669.2,3016.5L2692.6,3003.0L2692.6,3030.0Z" fill="#2fffd0"/><path d="M2677.7,3019.9L2701.0,3006.4L2701.0,3033.4Z" fill="#17ffe8"/><path d="M2686.1,3023.4L2709.4,3009.9L2709.4,3036.9Z" fill="#00ffff"/><path d="M2694.1,3027.7L2717.5,3014.2L2717.5,3041.2Z" fill="#00fcff"/><path d="M2702.2,3032.0L2725.6,3018.5L2725.6,3045.5Z" fill="#00f9ff"/><path d="M2710.2,3036.3L2733.6,3022.8L2733.6,3049.8Z" fill="#00f7ff"/><path d="M2718.3,3040.6L2741.7,3027.1L2741.7,3054.1Z" fill="#00f4ff"/><path d="M2726.3,3044.9L2749.7,3031.4L2749.7,3058.4Z" fill="#00f1ff"/><path d="M2734.4,3049.2L2757.8,3035.7L2757.8,3062.7Z" fill="#1df2e2"/><path d="M2742.4,3053.5L2765.8,3040.0L2765.8,3067.0Z" fill="#53f7ac"/><path d="M2750.5,3057.8L2773.9,3044.3L2773.9,3071.3Z" fill="#8afc76"/><path d="M2758.5,3062.1L2781.9,3048.6L2781.9,3075.6Z" fill="#acff54"/><path d="M2766.5,3066.6L2789.9,3053.1L2789.9,3080.1Z" fill="#9eff62"/><path d="M2774.5,3071.0L2797.9,3057.5L2797.9,3084.5Z" fill="#90ff70"/><path d="M2782.5,3075.4L2805.8,3061.9L2805.8,3088.9Z" fill="#82ff7e"/><path d="M2790.4,3079.8L2813.8,3066.3L2813.8,3093.3Z" fill="#74ff8c"/><path d="M2798.4,3084.2L2821.8,3070.7L2821.8,3097.7Z" fill="#66ff9a"/><path d="M2806.4,3088.7L2829.8,3075.2L2829.8,3102.2Z" fill="#5dffa3"/><path d="M2814.4,3093.1L2837.8,3079.6L2837.8,3106.6Z" fill="#57ffa9"/><path d="M2822.4,3097.5L2845.8,3084.0L2845.8,3111.0Z" fill="#52ffae"/><path d="M2830.4,3101.9L2853.7,3088.4L2853.7,3115.4Z" fill="#4cffb4"/><path d="M2838.4,3106.3L2861.7,3092.8L2861.7,3119.8Z" fill="#47ffb9"/><path d="M2846.3,3110.8L2869.7,3097.3L2869.7,3124.3Z" fill="#41ffbf"/><path d="M2854.3,3115.2L2877.7,3101.7L2877.7,3128.7Z" fill="#40ffc0"/><path d="M2862.3,3119.6L2885.7,3106.1L2885.7,3133.1Z" fill="#40ffc0"/><path d="M2870.3,3124.0L2893.7,3110.5L2893.7,3137.5Z" fill="#40ffc0"/><path d="M2878.3,3128.4L2901.7,3114.9L2901.7,3141.9Z" fill="#40ffc0"/><path d="M2886.3,3132.9L2909.6,3119.4L2909.6,3146.4Z" fill="#40ffc0"/><path d="M2525.4,2662.6L2537.1,2658.7L2537.2,2646.5L2544.5,2656.3L2556.2,2652.6L2549.1,2662.6L2556.2,2672.6L2544.5,2668.9L2537.2,2678.8L2537.1,2666.5Z" fill="#c0ff40"/><path d="M2520.8,2669.2L2532.5,2665.3L2532.6,2653.1L2539.9,2662.9L2551.6,2659.2L2544.5,2669.2L2551.6,2679.2L2539.9,2675.5L2532.6,2685.4L2532.5,2673.1Z" fill="#c0ff40"/><path d="M2516.2,2675.8L2527.9,2671.9L2528.0,2659.7L2535.3,2669.5L2547.0,2665.8L2539.9,2675.8L2547.0,2685.8L2535.3,2682.1L2528.0,2692.0L2527.9,2679.7Z" fill="#c0ff40"/><path d="M2511.6,2682.4L2523.3,2678.5L2523.4,2666.3L2530.7,2676.1L2542.4,2672.4L2535.3,2682.4L2542.4,2692.4L2530.7,2688.7L2523.4,2698.6L2523.3,2686.3Z" fill="#c0ff40"/><path d="M2507.0,2689.0L2518.7,2685.1L2518.8,2672.9L2526.1,2682.7L2537.8,2679.0L2530.7,2689.0L2537.8,2699.0L2526.1,2695.3L2518.8,2705.2L2518.7,2692.9Z" fill="#c0ff40"/><path d="M2502.4,2695.6L2514.1,2691.7L2514.2,2679.5L2521.5,2689.3L2533.2,2685.6L2526.1,2695.6L2533.2,2705.6L2521.5,2701.9L2514.2,2711.8L2514.1,2699.5Z" fill="#c0ff40"/><path d="M2497.9,2702.2L2509.5,2698.3L2509.6,2686.1L2516.9,2695.9L2528.6,2692.2L2521.5,2702.2L2528.6,2712.2L2516.9,2708.5L2509.6,2718.4L2509.5,2706.1Z" fill="#c0ff40"/><path d="M2493.3,2708.8L2504.9,2704.9L2505.0,2692.7L2512.3,2702.5L2524.0,2698.8L2516.9,2708.8L2524.0,2718.8L2512.3,2715.1L2505.0,2725.0L2504.9,2712.7Z" fill="#c0ff40"/><path d="M2488.7,2715.4L2500.3,2711.5L2500.4,2699.3L2507.7,2709.1L2519.4,2705.4L2512.3,2715.4L2519.4,2725.4L2507.7,2721.7L2500.4,2731.6L2500.3,2719.3Z" fill="#c0ff40"/><path d="M2484.1,2722.0L2495.7,2718.1L2495.8,2705.9L2503.1,2715.7L2514.8,2712.0L2507.7,2722.0L2514.8,2732.0L2503.1,2728.3L2495.8,2738.2L2495.7,2725.9Z" fill="#c2ff3e"/><path d="M2479.5,2728.6L2491.1,2724.7L2491.2,2712.5L2498.5,2722.3L2510.2,2718.6L2503.1,2728.6L2510.2,2738.6L2498.5,2734.9L2491.2,2744.8L2491.1,2732.5Z" fill="#c4ff3c"/><path d="M2474.9,2735.2L2486.5,2731.3L2486.6,2719.1L2493.9,2728.9L2505.6,2725.2L2498.5,2735.2L2505.6,2745.2L2493.9,2741.5L2486.6,2751.4L2486.5,2739.1Z" fill="#c6ff3a"/><path d="M2470.3,2741.8L2481.9,2737.9L2482.0,2725.7L2489.3,2735.5L2501.0,2731.9L2493.9,2741.8L2501.0,2751.8L2489.3,2748.1L2482.0,2758.0L2481.9,2745.7Z" fill="#c8ff38"/><path d="M2465.7,2748.4L2477.3,2744.5L2477.4,2732.3L2484.7,2742.1L2496.4,2738.5L2489.3,2748.4L2496.4,2758.4L2484.7,2754.8L2477.4,2764.6L2477.3,2752.3Z" fill="#caff36"/><path d="M2461.1,2755.0L2472.7,2751.1L2472.8,2738.9L2480.1,2748.7L2491.8,2745.1L2484.7,2755.0L2491.8,2765.0L2480.1,2761.4L2472.8,2771.2L2472.7,2758.9Z" fill="#cdff33"/><path d="M2456.5,2761.6L2468.1,2757.8L2468.2,2745.5L2475.5,2755.3L2487.3,2751.7L2480.1,2761.6L2487.3,2771.6L2475.5,2768.0L2468.2,2777.8L2468.1,2765.5Z" fill="#cfff31"/><path d="M2451.9,2768.2L2463.5,2764.4L2463.6,2752.1L2471.0,2761.9L2482.7,2758.3L2475.5,2768.2L2482.7,2778.2L2471.0,2774.6L2463.6,2784.4L2463.5,2772.1Z" fill="#c7ff39"/><path d="M2447.3,2774.9L2458.9,2771.0L2459.1,2758.7L2466.4,2768.5L2478.1,2764.9L2470.9,2774.9L2478.1,2784.8L2466.4,2781.2L2459.1,2791.0L2458.9,2778.7Z" fill="#b1ff4f"/><path d="M2442.7,2781.5L2454.3,2777.6L2454.5,2765.3L2461.8,2775.1L2473.5,2771.5L2466.3,2781.5L2473.5,2791.4L2461.8,2787.8L2454.5,2797.6L2454.3,2785.3Z" fill="#a1ff5f"/><path d="M2438.1,2788.1L2449.8,2784.2L2449.9,2771.9L2457.2,2781.7L2468.9,2778.1L2461.7,2788.1L2468.9,2798.0L2457.2,2794.4L2449.9,2804.2L2449.8,2792.0Z" fill="#a5ff5b"/><path d="M2433.5,2794.7L2445.2,2790.8L2445.3,2778.5L2452.6,2788.3L2464.3,2784.7L2457.2,2794.7L2464.3,2804.6L2452.6,2801.0L2445.3,2810.8L2445.2,2798.6Z" fill="#a9ff57"/><path d="M2428.9,2801.3L2440.6,2797.4L2440.7,2785.1L2448.0,2795.0L2459.7,2791.3L2452.6,2801.3L2459.7,2811.2L2448.0,2807.6L2440.7,2817.4L2440.6,2805.2Z" fill="#adff53"/><path d="M2424.3,2807.9L2436.0,2804.0L2436.1,2791.7L2443.4,2801.6L2455.1,2797.9L2448.0,2807.9L2455.1,2817.9L2443.4,2814.2L2436.1,2824.0L2436.0,2811.8Z" fill="#b2ff4e"/><path d="M2419.7,2814.5L2431.4,2810.6L2431.5,2798.3L2438.8,2808.2L2450.5,2804.5L2443.4,2814.5L2450.5,2824.5L2438.8,2820.8L2431.5,2830.6L2431.4,2818.4Z" fill="#b6ff4a"/><path d="M2415.1,2821.1L2426.8,2817.2L2426.9,2804.9L2434.2,2814.8L2445.9,2811.1L2438.8,2821.1L2445.9,2831.1L2434.2,2827.4L2426.9,2837.2L2426.8,2825.0Z" fill="#baff46"/><path d="M2410.5,2827.7L2422.2,2823.8L2422.3,2811.5L2429.6,2821.4L2441.3,2817.7L2434.2,2827.7L2441.3,2837.7L2429.6,2834.0L2422.3,2843.8L2422.2,2831.6Z" fill="#beff42"/><path d="M2406.0,2834.3L2417.6,2830.4L2417.7,2818.1L2425.0,2828.0L2436.7,2824.3L2429.6,2834.3L2436.7,2844.3L2425.0,2840.6L2417.7,2850.4L2417.6,2838.2Z" fill="#c6ff3a"/><path d="M2401.4,2840.9L2413.0,2837.0L2413.1,2824.7L2420.4,2834.6L2432.1,2830.9L2425.0,2840.9L2432.1,2850.9L2420.4,2847.2L2413.1,2857.0L2413.0,2844.8Z" fill="#d3ff2d"/><path d="M2396.8,2847.5L2408.4,2843.6L2408.5,2831.3L2415.8,2841.2L2427.5,2837.5L2420.4,2847.5L2427.5,2857.5L2415.8,2853.8L2408.5,2863.6L2408.4,2851.4Z" fill="#e0ff1f"/><path d="M2392.2,2854.1L2403.8,2850.2L2403.9,2837.9L2411.2,2847.8L2422.9,2844.1L2415.8,2854.1L2422.9,2864.1L2411.2,2860.4L2403.9,2870.2L2403.8,2858.0Z" fill="#edff12"/><path d="M2387.6,2860.7L2399.2,2856.8L2399.3,2844.5L2406.6,2854.4L2418.3,2850.7L2411.2,2860.7L2418.3,2870.7L2406.6,2867.0L2399.3,2876.8L2399.2,2864.6Z" fill="#faff05"/><path d="M2382.7,2867.1L2394.3,2863.2L2394.4,2850.9L2401.7,2860.8L2413.4,2857.1L2406.3,2867.1L2413.4,2877.1L2401.7,2873.4L2394.4,2883.2L2394.3,2871.0Z" fill="#f5ff0a"/><path d="M2377.6,2873.3L2389.3,2869.4L2389.4,2857.2L2396.7,2867.0L2408.4,2863.3L2401.3,2873.3L2408.4,2883.3L2396.7,2879.6L2389.4,2889.5L2389.3,2877.2Z" fill="#e4ff1b"/><path d="M2372.6,2879.6L2384.2,2875.7L2384.3,2863.4L2391.7,2873.3L2403.4,2869.6L2396.2,2879.6L2403.4,2889.6L2391.7,2885.9L2384.3,2895.8L2384.2,2883.5Z" fill="#d4ff2b"/><path d="M2367.6,2885.9L2379.2,2882.0L2379.3,2869.7L2386.6,2879.5L2398.3,2875.9L2391.2,2885.9L2398.3,2895.8L2386.6,2892.2L2379.3,2902.0L2379.2,2889.7Z" fill="#c4ff3c"/><path d="M2362.5,2892.1L2374.1,2888.2L2374.3,2875.9L2381.6,2885.8L2393.3,2882.1L2386.1,2892.1L2393.3,2902.1L2381.6,2898.4L2374.3,2908.3L2374.1,2896.0Z" fill="#b3ff4c"/><path d="M2357.5,2898.4L2369.1,2894.5L2369.2,2882.2L2376.5,2892.1L2388.2,2888.4L2381.1,2898.4L2388.2,2908.4L2376.5,2904.7L2369.2,2914.5L2369.1,2902.3Z" fill="#a3ff5d"/><path d="M2352.4,2904.6L2364.1,2900.7L2364.2,2888.5L2371.5,2898.3L2383.2,2894.6L2376.0,2904.6L2383.2,2914.6L2371.5,2910.9L2364.2,2920.8L2364.1,2908.5Z" fill="#93ff6d"/><path d="M2347.4,2910.9L2359.0,2907.0L2359.1,2894.7L2366.4,2904.6L2378.1,2900.9L2371.0,2910.9L2378.1,2920.9L2366.4,2917.2L2359.1,2927.1L2359.0,2914.8Z" fill="#a0ff5d"/><path d="M2342.3,2917.2L2354.0,2913.3L2354.1,2901.0L2361.4,2910.9L2373.1,2907.2L2366.0,2917.2L2373.1,2927.2L2361.4,2923.5L2354.1,2933.3L2354.0,2921.1Z" fill="#b3ff47"/><path d="M2337.3,2923.4L2348.9,2919.5L2349.0,2907.3L2356.3,2917.1L2368.0,2913.4L2360.9,2923.4L2368.0,2933.4L2356.3,2929.7L2349.0,2939.6L2348.9,2927.3Z" fill="#c6ff31"/><path d="M2332.2,2929.7L2343.9,2925.8L2344.0,2913.5L2351.3,2923.4L2363.0,2919.7L2355.9,2929.7L2363.0,2939.7L2351.3,2936.0L2344.0,2945.9L2343.9,2933.6Z" fill="#d9ff1b"/><path d="M2327.2,2936.0L2338.8,2932.1L2338.9,2919.8L2346.2,2929.7L2357.9,2926.0L2350.8,2936.0L2357.9,2946.0L2346.2,2942.3L2338.9,2952.1L2338.8,2939.9Z" fill="#ecff04"/><path d="M2322.1,2942.2L2333.8,2938.3L2333.9,2926.1L2341.2,2935.9L2352.9,2932.2L2345.8,2942.2L2352.9,2952.2L2341.2,2948.5L2333.9,2958.4L2333.8,2946.1Z" fill="#e4ff0e"/><path d="M2317.1,2948.5L2328.7,2944.6L2328.8,2932.3L2336.1,2942.2L2347.9,2938.5L2340.7,2948.5L2347.9,2958.5L2336.1,2954.8L2328.8,2964.7L2328.7,2952.4Z" fill="#d4ff20"/><path d="M2312.1,2954.8L2323.7,2950.9L2323.8,2938.6L2331.1,2948.4L2342.8,2944.8L2335.7,2954.8L2342.8,2964.7L2331.1,2961.1L2323.8,2970.9L2323.7,2958.6Z" fill="#c5ff31"/><path d="M2307.0,2961.0L2318.6,2957.1L2318.8,2944.8L2326.1,2954.7L2337.8,2951.0L2330.6,2961.0L2337.8,2971.0L2326.1,2967.3L2318.8,2977.2L2318.6,2964.9Z" fill="#b6ff43"/><path d="M2302.0,2967.3L2313.6,2963.4L2313.7,2951.1L2321.0,2961.0L2332.7,2957.3L2325.6,2967.3L2332.7,2977.3L2321.0,2973.6L2313.7,2983.4L2313.6,2971.2Z" fill="#a6ff54"/><path d="M2296.9,2973.5L2308.6,2969.6L2308.7,2957.4L2316.0,2967.2L2327.7,2963.6L2320.5,2973.5L2327.7,2983.5L2316.0,2979.8L2308.7,2989.7L2308.6,2977.4Z" fill="#97ff66"/><path d="M2291.9,2979.8L2303.5,2975.9L2303.6,2963.6L2310.9,2973.5L2322.6,2969.8L2315.5,2979.8L2322.6,2989.8L2310.9,2986.1L2303.6,2996.0L2303.5,2983.7Z" fill="#88ff77"/><path d="M2286.8,2986.0L2298.4,2982.1L2298.5,2969.8L2305.8,2979.7L2317.5,2976.0L2310.4,2986.0L2317.5,2996.0L2305.8,2992.3L2298.5,3002.2L2298.4,2989.9Z" fill="#7aff86"/><path d="M2281.6,2992.2L2293.2,2988.3L2293.3,2976.0L2300.6,2985.9L2312.3,2982.2L2305.2,2992.2L2312.3,3002.2L2300.6,2998.5L2293.3,3008.3L2293.2,2996.1Z" fill="#6fff91"/><path d="M2276.4,2998.3L2288.0,2994.4L2288.2,2982.2L2295.5,2992.0L2307.2,2988.3L2300.0,2998.3L2307.2,3008.3L2295.5,3004.6L2288.2,3014.5L2288.0,3002.2Z" fill="#64ff9c"/><path d="M2271.2,3004.5L2282.9,3000.6L2283.0,2988.3L2290.3,2998.2L2302.0,2994.5L2294.9,3004.5L2302.0,3014.5L2290.3,3010.8L2283.0,3020.7L2282.9,3008.4Z" fill="#58ffa8"/><path d="M2266.1,3010.7L2277.7,3006.8L2277.8,2994.5L2285.1,3004.3L2296.8,3000.7L2289.7,3010.7L2296.8,3020.6L2285.1,3017.0L2277.8,3026.8L2277.7,3014.5Z" fill="#4dffb3"/><path d="M2260.9,3016.8L2272.5,3012.9L2272.6,3000.6L2279.9,3010.5L2291.6,3006.8L2284.5,3016.8L2291.6,3026.8L2279.9,3023.1L2272.6,3033.0L2272.5,3020.7Z" fill="#42ffbe"/><path d="M2255.7,3023.0L2267.4,3019.1L2267.5,3006.8L2274.8,3016.7L2286.5,3013.0L2279.3,3023.0L2286.5,3033.0L2274.8,3029.3L2267.5,3039.1L2267.4,3026.9Z" fill="#59ffa4"/><path d="M2250.5,3029.1L2262.2,3025.2L2262.3,3013.0L2269.6,3022.8L2281.3,3019.1L2274.2,3029.1L2281.3,3039.1L2269.6,3035.4L2262.3,3045.3L2262.2,3033.0Z" fill="#78ff83"/><path d="M2245.4,3035.3L2257.0,3031.4L2257.1,3019.1L2264.4,3029.0L2276.1,3025.3L2269.0,3035.3L2276.1,3045.3L2264.4,3041.6L2257.1,3051.5L2257.0,3039.2Z" fill="#96ff62"/><path d="M2240.2,3041.4L2251.8,3037.5L2251.9,3025.3L2259.2,3035.1L2271.0,3031.5L2263.8,3041.4L2271.0,3051.4L2259.2,3047.8L2251.9,3057.6L2251.8,3045.3Z" fill="#b4ff41"/><path d="M2235.0,3047.6L2246.7,3043.7L2246.8,3031.4L2254.1,3041.3L2265.8,3037.6L2258.7,3047.6L2265.8,3057.6L2254.1,3053.9L2246.8,3063.8L2246.7,3051.5Z" fill="#d2ff20"/><path d="M2229.9,3053.8L2241.5,3049.9L2241.6,3037.6L2248.9,3047.5L2260.6,3043.8L2253.5,3053.8L2260.6,3063.8L2248.9,3060.1L2241.6,3069.9L2241.5,3057.7Z" fill="#f0ff00"/><path d="M2224.7,3059.9L2236.3,3056.0L2236.4,3043.8L2243.7,3053.6L2255.4,3049.9L2248.3,3059.9L2255.4,3069.9L2243.7,3066.2L2236.4,3076.1L2236.3,3063.8Z" fill="#f0ff00"/><path d="M2219.5,3066.1L2231.1,3062.2L2231.3,3049.9L2238.6,3059.8L2250.3,3056.1L2243.1,3066.1L2250.3,3076.1L2238.6,3072.4L2231.3,3082.2L2231.1,3070.0Z" fill="#f0ff00"/><rect x="2251.4" y="2954.5" width="23.5" height="23.5" fill="#80ff80"/><rect x="2258.8" y="2959.7" width="23.5" height="23.5" fill="#80ff80"/><rect x="2266.2" y="2965.0" width="23.5" height="23.5" fill="#81ff7f"/><rect x="2273.6" y="2970.2" width="23.5" height="23.5" fill="#84ff7c"/><rect x="2281.0" y="2975.4" width="23.5" height="23.5" fill="#87ff79"/><rect x="2288.4" y="2980.7" width="23.5" height="23.5" fill="#8aff76"/><rect x="2295.8" y="2985.9" width="23.5" height="23.5" fill="#8dff73"/><rect x="2303.2" y="2991.1" width="23.5" height="23.5" fill="#91ff6f"/><rect x="2310.6" y="2996.3" width="23.5" height="23.5" fill="#94ff6c"/><rect x="2318.0" y="3001.6" width="23.5" height="23.5" fill="#97ff69"/><rect x="2325.4" y="3006.8" width="23.5" height="23.5" fill="#9aff66"/><rect x="2332.8" y="3012.0" width="23.5" height="23.5" fill="#9dff63"/><rect x="2340.3" y="3017.3" width="23.5" height="23.5" fill="#9fff61"/><rect x="2347.7" y="3022.5" width="23.5" height="23.5" fill="#9cff64"/><rect x="2355.1" y="3027.7" width="23.5" height="23.5" fill="#98ff68"/><rect x="2362.5" y="3032.9" width="23.5" height="23.5" fill="#94ff6c"/><rect x="2369.9" y="3038.2" width="23.5" height="23.5" fill="#90ff70"/><rect x="2377.3" y="3043.4" width="23.5" height="23.5" fill="#8dff73"/><rect x="2384.7" y="3048.6" width="23.5" height="23.5" fill="#89ff77"/><rect x="2392.1" y="3053.8" width="23.5" height="23.5" fill="#85ff7b"/><rect x="2399.5" y="3059.1" width="23.5" height="23.5" fill="#81ff7f"/><rect x="2406.9" y="3064.3" width="23.5" height="23.5" fill="#78ff88"/><rect x="2414.3" y="3069.5" width="23.5" height="23.5" fill="#6cff94"/><rect x="2421.7" y="3074.8" width="23.5" height="23.5" fill="#5fffa1"/><rect x="2428.7" y="3080.6" width="23.5" height="23.5" fill="#53ffad"/><rect x="2435.6" y="3086.4" width="23.5" height="23.5" fill="#46ffba"/><rect x="2442.6" y="3092.2" width="23.5" height="23.5" fill="#49ffb7"/><rect x="2449.6" y="3098.0" width="23.5" height="23.5" fill="#5affa6"/><rect x="2456.5" y="3103.8" width="23.5" height="23.5" fill="#6bff95"/><rect x="2463.5" y="3109.6" width="23.5" height="23.5" fill="#7cff84"/><rect x="2470.5" y="3115.4" width="23.5" height="23.5" fill="#8dff73"/><rect x="2477.5" y="3121.2" width="23.5" height="23.5" fill="#9eff62"/><rect x="2484.4" y="3127.0" width="23.5" height="23.5" fill="#afff51"/><rect x="2491.4" y="3132.7" width="23.5" height="23.5" fill="#c0ff40"/><rect x="2498.4" y="3138.5" width="23.5" height="23.5" fill="#b2ff4e"/><rect x="2505.4" y="3144.3" width="23.5" height="23.5" fill="#a3ff5d"/><rect x="2512.3" y="3150.1" width="23.5" height="23.5" fill="#94ff6c"/><rect x="2519.3" y="3155.9" width="23.5" height="23.5" fill="#86ff7a"/><rect x="2526.3" y="3161.7" width="23.5" height="23.5" fill="#77ff89"/><rect x="2533.3" y="3167.5" width="23.5" height="23.5" fill="#69ff97"/><rect x="2540.2" y="3173.3" width="23.5" height="23.5" fill="#5fffa1"/><rect x="2547.2" y="3179.1" width="23.5" height="23.5" fill="#5bffa5"/><rect x="2554.2" y="3184.9" width="23.5" height="23.5" fill="#58ffa8"/><rect x="2561.1" y="3190.7" width="23.5" height="23.5" fill="#54ffac"/><rect x="2568.1" y="3196.5" width="23.5" height="23.5" fill="#51ffaf"/><rect x="2575.1" y="3202.3" width="23.5" height="23.5" fill="#4dffb3"/><rect x="2582.1" y="3208.1" width="23.5" height="23.5" fill="#4affb6"/><rect x="2589.0" y="3213.9" width="23.5" height="23.5" fill="#46ffba"/><rect x="2596.0" y="3219.6" width="23.5" height="23.5" fill="#43ffbd"/><rect x="2603.0" y="3225.4" width="23.5" height="23.5" fill="#40ffc0"/><rect x="2610.0" y="3231.2" width="23.5" height="23.5" fill="#40ffc0"/><rect x="2616.9" y="3237.0" width="23.5" height="23.5" fill="#40ffc0"/><rect x="2623.9" y="3242.8" width="23.5" height="23.5" fill="#40ffc0"/><rect x="2630.9" y="3248.6" width="23.5" height="23.5" fill="#40ffc0"/><rect x="2637.8" y="3254.4" width="23.5" height="23.5" fill="#40ffc0"/><rect x="2644.8" y="3260.2" width="23.5" height="23.5" fill="#40ffc0"/><rect x="2651.8" y="3266.0" width="23.5" height="23.5" fill="#40ffc0"/><rect x="2658.8" y="3271.8" width="23.5" height="23.5" fill="#40ffc0"/><rect x="2665.7" y="3277.6" width="23.5" height="23.5" fill="#40ffc0"/><rect x="2672.7" y="3283.4" width="23.5" height="23.5" fill="#40ffc0"/><rect x="2679.7" y="3289.2" width="23.5" height="23.5" fill="#40ffc0"/><rect x="2686.7" y="3295.0" width="23.5" height="23.5" fill="#40ffc0"/><rect x="2693.6" y="3300.8" width="23.5" height="23.5" fill="#40ffc0"/><rect x="2700.6" y="3306.5" width="23.5" height="23.5" fill="#40ffc0"/><rect x="2707.6" y="3312.3" width="23.5" height="23.5" fill="#40ffc0"/><rect x="2714.6" y="3318.1" width="23.5" height="23.5" fill="#40ffc0"/><rect x="2721.5" y="3323.9" width="23.5" height="23.5" fill="#40ffc0"/><rect x="2728.5" y="3329.7" width="23.5" height="23.5" fill="#40ffc0"/><rect x="2735.5" y="3335.5" width="23.5" height="23.5" fill="#40ffc0"/><rect x="2742.4" y="3341.3" width="23.5" height="23.5" fill="#40ffc0"/><rect x="2749.4" y="3347.1" width="23.5" height="23.5" fill="#40ffc0"/><rect x="2756.4" y="3352.9" width="23.5" height="23.5" fill="#40ffc0"/><rect x="2763.4" y="3358.7" width="23.5" height="23.5" fill="#40ffc0"/><rect x="2770.3" y="3364.5" width="23.5" height="23.5" fill="#40ffc0"/><rect x="2777.3" y="3370.3" width="23.5" height="23.5" fill="#40ffc0"/><rect x="2784.3" y="3376.1" width="23.5" height="23.5" fill="#40ffc0"/><rect x="2791.3" y="3381.9" width="23.5" height="23.5" fill="#40ffc0"/><rect x="2798.2" y="3387.7" width="23.5" height="23.5" fill="#40ffc0"/><rect x="2805.2" y="3393.4" width="23.5" height="23.5" fill="#40ffc0"/><rect x="2812.2" y="3399.2" width="23.5" height="23.5" fill="#40ffc0"/><rect x="2819.1" y="3405.0" width="23.5" height="23.5" fill="#40ffc0"/><rect x="2826.1" y="3410.8" width="23.5" height="23.5" fill="#40ffc0"/><rect x="2833.1" y="3416.6" width="23.5" height="23.5" fill="#40ffc0"/><path d="M2399.2,3182.5L2410.8,3178.6L2410.9,3166.4L2418.2,3176.2L2429.9,3172.5L2422.8,3182.5L2429.9,3192.5L2418.2,3188.8L2410.9,3198.7L2410.8,3186.4Z" fill="#d0ff30"/><path d="M2406.3,3178.6L2417.9,3174.7L2418.0,3162.5L2425.3,3172.3L2437.0,3168.6L2429.9,3178.6L2437.0,3188.6L2425.3,3184.9L2418.0,3194.8L2417.9,3182.5Z" fill="#d0ff30"/><path d="M2413.4,3174.7L2425.0,3170.8L2425.1,3158.6L2432.4,3168.4L2444.1,3164.7L2437.0,3174.7L2444.1,3184.7L2432.4,3181.0L2425.1,3190.9L2425.0,3178.6Z" fill="#caff36"/><path d="M2420.5,3170.8L2432.1,3166.9L2432.2,3154.7L2439.5,3164.5L2451.2,3160.9L2444.1,3170.8L2451.2,3180.8L2439.5,3177.2L2432.2,3187.0L2432.1,3174.7Z" fill="#c4ff3c"/><path d="M2427.5,3167.0L2439.2,3163.1L2439.3,3150.8L2446.6,3160.6L2458.3,3157.0L2451.2,3167.0L2458.3,3176.9L2446.6,3173.3L2439.3,3183.1L2439.2,3170.8Z" fill="#bfff41"/><path d="M2434.6,3163.1L2446.3,3159.2L2446.4,3146.9L2453.7,3156.8L2465.4,3153.1L2458.3,3163.1L2465.4,3173.0L2453.7,3169.4L2446.4,3179.2L2446.3,3167.0Z" fill="#b9ff47"/><path d="M2441.7,3159.2L2453.4,3155.3L2453.5,3143.0L2460.8,3152.9L2472.5,3149.2L2465.4,3159.2L2472.5,3169.2L2460.8,3165.5L2453.5,3175.3L2453.4,3163.1Z" fill="#b4ff4c"/><path d="M2448.8,3155.3L2460.5,3151.4L2460.6,3139.1L2467.9,3149.0L2479.6,3145.3L2472.5,3155.3L2479.6,3165.3L2467.9,3161.6L2460.6,3171.4L2460.5,3159.2Z" fill="#aeff52"/><path d="M2455.9,3151.4L2467.5,3147.5L2467.7,3135.2L2475.0,3145.1L2486.7,3141.4L2479.5,3151.4L2486.7,3161.4L2475.0,3157.7L2467.7,3167.5L2467.5,3155.3Z" fill="#a9ff57"/><path d="M2463.0,3147.5L2474.6,3143.6L2474.8,3131.3L2482.1,3141.2L2493.8,3137.5L2486.6,3147.5L2493.8,3157.5L2482.1,3153.8L2474.8,3163.6L2474.6,3151.4Z" fill="#a3ff5d"/><path d="M2470.1,3143.6L2481.7,3139.7L2481.8,3127.4L2489.1,3137.3L2500.9,3133.6L2493.7,3143.6L2500.9,3153.6L2489.1,3149.9L2481.8,3159.7L2481.7,3147.5Z" fill="#9fff61"/><path d="M2477.2,3139.7L2488.8,3135.8L2488.9,3123.5L2496.2,3133.4L2507.9,3129.7L2500.8,3139.7L2507.9,3149.7L2496.2,3146.0L2488.9,3155.9L2488.8,3143.6Z" fill="#9bff65"/><path d="M2484.3,3135.8L2495.9,3131.9L2496.0,3119.6L2503.3,3129.5L2515.0,3125.8L2507.9,3135.8L2515.0,3145.8L2503.3,3142.1L2496.0,3152.0L2495.9,3139.7Z" fill="#98ff68"/><path d="M2491.4,3131.9L2503.0,3128.0L2503.1,3115.7L2510.4,3125.6L2522.1,3121.9L2515.0,3131.9L2522.1,3141.9L2510.4,3138.2L2503.1,3148.1L2503.0,3135.8Z" fill="#94ff6c"/><path d="M2498.5,3128.0L2510.1,3124.1L2510.2,3111.8L2517.5,3121.7L2529.2,3118.0L2522.1,3128.0L2529.2,3138.0L2517.5,3134.3L2510.2,3144.2L2510.1,3131.9Z" fill="#91ff6f"/><path d="M2505.6,3124.1L2517.2,3120.2L2517.3,3107.9L2524.6,3117.8L2536.3,3114.1L2529.2,3124.1L2536.3,3134.1L2524.6,3130.4L2517.3,3140.3L2517.2,3128.0Z" fill="#8eff72"/><path d="M2512.7,3120.2L2524.3,3116.3L2524.4,3104.0L2531.7,3113.9L2543.4,3110.2L2536.3,3120.2L2543.4,3130.2L2531.7,3126.5L2524.4,3136.4L2524.3,3124.1Z" fill="#8aff76"/><path d="M2519.7,3116.3L2531.4,3112.4L2531.5,3100.1L2538.8,3110.0L2550.5,3106.3L2543.4,3116.3L2550.5,3126.3L2538.8,3122.6L2531.5,3132.5L2531.4,3120.2Z" fill="#87ff79"/><path d="M2526.8,3112.4L2538.5,3108.5L2538.6,3096.3L2545.9,3106.1L2557.6,3102.4L2550.5,3112.4L2557.6,3122.4L2545.9,3118.7L2538.6,3128.6L2538.5,3116.3Z" fill="#83ff7d"/><path d="M2533.9,3108.5L2545.6,3104.6L2545.7,3092.4L2553.0,3102.2L2564.7,3098.5L2557.6,3108.5L2564.7,3118.5L2553.0,3114.8L2545.7,3124.7L2545.6,3112.4Z" fill="#80ff80"/><path d="M2541.0,3104.6L2552.7,3100.7L2552.8,3088.5L2560.1,3098.3L2571.8,3094.6L2564.7,3104.6L2571.8,3114.6L2560.1,3110.9L2552.8,3120.8L2552.7,3108.5Z" fill="#79ff87"/><path d="M2548.1,3100.7L2559.8,3096.8L2559.9,3084.6L2567.2,3094.4L2578.9,3090.7L2571.7,3100.7L2578.9,3110.7L2567.2,3107.0L2559.9,3116.9L2559.8,3104.6Z" fill="#72ff8e"/><path d="M2555.2,3096.8L2566.8,3092.9L2567.0,3080.7L2574.3,3090.5L2586.0,3086.8L2578.8,3096.8L2586.0,3106.8L2574.3,3103.1L2567.0,3113.0L2566.8,3100.7Z" fill="#6aff96"/><path d="M2562.3,3092.9L2573.9,3089.0L2574.0,3076.8L2581.3,3086.6L2593.1,3082.9L2585.9,3092.9L2593.1,3102.9L2581.3,3099.2L2574.0,3109.1L2573.9,3096.8Z" fill="#63ff9d"/><path d="M2569.4,3089.0L2581.0,3085.2L2581.1,3072.9L2588.4,3082.7L2600.1,3079.1L2593.0,3089.0L2600.1,3099.0L2588.4,3095.4L2581.1,3105.2L2581.0,3092.9Z" fill="#5cffa4"/><path d="M2576.5,3085.2L2588.1,3081.3L2588.2,3069.0L2595.5,3078.8L2607.2,3075.2L2600.1,3085.2L2607.2,3095.1L2595.5,3091.5L2588.2,3101.3L2588.1,3089.0Z" fill="#55ffab"/><path d="M2583.6,3081.3L2595.2,3077.4L2595.3,3065.1L2602.6,3075.0L2614.3,3071.3L2607.2,3081.3L2614.3,3091.2L2602.6,3087.6L2595.3,3097.4L2595.2,3085.2Z" fill="#4effb2"/><path d="M2590.7,3077.4L2602.3,3073.5L2602.4,3061.2L2609.7,3071.1L2621.4,3067.4L2614.3,3077.4L2621.4,3087.4L2609.7,3083.7L2602.4,3093.5L2602.3,3081.3Z" fill="#47ffb9"/><path d="M2597.8,3073.5L2609.4,3069.6L2609.5,3057.3L2616.8,3067.2L2628.5,3063.5L2621.4,3073.5L2628.5,3083.5L2616.8,3079.8L2609.5,3089.6L2609.4,3077.4Z" fill="#40ffc0"/><path d="M2604.9,3069.6L2616.5,3065.7L2616.6,3053.4L2623.9,3063.3L2635.6,3059.6L2628.5,3069.6L2635.6,3079.6L2623.9,3075.9L2616.6,3085.7L2616.5,3073.5Z" fill="#40ffc0"/><path d="M2611.9,3065.7L2623.6,3061.8L2623.7,3049.5L2631.0,3059.4L2642.7,3055.7L2635.6,3065.7L2642.7,3075.7L2631.0,3072.0L2623.7,3081.8L2623.6,3069.6Z" fill="#40ffc0"/><path d="M2619.3,3062.3L2630.9,3058.4L2631.0,3046.1L2638.3,3055.9L2650.0,3052.3L2642.9,3062.3L2650.0,3072.2L2638.3,3068.6L2631.0,3078.4L2630.9,3066.1Z" fill="#37f7c9"/><path d="M2626.7,3058.9L2638.3,3055.0L2638.4,3042.8L2645.7,3052.6L2657.4,3048.9L2650.3,3058.9L2657.4,3068.9L2645.7,3065.2L2638.4,3075.1L2638.3,3062.8Z" fill="#2deed3"/><path d="M2634.0,3055.6L2645.7,3051.7L2645.8,3039.4L2653.1,3049.3L2664.8,3045.6L2657.7,3055.6L2664.8,3065.6L2653.1,3061.9L2645.8,3071.8L2645.7,3059.5Z" fill="#23e6dd"/><path d="M2641.4,3052.3L2653.0,3048.4L2653.2,3036.1L2660.5,3046.0L2672.2,3042.3L2665.0,3052.3L2672.2,3062.3L2660.5,3058.6L2653.2,3068.5L2653.0,3056.2Z" fill="#19dde6"/><path d="M2648.8,3049.0L2660.4,3045.1L2660.5,3032.8L2667.8,3042.7L2679.5,3039.0L2672.4,3049.0L2679.5,3059.0L2667.8,3055.3L2660.5,3065.1L2660.4,3052.9Z" fill="#0fd5f0"/><path d="M2656.2,3045.6L2667.8,3041.8L2667.9,3029.5L2675.2,3039.3L2686.9,3035.7L2679.8,3045.6L2686.9,3055.6L2675.2,3052.0L2667.9,3061.8L2667.8,3049.5Z" fill="#05ccfa"/><path d="M2663.3,3041.9L2675.0,3038.0L2675.1,3025.8L2682.4,3035.6L2694.1,3031.9L2687.0,3041.9L2694.1,3051.9L2682.4,3048.2L2675.1,3058.1L2675.0,3045.8Z" fill="#00c9ff"/><path d="M2670.3,3037.8L2681.9,3033.9L2682.0,3021.6L2689.3,3031.5L2701.0,3027.8L2693.9,3037.8L2701.0,3047.8L2689.3,3044.1L2682.0,3053.9L2681.9,3041.7Z" fill="#00caff"/><path d="M2677.2,3033.6L2688.9,3029.7L2689.0,3017.4L2696.3,3027.3L2708.0,3023.6L2700.8,3033.6L2708.0,3043.6L2696.3,3039.9L2689.0,3049.8L2688.9,3037.5Z" fill="#00cbff"/><path d="M2684.2,3029.4L2695.8,3025.5L2695.9,3013.3L2703.2,3023.1L2714.9,3019.4L2707.8,3029.4L2714.9,3039.4L2703.2,3035.7L2695.9,3045.6L2695.8,3033.3Z" fill="#00ccff"/><path d="M2691.1,3025.3L2702.7,3021.4L2702.8,3009.1L2710.1,3019.0L2721.8,3015.3L2714.7,3025.3L2721.8,3035.3L2710.1,3031.6L2702.8,3041.4L2702.7,3029.2Z" fill="#00cdff"/><path d="M2698.0,3021.1L2709.7,3017.2L2709.8,3004.9L2717.1,3014.8L2728.8,3011.1L2721.7,3021.1L2728.8,3031.1L2717.1,3027.4L2709.8,3037.3L2709.7,3025.0Z" fill="#00ceff"/><path d="M2705.0,3017.0L2716.6,3013.1L2716.7,3000.8L2724.0,3010.6L2735.7,3007.0L2728.6,3017.0L2735.7,3026.9L2724.0,3023.3L2716.7,3033.1L2716.6,3020.8Z" fill="#00d0ff"/><path d="M2712.1,3013.0L2723.7,3009.1L2723.8,2996.9L2731.1,3006.7L2742.8,3003.1L2735.7,3013.0L2742.8,3023.0L2731.1,3019.3L2723.8,3029.2L2723.7,3016.9Z" fill="#00ceff"/><path d="M2719.2,3009.2L2730.8,3005.3L2730.9,2993.1L2738.2,3002.9L2749.9,2999.2L2742.8,3009.2L2749.9,3019.2L2738.2,3015.5L2730.9,3025.4L2730.8,3013.1Z" fill="#00caff"/><path d="M2726.3,3005.4L2738.0,3001.5L2738.1,2989.3L2745.4,2999.1L2757.1,2995.4L2750.0,3005.4L2757.1,3015.4L2745.4,3011.7L2738.1,3021.6L2738.0,3009.3Z" fill="#00c7ff"/><path d="M2733.5,3001.6L2745.1,2997.7L2745.2,2985.5L2752.5,2995.3L2764.2,2991.6L2757.1,3001.6L2764.2,3011.6L2752.5,3007.9L2745.2,3017.8L2745.1,3005.5Z" fill="#00c4ff"/><path d="M2740.6,2997.8L2752.3,2993.9L2752.4,2981.6L2759.7,2991.5L2771.4,2987.8L2764.2,2997.8L2771.4,3007.8L2759.7,3004.1L2752.4,3014.0L2752.3,3001.7Z" fill="#00c1ff"/><path d="M2747.8,2994.0L2759.4,2990.1L2759.5,2977.8L2766.8,2987.7L2778.5,2984.0L2771.4,2994.0L2778.5,3004.0L2766.8,3000.3L2759.5,3010.2L2759.4,2997.9Z" fill="#00caff"/><path d="M2754.9,2990.2L2766.5,2986.3L2766.6,2974.0L2773.9,2983.9L2785.6,2980.2L2778.5,2990.2L2785.6,3000.2L2773.9,2996.5L2766.6,3006.4L2766.5,2994.1Z" fill="#00d7ff"/><path d="M2762.0,2986.4L2773.7,2982.5L2773.8,2970.2L2781.1,2980.1L2792.8,2976.4L2785.7,2986.4L2792.8,2996.4L2781.1,2992.7L2773.8,3002.6L2773.7,2990.3Z" fill="#00e4ff"/><path d="M2769.2,2982.6L2780.8,2978.7L2780.9,2966.4L2788.2,2976.3L2799.9,2972.6L2792.8,2982.6L2799.9,2992.6L2788.2,2988.9L2780.9,2998.7L2780.8,2986.5Z" fill="#00f1ff"/><path d="M2776.3,2978.8L2788.0,2974.9L2788.1,2962.6L2795.4,2972.5L2807.1,2968.8L2799.9,2978.8L2807.1,2988.8L2795.4,2985.1L2788.1,2994.9L2788.0,2982.7Z" fill="#00feff"/><path d="M2783.3,2974.7L2795.0,2970.8L2795.1,2958.6L2802.4,2968.4L2814.1,2964.7L2807.0,2974.7L2814.1,2984.7L2802.4,2981.0L2795.1,2990.9L2795.0,2978.6Z" fill="#35ffca"/><path d="M2790.3,2970.7L2801.9,2966.8L2802.1,2954.5L2809.4,2964.3L2821.1,2960.7L2813.9,2970.7L2821.1,2980.6L2809.4,2977.0L2802.1,2986.8L2801.9,2974.5Z" fill="#71ff8f"/><path d="M2797.3,2966.6L2808.9,2962.7L2809.0,2950.4L2816.3,2960.3L2828.1,2956.6L2820.9,2966.6L2828.1,2976.6L2816.3,2972.9L2809.0,2982.7L2808.9,2970.5Z" fill="#acff53"/><path d="M2804.3,2962.5L2815.9,2958.6L2816.0,2946.3L2823.3,2956.2L2835.0,2952.5L2827.9,2962.5L2835.0,2972.5L2823.3,2968.8L2816.0,2978.7L2815.9,2966.4Z" fill="#e8ff18"/><path d="M2811.2,2958.3L2822.8,2954.4L2823.0,2942.1L2830.3,2952.0L2842.0,2948.3L2834.8,2958.3L2842.0,2968.3L2830.3,2964.6L2823.0,2974.5L2822.8,2962.2Z" fill="#e9ff17"/><path d="M2818.1,2954.1L2829.7,2950.2L2829.9,2937.9L2837.2,2947.8L2848.9,2944.1L2841.7,2954.1L2848.9,2964.1L2837.2,2960.4L2829.9,2970.2L2829.7,2958.0Z" fill="#e1ff1f"/><path d="M2825.0,2949.9L2836.7,2946.0L2836.8,2933.7L2844.1,2943.6L2855.8,2939.9L2848.6,2949.9L2855.8,2959.8L2844.1,2956.2L2836.8,2966.0L2836.7,2953.8Z" fill="#d9ff27"/><path d="M2831.9,2945.6L2843.6,2941.7L2843.7,2929.5L2851.0,2939.3L2862.7,2935.6L2855.5,2945.6L2862.7,2955.6L2851.0,2951.9L2843.7,2961.8L2843.6,2949.5Z" fill="#d2ff2e"/><path d="M2838.8,2941.4L2850.5,2937.5L2850.6,2925.2L2857.9,2935.1L2869.6,2931.4L2862.5,2941.4L2869.6,2951.4L2857.9,2947.7L2850.6,2957.6L2850.5,2945.3Z" fill="#caff36"/><path d="M2845.7,2937.2L2857.4,2933.3L2857.5,2921.0L2864.8,2930.9L2876.5,2927.2L2869.4,2937.2L2876.5,2947.2L2864.8,2943.5L2857.5,2953.4L2857.4,2941.1Z" fill="#c2ff3e"/><path d="M2853.1,2933.8L2864.7,2929.9L2864.8,2917.7L2872.1,2927.5L2883.8,2923.8L2876.7,2933.8L2883.8,2943.8L2872.1,2940.1L2864.8,2950.0L2864.7,2937.7Z" fill="#c0ff40"/><path d="M2860.5,2930.7L2872.2,2926.8L2872.3,2914.5L2879.6,2924.4L2891.3,2920.7L2884.2,2930.7L2891.3,2940.7L2879.6,2937.0L2872.3,2946.9L2872.2,2934.6Z" fill="#c0ff40"/><path d="M2868.0,2927.6L2879.6,2923.7L2879.7,2911.4L2887.1,2921.3L2898.8,2917.6L2891.6,2927.6L2898.8,2937.6L2887.1,2933.9L2879.7,2943.8L2879.6,2931.5Z" fill="#c0ff40"/><path d="M2875.5,2924.5L2887.1,2920.6L2887.2,2908.3L2894.5,2918.2L2906.2,2914.5L2899.1,2924.5L2906.2,2934.5L2894.5,2930.8L2887.2,2940.7L2887.1,2928.4Z" fill="#c0ff40"/><path d="M2164.4,2979.6L2187.7,2966.1L2187.7,2993.1Z" fill="#40ffc0"/><path d="M2171.2,2985.8L2194.6,2972.3L2194.6,2999.3Z" fill="#40ffc0"/><path d="M2178.1,2992.1L2201.4,2978.6L2201.4,3005.6Z" fill="#40ffc0"/><path d="M2184.9,2998.4L2208.3,2984.9L2208.3,3011.9Z" fill="#40ffc0"/><path d="M2191.8,3004.6L2215.1,2991.1L2215.1,3018.1Z" fill="#40ffc0"/><path d="M2198.6,3010.9L2222.0,2997.4L2222.0,3024.4Z" fill="#40ffc0"/><path d="M2205.5,3017.2L2228.8,3003.7L2228.8,3030.7Z" fill="#40ffc0"/><path d="M2212.3,3023.4L2235.7,3009.9L2235.7,3036.9Z" fill="#40ffc0"/><path d="M2219.2,3029.7L2242.5,3016.2L2242.5,3043.2Z" fill="#40ffc0"/><path d="M2226.0,3035.9L2249.4,3022.4L2249.4,3049.4Z" fill="#40ffc0"/><path d="M2232.9,3042.2L2256.2,3028.7L2256.2,3055.7Z" fill="#42ffbe"/><path d="M2239.7,3048.5L2263.1,3035.0L2263.1,3062.0Z" fill="#47ffb9"/><path d="M2246.6,3054.7L2269.9,3041.2L2269.9,3068.2Z" fill="#4bffb5"/><path d="M2253.4,3061.0L2276.8,3047.5L2276.8,3074.5Z" fill="#4fffb1"/><path d="M2260.3,3067.3L2283.6,3053.8L2283.6,3080.8Z" fill="#53ffad"/><path d="M2267.1,3073.5L2290.5,3060.0L2290.5,3087.0Z" fill="#58ffa8"/><path d="M2274.0,3079.8L2297.3,3066.3L2297.3,3093.3Z" fill="#5cffa4"/><path d="M2280.8,3086.0L2304.2,3072.5L2304.2,3099.5Z" fill="#60ffa0"/><path d="M1914.3,2463.3L1937.7,2449.8L1937.7,2476.8Z" fill="#80ffa0"/><path d="M1917.5,2472.1L1940.9,2458.6L1940.9,2485.6Z" fill="#7bffa3"/><path d="M1920.7,2481.0L1944.1,2467.5L1944.1,2494.5Z" fill="#75ffa5"/><path d="M1923.9,2489.9L1947.3,2476.4L1947.3,2503.4Z" fill="#70ffa8"/><path d="M1927.1,2498.7L1950.5,2485.2L1950.5,2512.2Z" fill="#6bffab"/><path d="M1930.3,2507.6L1953.7,2494.1L1953.7,2521.1Z" fill="#65ffad"/><path d="M1933.5,2516.5L1956.8,2503.0L1956.8,2530.0Z" fill="#60ffb0"/><path d="M1936.6,2525.4L1960.0,2511.9L1960.0,2538.9Z" fill="#5bffb3"/><path d="M1939.8,2534.2L1963.2,2520.7L1963.2,2547.7Z" fill="#55ffb5"/><path d="M1943.0,2543.1L1966.4,2529.6L1966.4,2556.6Z" fill="#50ffb8"/><path d="M1946.2,2552.0L1969.6,2538.5L1969.6,2565.5Z" fill="#4bffbb"/><path d="M1949.4,2560.9L1972.8,2547.4L1972.8,2574.4Z" fill="#45ffbd"/><path d="M1952.6,2569.7L1976.0,2556.2L1976.0,2583.2Z" fill="#40ffc0"/><path d="M2661.5,3455.0L2673.1,3451.1L2673.2,3438.8L2680.5,3448.7L2692.2,3445.0L2685.1,3455.0L2692.2,3465.0L2680.5,3461.3L2673.2,3471.2L2673.1,3458.9Z" fill="#00b0ff"/><path d="M2669.5,3454.0L2681.1,3450.1L2681.2,3437.8L2688.5,3447.7L2700.2,3444.0L2693.1,3454.0L2700.2,3464.0L2688.5,3460.3L2681.2,3470.2L2681.1,3457.9Z" fill="#00afff"/><path d="M2677.5,3453.0L2689.1,3449.1L2689.2,3436.8L2696.5,3446.7L2708.2,3443.0L2701.1,3453.0L2708.2,3463.0L2696.5,3459.3L2689.2,3469.2L2689.1,3456.9Z" fill="#00aeff"/><path d="M2685.4,3452.0L2697.1,3448.1L2697.2,3435.8L2704.5,3445.7L2716.2,3442.0L2709.1,3452.0L2716.2,3462.0L2704.5,3458.3L2697.2,3468.2L2697.1,3455.9Z" fill="#00aeff"/><path d="M2693.4,3451.0L2705.1,3447.1L2705.2,3434.8L2712.5,3444.7L2724.2,3441.0L2717.1,3451.0L2724.2,3461.0L2712.5,3457.3L2705.2,3467.2L2705.1,3454.9Z" fill="#00adff"/><path d="M2701.4,3450.0L2713.0,3446.1L2713.2,3433.8L2720.5,3443.7L2732.2,3440.0L2725.0,3450.0L2732.2,3460.0L2720.5,3456.3L2713.2,3466.2L2713.0,3453.9Z" fill="#00acff"/><path d="M2709.4,3449.0L2721.0,3445.1L2721.1,3432.8L2728.4,3442.7L2740.1,3439.0L2733.0,3449.0L2740.1,3459.0L2728.4,3455.3L2721.1,3465.2L2721.0,3452.9Z" fill="#00abff"/><path d="M2717.4,3448.0L2729.0,3444.1L2729.1,3431.8L2736.4,3441.7L2748.1,3438.0L2741.0,3448.0L2748.1,3458.0L2736.4,3454.3L2729.1,3464.2L2729.0,3451.9Z" fill="#00aaff"/><path d="M2725.4,3447.0L2737.0,3443.1L2737.1,3430.8L2744.4,3440.7L2756.1,3437.0L2749.0,3447.0L2756.1,3457.0L2744.4,3453.3L2737.1,3463.2L2737.0,3450.9Z" fill="#00aaff"/><path d="M2733.4,3446.0L2745.0,3442.1L2745.1,3429.8L2752.4,3439.7L2764.1,3436.0L2757.0,3446.0L2764.1,3456.0L2752.4,3452.3L2745.1,3462.2L2745.0,3449.9Z" fill="#00a9ff"/><path d="M2741.3,3445.0L2753.0,3441.1L2753.1,3428.8L2760.4,3438.7L2772.1,3435.0L2765.0,3445.0L2772.1,3455.0L2760.4,3451.3L2753.1,3461.2L2753.0,3448.9Z" fill="#00a8ff"/><path d="M2749.3,3444.0L2761.0,3440.1L2761.1,3427.8L2768.4,3437.7L2780.1,3434.0L2773.0,3444.0L2780.1,3454.0L2768.4,3450.3L2761.1,3460.2L2761.0,3447.9Z" fill="#00a7ff"/><path d="M2757.3,3443.0L2768.9,3439.1L2769.1,3426.8L2776.4,3436.7L2788.1,3433.0L2780.9,3443.0L2788.1,3453.0L2776.4,3449.3L2769.1,3459.2L2768.9,3446.9Z" fill="#00a6ff"/><path d="M2765.3,3442.0L2776.9,3438.1L2777.0,3425.8L2784.3,3435.7L2796.0,3432.0L2788.9,3442.0L2796.0,3452.0L2784.3,3448.3L2777.0,3458.2L2776.9,3445.9Z" fill="#00a6ff"/><path d="M2773.3,3441.0L2784.9,3437.1L2785.0,3424.8L2792.3,3434.7L2804.0,3431.0L2796.9,3441.0L2804.0,3451.0L2792.3,3447.3L2785.0,3457.2L2784.9,3444.9Z" fill="#00a5ff"/><path d="M2781.3,3440.0L2792.9,3436.1L2793.0,3423.9L2800.3,3433.7L2812.0,3430.0L2804.9,3440.0L2812.0,3450.0L2800.3,3446.3L2793.0,3456.2L2792.9,3443.9Z" fill="#00a4ff"/><path d="M2789.2,3439.0L2800.9,3435.1L2801.0,3422.9L2808.3,3432.7L2820.0,3429.0L2812.9,3439.0L2820.0,3449.0L2808.3,3445.3L2801.0,3455.2L2800.9,3442.9Z" fill="#00a3ff"/><path d="M2797.2,3438.0L2808.9,3434.1L2809.0,3421.9L2816.3,3431.7L2828.0,3428.0L2820.9,3438.0L2828.0,3448.0L2816.3,3444.3L2809.0,3454.2L2808.9,3441.9Z" fill="#00a2ff"/><path d="M2805.2,3437.0L2816.9,3433.1L2817.0,3420.9L2824.3,3430.7L2836.0,3427.0L2828.8,3437.0L2836.0,3447.0L2824.3,3443.3L2817.0,3453.2L2816.9,3440.9Z" fill="#00a2ff"/><path d="M2813.2,3436.0L2824.8,3432.1L2825.0,3419.9L2832.3,3429.7L2844.0,3426.0L2836.8,3436.0L2844.0,3446.0L2832.3,3442.3L2825.0,3452.2L2824.8,3439.9Z" fill="#00a1ff"/><path d="M2821.2,3435.0L2832.8,3431.1L2832.9,3418.9L2840.2,3428.7L2851.9,3425.0L2844.8,3435.0L2851.9,3445.0L2840.2,3441.3L2832.9,3451.2L2832.8,3438.9Z" fill="#00a0ff"/><path d="M2689.5,3541.5L2712.9,3528.0L2712.9,3555.0Z" fill="#40ffc0"/><path d="M2695.5,3548.8L2718.9,3535.3L2718.9,3562.3Z" fill="#3dfac6"/><path d="M2701.5,3556.1L2724.9,3542.6L2724.9,3569.6Z" fill="#3af6cd"/><path d="M2707.5,3563.5L2730.9,3550.0L2730.9,3577.0Z" fill="#36f1d3"/><path d="M2713.5,3570.8L2736.9,3557.3L2736.9,3584.3Z" fill="#33ecd9"/><path d="M2719.5,3578.1L2742.8,3564.6L2742.8,3591.6Z" fill="#30e8e0"/><path d="M2725.5,3585.4L2748.8,3571.9L2748.8,3598.9Z" fill="#2de3e6"/><path d="M2731.4,3592.7L2754.8,3579.2L2754.8,3606.2Z" fill="#2adeec"/><path d="M2737.4,3600.1L2760.8,3586.6L2760.8,3613.6Z" fill="#26d9f2"/><path d="M2743.4,3607.4L2766.8,3593.9L2766.8,3620.9Z" fill="#23d5f9"/><path d="M2749.4,3614.7L2772.8,3601.2L2772.8,3628.2Z" fill="#20d0ff"/><path d="M2350.5,3092.7L2366.3,3076.9L2382.1,3092.7L2366.3,3108.5Z" fill="#c0ff40"/><path d="M2377.1,3089.0L2392.9,3073.2L2408.7,3089.0L2392.9,3104.8Z" fill="#a9ff57"/><path d="M2403.7,3085.2L2419.5,3069.4L2435.3,3085.2L2419.5,3101.0Z" fill="#92ff6e"/><path d="M2430.3,3081.5L2446.1,3065.7L2461.9,3081.5L2446.1,3097.3Z" fill="#77ff89"/><path d="M2456.9,3077.8L2472.7,3062.0L2488.5,3077.8L2472.7,3093.6Z" fill="#76ff8a"/><path d="M2483.5,3074.1L2499.3,3058.3L2515.1,3074.1L2499.3,3089.9Z" fill="#93ff6d"/><path d="M2510.1,3070.3L2525.9,3054.5L2541.7,3070.3L2525.9,3086.1Z" fill="#60ffa0"/><path d="M2536.7,3066.6L2552.5,3050.8L2568.3,3066.6L2552.5,3082.4Z" fill="#3bfec4"/><path d="M2563.3,3062.9L2579.1,3047.1L2594.9,3062.9L2579.1,3078.7Z" fill="#19f6e6"/><path d="M2589.8,3058.8L2605.6,3043.0L2621.4,3058.8L2605.6,3074.6Z" fill="#2ff4d0"/><path d="M2616.2,3054.0L2632.0,3038.2L2647.8,3054.0L2632.0,3069.8Z" fill="#a2f55e"/><path d="M2642.7,3049.2L2658.5,3033.4L2674.3,3049.2L2658.5,3065.0Z" fill="#21cbde"/><path d="M2669.1,3044.4L2684.9,3028.6L2700.7,3044.4L2684.9,3060.2Z" fill="#00cdff"/><path d="M2695.5,3039.6L2711.3,3023.8L2727.1,3039.6L2711.3,3055.4Z" fill="#00dfff"/><path d="M2721.9,3034.8L2737.7,3019.0L2753.5,3034.8L2737.7,3050.6Z" fill="#00adff"/><path d="M2748.4,3030.4L2764.2,3014.6L2780.0,3030.4L2764.2,3046.2Z" fill="#15d9eb"/><path d="M2775.0,3026.5L2790.8,3010.7L2806.6,3026.5L2790.8,3042.3Z" fill="#76ff8a"/><path d="M2801.6,3022.7L2817.4,3006.9L2833.2,3022.7L2817.4,3038.5Z" fill="#c0ff40"/><path d="M2828.2,3018.8L2844.0,3003.0L2859.8,3018.8L2844.0,3034.6Z" fill="#c0ff40"/><path d="M2854.8,3015.0L2870.6,2999.2L2886.4,3015.0L2870.6,3030.8Z" fill="#99ff67"/><path d="M2881.4,3011.1L2897.2,2995.3L2913.0,3011.1L2897.2,3026.9Z" fill="#40ffc0"/><path d="M2526.6,2656.0L2542.4,2640.2L2558.2,2656.0L2542.4,2671.8Z" fill="#c0ff40"/><path d="M2516.3,2663.5L2532.1,2647.7L2547.9,2663.5L2532.1,2679.3Z" fill="#dfd821"/><path d="M2506.1,2671.1L2521.9,2655.3L2537.7,2671.1L2521.9,2686.9Z" fill="#feb101"/><path d="M2495.8,2678.7L2511.6,2662.9L2527.4,2678.7L2511.6,2694.5Z" fill="#ffca00"/><path d="M2485.5,2686.2L2501.3,2670.4L2517.1,2686.2L2501.3,2702.0Z" fill="#ffe400"/><path d="M2475.2,2693.8L2491.0,2678.0L2506.8,2693.8L2491.0,2709.6Z" fill="#ffff00"/><path d="M2464.9,2701.3L2480.7,2685.5L2496.5,2701.3L2480.7,2717.1Z" fill="#ffff00"/><path d="M2454.6,2708.9L2470.4,2693.1L2486.2,2708.9L2470.4,2724.7Z" fill="#ffff00"/><path d="M2444.3,2716.5L2460.1,2700.7L2475.9,2716.5L2460.1,2732.3Z" fill="#ffe600"/><path d="M2434.1,2724.0L2449.9,2708.2L2465.7,2724.0L2449.9,2739.8Z" fill="#ffb900"/><path d="M2423.8,2731.6L2439.6,2715.8L2455.4,2731.6L2439.6,2747.4Z" fill="#ffa000"/><path d="M2413.5,2739.1L2429.3,2723.3L2445.1,2739.1L2429.3,2754.9Z" fill="#ffa000"/><path d="M2160.6,2609.4L2176.4,2593.6L2192.2,2609.4L2176.4,2625.2Z" fill="#80ff80"/><path d="M2197.2,2589.4L2213.0,2573.6L2228.8,2589.4L2213.0,2605.2Z" fill="#90ff70"/><path d="M2222.2,2572.8L2238.0,2557.0L2253.8,2572.8L2238.0,2588.6Z" fill="#a0ff60"/><path d="M2270.4,2539.5L2286.2,2523.7L2302.0,2539.5L2286.2,2555.3Z" fill="#ffb000"/><path d="M2293.7,2522.9L2309.5,2507.1L2325.3,2522.9L2309.5,2538.7Z" fill="#ffb000"/><path d="M2411.8,2443.0L2427.6,2427.2L2443.4,2443.0L2427.6,2458.8Z" fill="#90ff70"/><path d="M2450.1,2416.4L2465.9,2400.6L2481.7,2416.4L2465.9,2432.2Z" fill="#90ff70"/><path d="M2466.7,2406.4L2482.5,2390.6L2498.3,2406.4L2482.5,2422.2Z" fill="#80ff80"/><path d="M2503.3,2381.5L2519.1,2365.7L2534.9,2381.5L2519.1,2397.3Z" fill="#90ff70"/><path d="M2395.2,2752.5L2411.0,2736.7L2426.8,2752.5L2411.0,2768.3Z" fill="#ffa000"/><path d="M2366.9,2765.8L2382.7,2750.0L2398.5,2765.8L2382.7,2781.6Z" fill="#c0ff40"/><path d="M2320.3,2799.0L2336.1,2783.2L2351.9,2799.0L2336.1,2814.8Z" fill="#c0ff40"/><path d="M2320.5,2799.9L2336.3,2784.1L2352.1,2799.9L2336.3,2815.7Z" fill="#d0ff30"/><path d="M2330.5,2853.1L2346.3,2837.3L2362.1,2853.1L2346.3,2868.9Z" fill="#a0ff60"/><path d="M2367.1,2766.6L2382.9,2750.8L2398.7,2766.6L2382.9,2782.4Z" fill="#a0ff60"/><path d="M2610.0,2803.2L2625.8,2787.4L2641.6,2803.2L2625.8,2819.0Z" fill="#ffb000"/><path d="M2629.9,2803.2L2645.7,2787.4L2661.5,2803.2L2645.7,2819.0Z" fill="#00ffff"/><rect x="2073.2" y="2521.4" width="23.5" height="23.5" fill="#ffff00"/><rect x="2074.5" y="2551.3" width="23.5" height="23.5" fill="#80ff80"/><rect x="2078.2" y="2584.3" width="23.5" height="23.5" fill="#ffc000"/><rect x="1926.5" y="2571.3" width="23.5" height="23.5" fill="#00ffff"/><rect x="1934.8" y="2570.4" width="23.5" height="23.5" fill="#00ffff"/><rect x="1964.7" y="2561.3" width="23.5" height="23.5" fill="#60ffc0"/><rect x="1974.7" y="2561.3" width="23.5" height="23.5" fill="#60ffc0"/><path d="M2587.5,2997.0L2599.1,2993.1L2599.2,2980.8L2606.5,2990.7L2618.3,2987.0L2611.1,2997.0L2618.3,3007.0L2606.5,3003.3L2599.2,3013.2L2599.1,3000.9Z" fill="#0080ff"/><path d="M2635.0,3016.0L2645.3,3012.6L2645.4,3001.7L2651.8,3010.4L2662.1,3007.2L2655.8,3016.0L2662.1,3024.8L2651.8,3021.6L2645.4,3030.3L2645.3,3019.4Z" fill="#f0ff10"/><path d="M2696.2,3491.6L2712.0,3475.8L2727.8,3491.6L2712.0,3507.4Z" fill="#00ffff"/><path d="M2729.2,3495.0L2745.0,3479.2L2760.8,3495.0L2745.0,3510.8Z" fill="#40ffc0"/><path d="M2749.2,3505.0L2765.0,3489.2L2780.8,3505.0L2765.0,3520.8Z" fill="#60ffa0"/><path d="M2782.2,3511.6L2798.0,3495.8L2813.8,3511.6L2798.0,3527.4Z" fill="#c0ff40"/><rect x="1948.2" y="2720.2" width="23.5" height="23.5" fill="#00e0ff"/><rect x="1960.2" y="2740.2" width="23.5" height="23.5" fill="#00e0ff"/><rect x="1981.2" y="2745.2" width="23.5" height="23.5" fill="#40ffc0"/><rect x="2053.2" y="2833.2" width="23.5" height="23.5" fill="#40ffc0"/><rect x="2060.2" y="2856.2" width="23.5" height="23.5" fill="#40ffc0"/><rect x="2066.2" y="2876.2" width="23.5" height="23.5" fill="#40ffc0"/><rect x="2100.2" y="2873.2" width="23.5" height="23.5" fill="#c0ff40"/><rect x="2104.2" y="2893.2" width="23.5" height="23.5" fill="#c0ff40"/><rect x="2173.2" y="2976.2" width="23.5" height="23.5" fill="#40ffc0"/><rect x="2173.2" y="2993.2" width="23.5" height="23.5" fill="#40ffc0"/><path d="M1947.0,2720.0L1957.3,2716.6L1957.4,2705.7L1963.8,2714.4L1974.1,2711.2L1967.8,2720.0L1974.1,2728.8L1963.8,2725.6L1957.4,2734.3L1957.3,2723.4Z" fill="#00e0ff"/><path d="M2129.4,2935.0L2152.8,2921.5L2152.8,2948.5Z" fill="#40ffc0"/><path d="M1677.5,2892.4L1693.3,2876.6L1709.1,2892.4L1693.3,2908.2Z" fill="#ffff00"/><path d="M1599.0,2928.8L1614.8,2913.0L1630.6,2928.8L1614.8,2944.6Z" fill="#ffc000"/><path d="M1746.4,2912.4L1762.2,2896.6L1778.0,2912.4L1762.2,2928.2Z" fill="#b0ff50"/><path d="M1712.9,2937.3L1728.7,2921.5L1744.5,2937.3L1728.7,2953.1Z" fill="#c0ff40"/><path d="M1644.0,2953.8L1659.8,2938.0L1675.6,2953.8L1659.8,2969.6Z" fill="#ff9000"/><path d="M1679.0,2962.3L1694.8,2946.5L1710.6,2962.3L1694.8,2978.1Z" fill="#ffa000"/><path d="M1708.9,2972.3L1724.7,2956.5L1740.5,2972.3L1724.7,2988.1Z" fill="#ffb000"/><path d="M1747.4,2964.8L1763.2,2949.0L1779.0,2964.8L1763.2,2980.6Z" fill="#ffb000"/><path d="M1764.9,2961.3L1780.7,2945.5L1796.5,2961.3L1780.7,2977.1Z" fill="#ffc000"/><path d="M1813.9,2950.8L1829.7,2935.0L1845.5,2950.8L1829.7,2966.6Z" fill="#ffb000"/><path d="M1649.0,2984.8L1664.8,2969.0L1680.6,2984.8L1664.8,3000.6Z" fill="#ffd000"/><path d="M1679.0,2979.8L1694.8,2964.0L1710.6,2979.8L1694.8,2995.6Z" fill="#ffa000"/><path d="M1549.0,2989.8L1564.8,2974.0L1580.6,2989.8L1564.8,3005.6Z" fill="#d0ff30"/><path d="M1520.6,3013.8L1536.4,2998.0L1552.2,3013.8L1536.4,3029.6Z" fill="#ff8000"/><path d="M1494.1,3029.8L1509.9,3014.0L1525.7,3029.8L1509.9,3045.6Z" fill="#ff9000"/><path d="M1488.1,3021.3L1503.9,3005.5L1519.7,3021.3L1503.9,3037.1Z" fill="#e0ff00"/><path d="M1594.0,3016.3L1609.8,3000.5L1625.6,3016.3L1609.8,3032.1Z" fill="#ffb000"/><path d="M1380.6,3045.3L1396.4,3029.5L1412.2,3045.3L1396.4,3061.1Z" fill="#ffd000"/><path d="M1411.6,3086.2L1427.4,3070.4L1443.2,3086.2L1427.4,3102.0Z" fill="#ffa000"/><path d="M1838.9,3104.7L1854.7,3088.9L1870.5,3104.7L1854.7,3120.5Z" fill="#ff0000"/><path d="M1760.9,3149.7L1776.7,3133.9L1792.5,3149.7L1776.7,3165.5Z" fill="#ff8000"/><path d="M1938.8,3149.7L1954.6,3133.9L1970.4,3149.7L1954.6,3165.5Z" fill="#ff9000"/><path d="M1581.5,3189.7L1597.3,3173.9L1613.1,3189.7L1597.3,3205.5Z" fill="#ff6000"/><path d="M1916.3,3258.1L1932.1,3242.3L1947.9,3258.1L1932.1,3273.9Z" fill="#ff6000"/><path d="M1465.1,3292.1L1480.9,3276.3L1496.7,3292.1L1480.9,3307.9Z" fill="#ffe000"/><path d="M1677.5,3316.1L1693.3,3300.3L1709.1,3316.1L1693.3,3331.9Z" fill="#ff6000"/><path d="M1701.4,3373.6L1717.2,3357.8L1733.0,3373.6L1717.2,3389.4Z" fill="#ff7000"/><path d="M1422.6,3374.6L1438.4,3358.8L1454.2,3374.6L1438.4,3390.4Z" fill="#ff6000"/><path d="M1575.5,3392.1L1591.3,3376.3L1607.1,3392.1L1591.3,3407.9Z" fill="#ffb000"/><path d="M1600.5,3380.6L1616.3,3364.8L1632.1,3380.6L1616.3,3396.4Z" fill="#ffd000"/><path d="M1301.7,3417.0L1317.5,3401.2L1333.3,3417.0L1317.5,3432.8Z" fill="#ffb000"/><path d="M1286.7,3263.1L1302.5,3247.3L1318.3,3263.1L1302.5,3278.9Z" fill="#e0ff20"/><path d="M1314.2,2849.9L1330.0,2834.1L1345.8,2849.9L1330.0,2865.7Z" fill="#c0ff40"/><path d="M1333.2,2868.9L1349.0,2853.1L1364.8,2868.9L1349.0,2884.7Z" fill="#90ff70"/><path d="M1375.1,2911.4L1390.9,2895.6L1406.7,2911.4L1390.9,2927.2Z" fill="#80ff80"/><path d="M1988.8,2915.8L2004.6,2900.0L2020.4,2915.8L2004.6,2931.6Z" fill="#ffb000"/><path d="M1927.8,2779.9L1943.6,2764.1L1959.4,2779.9L1943.6,2795.7Z" fill="#00f0ff"/><path d="M1262.7,2798.4L1278.5,2782.6L1294.3,2798.4L1278.5,2814.2Z" fill="#ffc000"/><path d="M1284.7,3263.6L1300.5,3247.8L1316.3,3263.6L1300.5,3279.4Z" fill="#e0ff20"/><path d="M1238.7,3300.6L1254.5,3284.8L1270.3,3300.6L1254.5,3316.4Z" fill="#b0ff50"/><path d="M1126.3,3389.6L1142.1,3373.8L1157.9,3389.6L1142.1,3405.4Z" fill="#c0ff40"/><path d="M1277.7,3429.5L1293.5,3413.7L1309.3,3429.5L1293.5,3445.3Z" fill="#ffc000"/><path d="M593.1,3260.6L608.9,3244.8L624.7,3260.6L608.9,3276.4Z" fill="#ff6000"/><path d="M1276.7,3430.8L1292.5,3415.0L1308.3,3430.8L1292.5,3446.6Z" fill="#ffc000"/><path d="M1301.1,3417.9L1316.9,3402.1L1332.7,3417.9L1316.9,3433.7Z" fill="#ffb000"/><path d="M1347.5,3523.0L1363.3,3507.2L1379.1,3523.0L1363.3,3538.8Z" fill="#ff7000"/><path d="M1569.9,3533.6L1585.7,3517.8L1601.5,3533.6L1585.7,3549.4Z" fill="#ffff00"/><path d="M1285.8,3263.3L1301.6,3247.5L1317.4,3263.3L1301.6,3279.1Z" fill="#e0ff20"/><path d="M1021.4,2464.6L1037.2,2448.8L1053.0,2464.6L1037.2,2480.4Z" fill="#c0ff40"/><path d="M1063.8,2492.1L1079.6,2476.3L1095.4,2492.1L1079.6,2507.9Z" fill="#ffe000"/><path d="M1084.8,2505.6L1100.6,2489.8L1116.4,2505.6L1100.6,2521.4Z" fill="#ffb000"/><path d="M1097.8,2517.1L1113.6,2501.3L1129.4,2517.1L1113.6,2532.9Z" fill="#ffa000"/><path d="M1028.9,2557.1L1044.7,2541.3L1060.5,2557.1L1044.7,2572.9Z" fill="#ffb000"/></g></g><g fill="none" stroke="#000"><circle cx="1706.0" cy="3079.0" r="1199.6" stroke-width="3.4"/><circle cx="1706.0" cy="3079.0" r="1227.0" stroke-width="4"/><path d="M2919.0,3079.0 L2919.0,3068.4 L2918.8,3057.8 L2918.6,3047.2 L2918.3,3036.7 L2917.8,3026.1 L2917.3,3015.5 L2916.7,3004.9 L2916.0,2994.4 L2915.3,2983.8 L2914.4,2973.3 L2913.4,2962.7 L2912.4,2952.2 L2911.2,2941.7 L2910.0,2931.2 L2908.6,2920.7 L2907.2,2910.2 L2905.7,2899.7 L2904.1,2889.2 L2902.4,2878.8 L2900.6,2868.4 L2898.7,2857.9 L2896.7,2847.5 L2894.6,2837.2 L2892.5,2826.8 L2890.2,2816.5 L2887.9,2806.1 L2885.5,2795.8 L2883.0,2785.5 L2880.4,2775.3 L2877.7,2765.1 L2874.9,2754.8 L2872.0,2744.7 L2869.0,2734.5 L2866.0,2724.4 L2862.9,2714.2 L2859.6,2704.2 L2856.3,2694.1 L2852.9,2684.1 L2849.4,2674.1 L2845.8,2664.1 L2842.2,2654.2 L2838.4,2644.3 L2834.6,2634.4 L2830.7,2624.6 L2826.7,2614.8 L2822.6,2605.0 L2818.4,2595.3 L2814.1,2585.6 L2809.8,2576.0 L2805.4,2566.4 L2800.8,2556.8 L2796.2,2547.3 L2791.6,2537.8 L2786.8,2528.3 L2781.9,2518.9 L2777.0,2509.5 L2772.0,2500.2 L2766.9,2490.9 L2761.7,2481.7 L2756.5,2472.5M2312.5,2028.5 L2303.3,2023.3 L2294.1,2018.1 L2284.8,2013.0 L2275.5,2008.0 L2266.1,2003.1 L2256.7,1998.2 L2247.2,1993.4 L2237.7,1988.8 L2228.2,1984.2 L2218.6,1979.6 L2209.0,1975.2 L2199.4,1970.9 L2189.7,1966.6 L2180.0,1962.4 L2170.2,1958.3 L2160.4,1954.3 L2150.6,1950.4 L2140.7,1946.6 L2130.8,1942.8 L2120.9,1939.2 L2110.9,1935.6 L2100.9,1932.1 L2090.9,1928.7 L2080.8,1925.4 L2070.8,1922.1 L2060.6,1919.0 L2050.5,1916.0 L2040.3,1913.0 L2030.2,1910.1 L2019.9,1907.3 L2009.7,1904.6 L1999.5,1902.0 L1989.2,1899.5 L1978.9,1897.1 L1968.5,1894.8 L1958.2,1892.5 L1947.8,1890.4 L1937.5,1888.3 L1927.1,1886.3 L1916.6,1884.4 L1906.2,1882.6 L1895.8,1880.9 L1885.3,1879.3 L1874.8,1877.8 L1864.3,1876.4 L1853.8,1875.0 L1843.3,1873.8 L1832.8,1872.6 L1822.3,1871.6 L1811.7,1870.6 L1801.2,1869.7 L1790.6,1869.0 L1780.1,1868.3 L1769.5,1867.7 L1758.9,1867.2 L1748.3,1866.7 L1737.8,1866.4 L1727.2,1866.2 L1716.6,1866.0 L1706.0,1866.0M1099.5,2028.5 L1090.4,2033.8 L1081.3,2039.3 L1072.2,2044.7 L1063.2,2050.3 L1054.3,2056.0 L1045.4,2061.7 L1036.5,2067.5 L1027.7,2073.4 L1018.9,2079.3 L1010.3,2085.4 L1001.6,2091.5 L993.0,2097.7 L984.5,2103.9 L976.0,2110.3 L967.6,2116.7 L959.2,2123.1 L950.9,2129.7 L942.6,2136.3 L934.4,2143.0 L926.3,2149.8 L918.2,2156.6 L910.2,2163.5 L902.2,2170.5 L894.3,2177.6 L886.5,2184.7 L878.7,2191.9 L871.0,2199.1 L863.4,2206.4 L855.8,2213.8 L848.3,2221.3 L840.8,2228.8 L833.4,2236.4 L826.1,2244.0 L818.9,2251.7 L811.7,2259.5 L804.6,2267.3 L797.5,2275.2 L790.5,2283.2 L783.6,2291.2 L776.8,2299.3 L770.0,2307.4 L763.3,2315.6 L756.7,2323.9 L750.1,2332.2 L743.7,2340.6 L737.3,2349.0 L730.9,2357.5 L724.7,2366.0 L718.5,2374.6 L712.4,2383.3 L706.3,2391.9 L700.4,2400.7 L694.5,2409.5 L688.7,2418.4 L683.0,2427.3 L677.3,2436.2 L671.7,2445.2 L666.3,2454.3 L660.8,2463.4 L655.5,2472.5M493.0,3079.0 L493.0,3089.6 L493.2,3100.2 L493.4,3110.8 L493.7,3121.3 L494.2,3131.9 L494.7,3142.5 L495.3,3153.1 L496.0,3163.6 L496.7,3174.2 L497.6,3184.7 L498.6,3195.3 L499.6,3205.8 L500.8,3216.3 L502.0,3226.8 L503.4,3237.3 L504.8,3247.8 L506.3,3258.3 L507.9,3268.8 L509.6,3279.2 L511.4,3289.6 L513.3,3300.1 L515.3,3310.5 L517.4,3320.8 L519.5,3331.2 L521.8,3341.5 L524.1,3351.9 L526.5,3362.2 L529.0,3372.5 L531.6,3382.7 L534.3,3392.9 L537.1,3403.2 L540.0,3413.3 L543.0,3423.5 L546.0,3433.6 L549.1,3443.8 L552.4,3453.8 L555.7,3463.9 L559.1,3473.9 L562.6,3483.9 L566.2,3493.9 L569.8,3503.8 L573.6,3513.7 L577.4,3523.6 L581.3,3533.4 L585.3,3543.2 L589.4,3553.0 L593.6,3562.7 L597.9,3572.4 L602.2,3582.0 L606.6,3591.6 L611.2,3601.2 L615.8,3610.7 L620.4,3620.2 L625.2,3629.7 L630.1,3639.1 L635.0,3648.5 L640.0,3657.8 L645.1,3667.1 L650.3,3676.3 L655.5,3685.5M1099.5,4129.5 L1108.7,4134.7 L1117.9,4139.9 L1127.2,4145.0 L1136.5,4150.0 L1145.9,4154.9 L1155.3,4159.8 L1164.8,4164.6 L1174.3,4169.2 L1183.8,4173.8 L1193.4,4178.4 L1203.0,4182.8 L1212.6,4187.1 L1222.3,4191.4 L1232.0,4195.6 L1241.8,4199.7 L1251.6,4203.7 L1261.4,4207.6 L1271.3,4211.4 L1281.2,4215.2 L1291.1,4218.8 L1301.1,4222.4 L1311.1,4225.9 L1321.1,4229.3 L1331.2,4232.6 L1341.2,4235.9 L1351.4,4239.0 L1361.5,4242.0 L1371.7,4245.0 L1381.8,4247.9 L1392.1,4250.7 L1402.3,4253.4 L1412.5,4256.0 L1422.8,4258.5 L1433.1,4260.9 L1443.5,4263.2 L1453.8,4265.5 L1464.2,4267.6 L1474.5,4269.7 L1484.9,4271.7 L1495.4,4273.6 L1505.8,4275.4 L1516.2,4277.1 L1526.7,4278.7 L1537.2,4280.2 L1547.7,4281.6 L1558.2,4283.0 L1568.7,4284.2 L1579.2,4285.4 L1589.7,4286.4 L1600.3,4287.4 L1610.8,4288.3 L1621.4,4289.0 L1631.9,4289.7 L1642.5,4290.3 L1653.1,4290.8 L1663.7,4291.3 L1674.2,4291.6 L1684.8,4291.8 L1695.4,4292.0 L1706.0,4292.0M2312.5,4129.5 L2321.6,4124.2 L2330.7,4118.7 L2339.8,4113.3 L2348.8,4107.7 L2357.7,4102.0 L2366.6,4096.3 L2375.5,4090.5 L2384.3,4084.6 L2393.1,4078.7 L2401.7,4072.6 L2410.4,4066.5 L2419.0,4060.3 L2427.5,4054.1 L2436.0,4047.7 L2444.4,4041.3 L2452.8,4034.9 L2461.1,4028.3 L2469.4,4021.7 L2477.6,4015.0 L2485.7,4008.2 L2493.8,4001.4 L2501.8,3994.5 L2509.8,3987.5 L2517.7,3980.4 L2525.5,3973.3 L2533.3,3966.1 L2541.0,3958.9 L2548.6,3951.6 L2556.2,3944.2 L2563.7,3936.7 L2571.2,3929.2 L2578.6,3921.6 L2585.9,3914.0 L2593.1,3906.3 L2600.3,3898.5 L2607.4,3890.7 L2614.5,3882.8 L2621.5,3874.8 L2628.4,3866.8 L2635.2,3858.7 L2642.0,3850.6 L2648.7,3842.4 L2655.3,3834.1 L2661.9,3825.8 L2668.3,3817.4 L2674.7,3809.0 L2681.1,3800.5 L2687.3,3792.0 L2693.5,3783.4 L2699.6,3774.7 L2705.7,3766.1 L2711.6,3757.3 L2717.5,3748.5 L2723.3,3739.6 L2729.0,3730.7 L2734.7,3721.8 L2740.3,3712.8 L2745.7,3703.7 L2751.2,3694.6 L2756.5,3685.5" stroke-width="25"/></g><g font-family="Liberation Sans, sans-serif" font-size="68" fill="#000" text-anchor="middle"><text transform="translate(2987.0,3079.0) rotate(-90)" y="24.5">0<tspan font-size="46" dy="-16">°</tspan></text><text transform="translate(2815.4,2438.5) rotate(-120)" y="24.5">30<tspan font-size="46" dy="-16">°</tspan></text><text transform="translate(2346.5,1969.6) rotate(-150)" y="24.5">60<tspan font-size="46" dy="-16">°</tspan></text><text transform="translate(1706.0,1798.0) rotate(-180)" y="24.5">90<tspan font-size="46" dy="-16">°</tspan></text><text transform="translate(1065.5,1969.6) rotate(-30)" y="24.5">120<tspan font-size="46" dy="-16">°</tspan></text><text transform="translate(596.6,2438.5) rotate(-60)" y="24.5">150<tspan font-size="46" dy="-16">°</tspan></text><text transform="translate(425.0,3079.0) rotate(-90)" y="24.5">−180<tspan font-size="46" dy="-16">°</tspan></text><text transform="translate(596.6,3719.5) rotate(-120)" y="24.5">−150<tspan font-size="46" dy="-16">°</tspan></text><text transform="translate(1065.5,4188.4) rotate(-150)" y="24.5">−120<tspan font-size="46" dy="-16">°</tspan></text><text transform="translate(1706.0,4360.0) rotate(-180)" y="24.5">−90<tspan font-size="46" dy="-16">°</tspan></text><text transform="translate(2346.5,4188.4) rotate(-30)" y="24.5">−60<tspan font-size="46" dy="-16">°</tspan></text><text transform="translate(2815.4,3719.5) rotate(-60)" y="24.5">−30<tspan font-size="46" dy="-16">°</tspan></text></g><text transform="translate(312,3772.6) rotate(-90)" font-family="Liberation Sans, sans-serif" font-size="101" fill="#000">Sea Level Anomaly 01/11/2025</text><g font-family="Liberation Sans, sans-serif" font-size="68" fill="#000"><text transform="translate(918.1,829.3) rotate(-90)">Cryosat−2</text><text transform="translate(990.6,829.3) rotate(-90)">Sentinel−3A</text><text transform="translate(1064.2,829.3) rotate(-90)">Sentinel−3B</text><text transform="translate(1137.8,829.3) rotate(-90)">SARAL</text></g><g fill="#000"><path d="M858,908 L894,871.5 L929.5,908 L894,944Z"/><path d="M929.5,908 L987,875 L987,940.5Z"/><rect x="1015" y="883" width="52" height="52"/><path d="M1069.8,909.0 L1100.0,898.8 L1100.3,867.0 L1119.3,892.5 L1149.8,883.0 L1131.3,909.0 L1149.8,935.0 L1119.3,925.5 L1100.3,951.0 L1100.0,919.2Z"/></g><defs><linearGradient id="cb" x1="0" y1="0" x2="1" y2="0"><stop offset="0" stop-color="#800000"/><stop offset="0.125" stop-color="#ff0000"/><stop offset="0.375" stop-color="#ffff00"/><stop offset="0.5" stop-color="#80ff80"/><stop offset="0.625" stop-color="#00ffff"/><stop offset="0.875" stop-color="#0000ff"/><stop offset="1.0" stop-color="#000080"/></linearGradient></defs><rect x="1645.5" y="655.5" width="1260" height="158" fill="url(#cb)" stroke="#000" stroke-width="9"/><g stroke="#000" stroke-width="3"><line x1="1645.5" y1="627" x2="1645.5" y2="651"/><line x1="1771.5" y1="627" x2="1771.5" y2="651"/><line x1="1897.5" y1="627" x2="1897.5" y2="651"/><line x1="2023.5" y1="627" x2="2023.5" y2="651"/><line x1="2149.5" y1="627" x2="2149.5" y2="651"/><line x1="2275.5" y1="627" x2="2275.5" y2="651"/><line x1="2401.5" y1="627" x2="2401.5" y2="651"/><line x1="2527.5" y1="627" x2="2527.5" y2="651"/><line x1="2653.5" y1="627" x2="2653.5" y2="651"/><line x1="2779.5" y1="627" x2="2779.5" y2="651"/><line x1="2905.5" y1="627" x2="2905.5" y2="651"/></g><g font-family="Liberation Sans, sans-serif" font-size="68" fill="#000" text-anchor="end"><text transform="translate(1671.0,469.5) rotate(-90)">0.5</text><text transform="translate(1797.0,469.5) rotate(-90)">0.4</text><text transform="translate(1923.0,469.5) rotate(-90)">0.3</text><text transform="translate(2049.0,469.5) rotate(-90)">0.2</text><text transform="translate(2175.0,469.5) rotate(-90)">0.1</text><text transform="translate(2301.0,469.5) rotate(-90)">0.0</text><text transform="translate(2427.0,469.5) rotate(-90)">−0.1</text><text transform="translate(2553.0,469.5) rotate(-90)">−0.2</text><text transform="translate(2679.0,469.5) rotate(-90)">−0.3</text><text transform="translate(2805.0,469.5) rotate(-90)">−0.4</text><text transform="translate(2931.0,469.5) rotate(-90)">−0.5</text></g><text transform="translate(1618,734.5) rotate(-90)" text-anchor="middle" font-family="Liberation Sans, sans-serif" font-size="68">m</text></svg>
</body></html>
